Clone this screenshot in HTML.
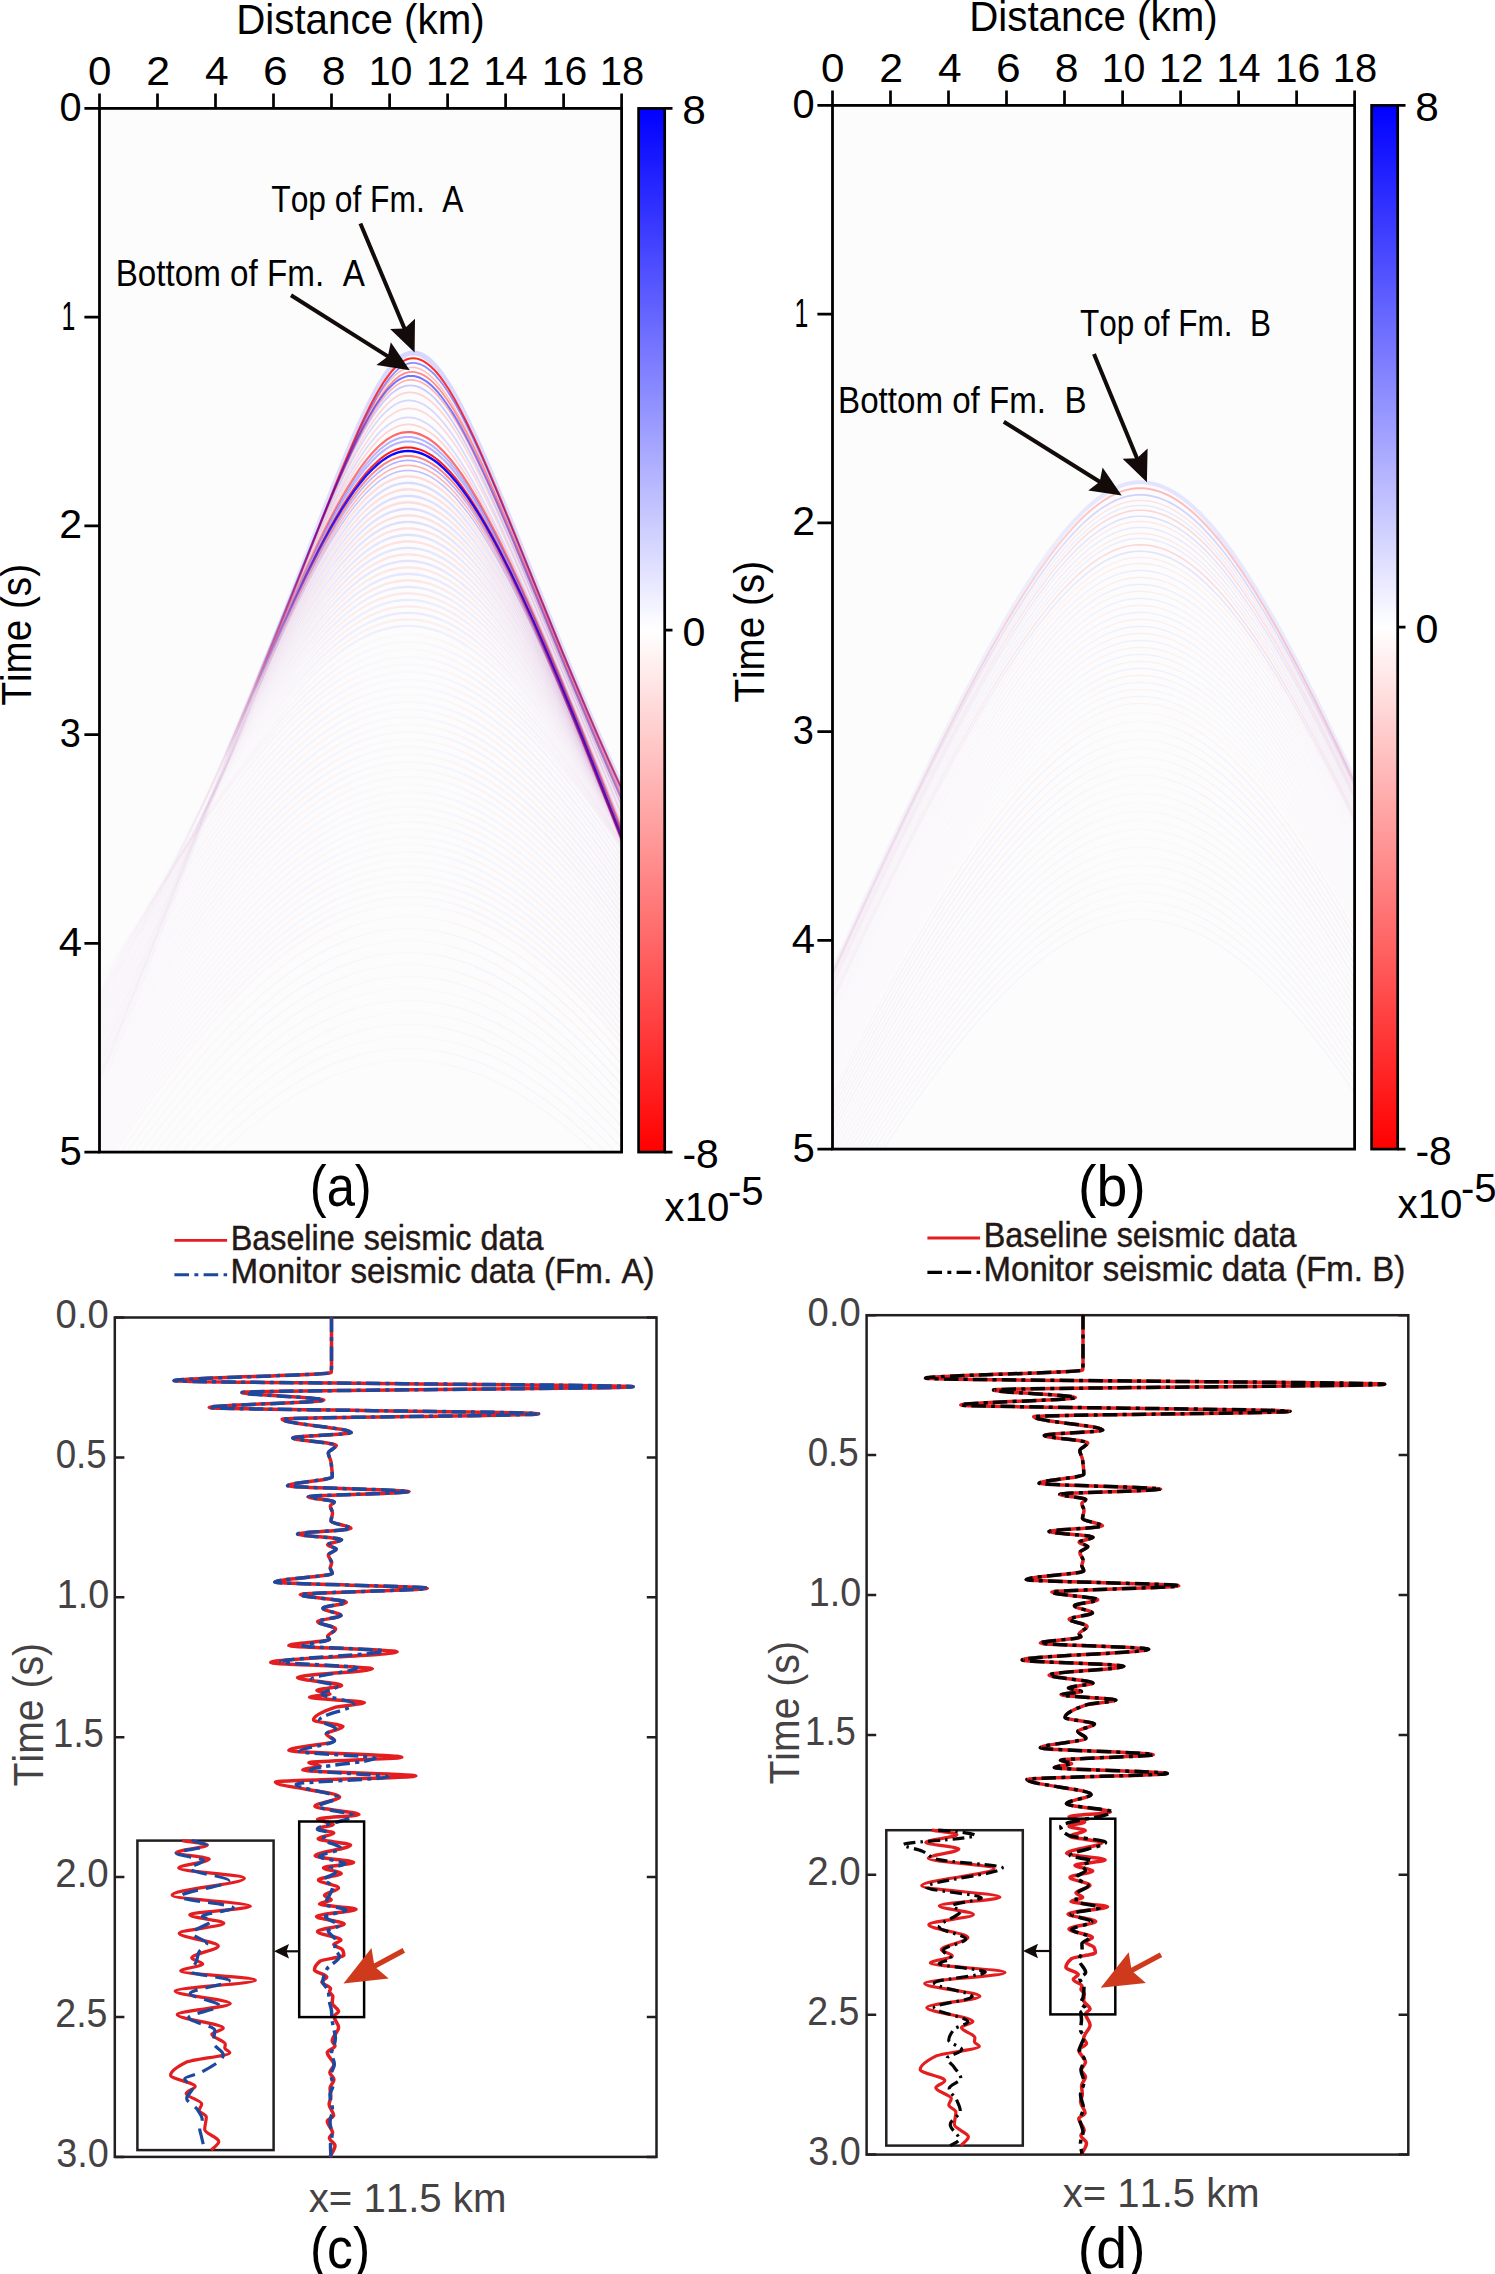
<!DOCTYPE html><html><head><meta charset="utf-8"><title>Seismic figure</title><style>html,body{margin:0;padding:0;background:#fff;}svg{display:block;font-family:"Liberation Sans",sans-serif;font-kerning:none;}text{font-family:"Liberation Sans",sans-serif;white-space:pre;}</style></head><body><svg width="1495" height="2274" viewBox="0 0 1495 2274"><defs><clipPath id="clipa"><rect x="99.5" y="108.4" width="522.1" height="1043.7"/></clipPath><linearGradient id="aLr" gradientUnits="userSpaceOnUse" x1="408.0" y1="0" x2="99.5" y2="0"><stop offset="0" stop-color="#ff0000" stop-opacity="1"/><stop offset="0.25" stop-color="#ff0000" stop-opacity="0.8"/><stop offset="0.4" stop-color="#ff0000" stop-opacity="0.35"/><stop offset="0.5" stop-color="#ff0000" stop-opacity="0.12"/><stop offset="0.6" stop-color="#ff0000" stop-opacity="0.035"/><stop offset="1" stop-color="#ff0000" stop-opacity="0.012"/></linearGradient><linearGradient id="aRr" gradientUnits="userSpaceOnUse" x1="408.0" y1="0" x2="621.6" y2="0"><stop offset="0" stop-color="#ff0000" stop-opacity="1"/><stop offset="0.5" stop-color="#ff0000" stop-opacity="0.85"/><stop offset="1" stop-color="#ff0000" stop-opacity="0.75"/></linearGradient><linearGradient id="aLfr" gradientUnits="userSpaceOnUse" x1="408.0" y1="0" x2="99.5" y2="0"><stop offset="0" stop-color="#ff0000" stop-opacity="1"/><stop offset="0.3" stop-color="#ff0000" stop-opacity="0.5"/><stop offset="0.5" stop-color="#ff0000" stop-opacity="0.15"/><stop offset="0.7" stop-color="#ff0000" stop-opacity="0.05"/><stop offset="1" stop-color="#ff0000" stop-opacity="0.03"/></linearGradient><linearGradient id="aRfr" gradientUnits="userSpaceOnUse" x1="408.0" y1="0" x2="621.6" y2="0"><stop offset="0" stop-color="#ff0000" stop-opacity="1"/><stop offset="0.3" stop-color="#ff0000" stop-opacity="0.6"/><stop offset="1" stop-color="#ff0000" stop-opacity="0.35"/></linearGradient><linearGradient id="aLgr" gradientUnits="userSpaceOnUse" x1="408.0" y1="0" x2="99.5" y2="0"><stop offset="0" stop-color="#ff0000" stop-opacity="0.3"/><stop offset="0.3" stop-color="#ff0000" stop-opacity="0.8"/><stop offset="0.6" stop-color="#ff0000" stop-opacity="0.6"/><stop offset="1" stop-color="#ff0000" stop-opacity="0.5"/></linearGradient><linearGradient id="aRgr" gradientUnits="userSpaceOnUse" x1="408.0" y1="0" x2="621.6" y2="0"><stop offset="0" stop-color="#ff0000" stop-opacity="0.3"/><stop offset="0.3" stop-color="#ff0000" stop-opacity="0.9"/><stop offset="1" stop-color="#ff0000" stop-opacity="1"/></linearGradient><linearGradient id="aLb" gradientUnits="userSpaceOnUse" x1="408.0" y1="0" x2="99.5" y2="0"><stop offset="0" stop-color="#0000ff" stop-opacity="1"/><stop offset="0.25" stop-color="#0000ff" stop-opacity="0.8"/><stop offset="0.4" stop-color="#0000ff" stop-opacity="0.35"/><stop offset="0.5" stop-color="#0000ff" stop-opacity="0.12"/><stop offset="0.6" stop-color="#0000ff" stop-opacity="0.035"/><stop offset="1" stop-color="#0000ff" stop-opacity="0.012"/></linearGradient><linearGradient id="aRb" gradientUnits="userSpaceOnUse" x1="408.0" y1="0" x2="621.6" y2="0"><stop offset="0" stop-color="#0000ff" stop-opacity="1"/><stop offset="0.5" stop-color="#0000ff" stop-opacity="0.85"/><stop offset="1" stop-color="#0000ff" stop-opacity="0.75"/></linearGradient><linearGradient id="aLfb" gradientUnits="userSpaceOnUse" x1="408.0" y1="0" x2="99.5" y2="0"><stop offset="0" stop-color="#0000ff" stop-opacity="1"/><stop offset="0.3" stop-color="#0000ff" stop-opacity="0.5"/><stop offset="0.5" stop-color="#0000ff" stop-opacity="0.15"/><stop offset="0.7" stop-color="#0000ff" stop-opacity="0.05"/><stop offset="1" stop-color="#0000ff" stop-opacity="0.03"/></linearGradient><linearGradient id="aRfb" gradientUnits="userSpaceOnUse" x1="408.0" y1="0" x2="621.6" y2="0"><stop offset="0" stop-color="#0000ff" stop-opacity="1"/><stop offset="0.3" stop-color="#0000ff" stop-opacity="0.6"/><stop offset="1" stop-color="#0000ff" stop-opacity="0.35"/></linearGradient><linearGradient id="aLgb" gradientUnits="userSpaceOnUse" x1="408.0" y1="0" x2="99.5" y2="0"><stop offset="0" stop-color="#0000ff" stop-opacity="0.3"/><stop offset="0.3" stop-color="#0000ff" stop-opacity="0.8"/><stop offset="0.6" stop-color="#0000ff" stop-opacity="0.6"/><stop offset="1" stop-color="#0000ff" stop-opacity="0.5"/></linearGradient><linearGradient id="aRgb" gradientUnits="userSpaceOnUse" x1="408.0" y1="0" x2="621.6" y2="0"><stop offset="0" stop-color="#0000ff" stop-opacity="0.3"/><stop offset="0.3" stop-color="#0000ff" stop-opacity="0.9"/><stop offset="1" stop-color="#0000ff" stop-opacity="1"/></linearGradient><linearGradient id="cba" x1="0" y1="0" x2="0" y2="1"><stop offset="0" stop-color="#0000ff"/><stop offset="0.5" stop-color="#ffffff"/><stop offset="1" stop-color="#ff0000"/></linearGradient><clipPath id="clipb"><rect x="832.5" y="105.4" width="522.1" height="1043.7"/></clipPath><linearGradient id="bLr" gradientUnits="userSpaceOnUse" x1="1140.0" y1="0" x2="832.5" y2="0"><stop offset="0" stop-color="#ff0000" stop-opacity="1"/><stop offset="0.3" stop-color="#ff0000" stop-opacity="0.6"/><stop offset="0.7" stop-color="#ff0000" stop-opacity="0.4"/><stop offset="1" stop-color="#ff0000" stop-opacity="0.3"/></linearGradient><linearGradient id="bRr" gradientUnits="userSpaceOnUse" x1="1140.0" y1="0" x2="1354.6" y2="0"><stop offset="0" stop-color="#ff0000" stop-opacity="1"/><stop offset="0.5" stop-color="#ff0000" stop-opacity="0.75"/><stop offset="1" stop-color="#ff0000" stop-opacity="0.6"/></linearGradient><linearGradient id="bLfr" gradientUnits="userSpaceOnUse" x1="1140.0" y1="0" x2="832.5" y2="0"><stop offset="0" stop-color="#ff0000" stop-opacity="1"/><stop offset="0.2" stop-color="#ff0000" stop-opacity="0.6"/><stop offset="0.5" stop-color="#ff0000" stop-opacity="0.4"/><stop offset="1" stop-color="#ff0000" stop-opacity="0.3"/></linearGradient><linearGradient id="bRfr" gradientUnits="userSpaceOnUse" x1="1140.0" y1="0" x2="1354.6" y2="0"><stop offset="0" stop-color="#ff0000" stop-opacity="1"/><stop offset="0.3" stop-color="#ff0000" stop-opacity="0.6"/><stop offset="1" stop-color="#ff0000" stop-opacity="0.35"/></linearGradient><linearGradient id="bLgr" gradientUnits="userSpaceOnUse" x1="1140.0" y1="0" x2="832.5" y2="0"><stop offset="0" stop-color="#ff0000" stop-opacity="0.3"/><stop offset="0.25" stop-color="#ff0000" stop-opacity="0.9"/><stop offset="0.6" stop-color="#ff0000" stop-opacity="1"/><stop offset="1" stop-color="#ff0000" stop-opacity="0.9"/></linearGradient><linearGradient id="bRgr" gradientUnits="userSpaceOnUse" x1="1140.0" y1="0" x2="1354.6" y2="0"><stop offset="0" stop-color="#ff0000" stop-opacity="0.3"/><stop offset="0.3" stop-color="#ff0000" stop-opacity="0.9"/><stop offset="1" stop-color="#ff0000" stop-opacity="1"/></linearGradient><linearGradient id="bLb" gradientUnits="userSpaceOnUse" x1="1140.0" y1="0" x2="832.5" y2="0"><stop offset="0" stop-color="#0000ff" stop-opacity="1"/><stop offset="0.3" stop-color="#0000ff" stop-opacity="0.6"/><stop offset="0.7" stop-color="#0000ff" stop-opacity="0.4"/><stop offset="1" stop-color="#0000ff" stop-opacity="0.3"/></linearGradient><linearGradient id="bRb" gradientUnits="userSpaceOnUse" x1="1140.0" y1="0" x2="1354.6" y2="0"><stop offset="0" stop-color="#0000ff" stop-opacity="1"/><stop offset="0.5" stop-color="#0000ff" stop-opacity="0.75"/><stop offset="1" stop-color="#0000ff" stop-opacity="0.6"/></linearGradient><linearGradient id="bLfb" gradientUnits="userSpaceOnUse" x1="1140.0" y1="0" x2="832.5" y2="0"><stop offset="0" stop-color="#0000ff" stop-opacity="1"/><stop offset="0.2" stop-color="#0000ff" stop-opacity="0.6"/><stop offset="0.5" stop-color="#0000ff" stop-opacity="0.4"/><stop offset="1" stop-color="#0000ff" stop-opacity="0.3"/></linearGradient><linearGradient id="bRfb" gradientUnits="userSpaceOnUse" x1="1140.0" y1="0" x2="1354.6" y2="0"><stop offset="0" stop-color="#0000ff" stop-opacity="1"/><stop offset="0.3" stop-color="#0000ff" stop-opacity="0.6"/><stop offset="1" stop-color="#0000ff" stop-opacity="0.35"/></linearGradient><linearGradient id="bLgb" gradientUnits="userSpaceOnUse" x1="1140.0" y1="0" x2="832.5" y2="0"><stop offset="0" stop-color="#0000ff" stop-opacity="0.3"/><stop offset="0.25" stop-color="#0000ff" stop-opacity="0.9"/><stop offset="0.6" stop-color="#0000ff" stop-opacity="1"/><stop offset="1" stop-color="#0000ff" stop-opacity="0.9"/></linearGradient><linearGradient id="bRgb" gradientUnits="userSpaceOnUse" x1="1140.0" y1="0" x2="1354.6" y2="0"><stop offset="0" stop-color="#0000ff" stop-opacity="0.3"/><stop offset="0.3" stop-color="#0000ff" stop-opacity="0.9"/><stop offset="1" stop-color="#0000ff" stop-opacity="1"/></linearGradient><linearGradient id="cbb" x1="0" y1="0" x2="0" y2="1"><stop offset="0" stop-color="#0000ff"/><stop offset="0.5" stop-color="#ffffff"/><stop offset="1" stop-color="#ff0000"/></linearGradient></defs><rect x="0" y="0" width="1495" height="2274" fill="#fff"/><rect x="99.5" y="108.4" width="522.1" height="1043.7" fill="#fcfcfd"/><g clip-path="url(#clipa)" fill="none"><path d="M413.0,352.9L410.0,353.2L407.0,354.0L404.0,355.4L401.0,357.3L398.0,359.8L395.0,362.7L392.0,366.0L389.0,369.8L386.0,374.0L383.0,378.5L377.0,388.6L371.0,399.9L365.0,412.1L359.0,425.1L353.0,438.8L347.0,453.0L341.0,467.6L335.0,482.5L329.0,497.6L323.0,512.9L311.0,543.8L299.0,574.7L287.0,605.3L275.0,635.6L263.0,665.2L251.0,694.2L239.0,722.4L227.0,749.7L215.0,776.1L203.0,801.6L183.0,842.0L163.0,879.4L143.0,914.0L123.0,945.6L103.0,974.1L83.0,999.6" stroke="url(#aLb)" stroke-opacity="0.15" stroke-width="5"/><path d="M413.0,352.9L416.0,353.2L419.0,353.9L422.0,355.1L425.0,356.9L428.0,359.0L431.0,361.6L434.0,364.6L437.0,368.0L440.0,371.8L443.0,375.9L449.0,385.1L455.0,395.5L461.0,406.7L467.0,418.8L473.0,431.6L479.0,444.9L485.0,458.6L491.0,472.7L497.0,487.1L503.0,501.7L515.0,531.3L527.0,561.3L539.0,591.2L551.0,621.0L563.0,650.4L575.0,679.4L587.0,707.9L599.0,735.8L611.0,763.0L623.0,789.5L643.0,832.0" stroke="url(#aRb)" stroke-opacity="0.15" stroke-width="5"/><path d="M413.0,358.2L410.0,358.5L407.0,359.3L404.0,360.7L401.0,362.5L398.0,364.9L395.0,367.8L392.0,371.0L389.0,374.8L386.0,378.9L383.0,383.3L377.0,393.2L371.0,404.3L365.0,416.4L359.0,429.2L353.0,442.8L347.0,456.8L341.0,471.2L335.0,486.0L329.0,501.0L323.0,516.2L311.0,546.8L299.0,577.5L287.0,607.9L275.0,638.0L263.0,667.6L251.0,696.4L239.0,724.5L227.0,751.7L215.0,778.1L203.0,803.5L183.0,843.7L163.0,881.1L143.0,915.6L123.0,947.2L103.0,975.6L83.0,1001.1" stroke="url(#aLr)" stroke-opacity="0.85" stroke-width="2.0"/><path d="M413.0,358.2L416.0,358.4L419.0,359.2L422.0,360.4L425.0,362.1L428.0,364.2L431.0,366.7L434.0,369.7L437.0,373.0L440.0,376.7L443.0,380.8L449.0,389.8L455.0,400.0L461.0,411.1L467.0,423.0L473.0,435.6L479.0,448.7L485.0,462.3L491.0,476.3L497.0,490.5L503.0,505.0L515.0,534.4L527.0,564.2L539.0,593.9L551.0,623.5L563.0,652.8L575.0,681.7L587.0,710.1L599.0,737.8L611.0,765.0L623.0,791.4L643.0,833.8" stroke="url(#aRr)" stroke-opacity="0.85" stroke-width="2.0"/><path d="M413.0,362.9L410.0,363.2L407.0,364.0L404.0,365.3L401.0,367.1L398.0,369.4L395.0,372.1L392.0,375.3L389.0,378.9L386.0,382.9L383.0,387.2L377.0,396.9L371.0,407.7L365.0,419.4L359.0,432.0L353.0,445.2L347.0,459.0L341.0,473.2L335.0,487.7L329.0,502.5L323.0,517.5L311.0,547.8L299.0,578.3L287.0,608.6L275.0,638.5L263.0,668.0L251.0,696.9L239.0,725.1L227.0,752.4L215.0,779.0L203.0,804.7L183.0,845.4L163.0,883.5L143.0,918.8L123.0,951.3L103.0,980.9L83.0,1007.6" stroke="url(#aLb)" stroke-opacity="0.45" stroke-width="1.8"/><path d="M413.0,362.9L416.0,363.1L419.0,363.9L422.0,365.0L425.0,366.6L428.0,368.7L431.0,371.2L434.0,374.0L437.0,377.3L440.0,380.9L443.0,384.8L449.0,393.6L455.0,403.5L461.0,414.4L467.0,426.0L473.0,438.4L479.0,451.3L485.0,464.7L491.0,478.4L497.0,492.5L503.0,506.8L515.0,535.9L527.0,565.4L539.0,595.0L551.0,624.6L563.0,653.8L575.0,682.7L587.0,711.2L599.0,739.1L611.0,766.4L623.0,793.0L643.0,835.9" stroke="url(#aRb)" stroke-opacity="0.45" stroke-width="1.8"/><path d="M412.0,367.4L409.0,367.7L406.0,368.4L403.0,369.7L400.0,371.5L397.0,373.7L394.0,376.3L391.0,379.4L388.0,382.9L385.0,386.7L382.0,390.9L376.0,400.3L370.0,410.8L364.0,422.3L358.0,434.6L352.0,447.6L346.0,461.1L340.0,475.1L334.0,489.4L328.0,504.0L322.0,518.8L310.0,548.8L298.0,579.0L286.0,609.1L274.0,639.0L262.0,668.4L250.0,697.3L238.0,725.6L226.0,753.1L214.0,779.9L202.0,805.8L182.0,847.1L162.0,885.9L142.0,922.0L122.0,955.5L102.0,986.2L82.0,1014.1" stroke="url(#aLr)" stroke-opacity="0.25" stroke-width="1.5"/><path d="M412.0,367.4L415.0,367.6L418.0,368.3L421.0,369.5L424.0,371.0L427.0,373.0L430.0,375.4L433.0,378.2L436.0,381.3L439.0,384.8L442.0,388.7L448.0,397.2L454.0,406.9L460.0,417.5L466.0,428.9L472.0,441.0L478.0,453.7L484.0,466.9L490.0,480.5L496.0,494.3L502.0,508.5L514.0,537.3L526.0,566.6L538.0,596.1L550.0,625.5L562.0,654.8L574.0,683.7L586.0,712.2L598.0,740.2L610.0,767.7L622.0,794.6L642.0,838.0" stroke="url(#aRr)" stroke-opacity="0.25" stroke-width="1.5"/><path d="M412.0,371.9L409.0,372.2L406.0,372.9L403.0,374.1L400.0,375.8L397.0,378.0L394.0,380.5L391.0,383.5L388.0,386.9L385.0,390.6L382.0,394.7L376.0,403.8L370.0,414.1L364.0,425.3L358.0,437.3L352.0,450.0L346.0,463.3L340.0,477.0L334.0,491.1L328.0,505.5L322.0,520.1L310.0,549.8L298.0,579.8L286.0,609.7L274.0,639.5L262.0,668.9L250.0,697.8L238.0,726.1L226.0,753.8L214.0,780.8L202.0,807.0L182.0,848.8L162.0,888.2L142.0,925.2L122.0,959.6L102.0,991.4L82.0,1020.5" stroke="url(#aLr)" stroke-opacity="0.45" stroke-width="1.8"/><path d="M412.0,371.9L415.0,372.1L418.0,372.8L421.0,373.9L424.0,375.4L427.0,377.3L430.0,379.7L433.0,382.4L436.0,385.4L439.0,388.8L442.0,392.5L448.0,400.9L454.0,410.3L460.0,420.7L466.0,431.9L472.0,443.8L478.0,456.2L484.0,469.2L490.0,482.6L496.0,496.3L502.0,510.2L514.0,538.8L526.0,567.9L538.0,597.2L550.0,626.5L562.0,655.7L574.0,684.7L586.0,713.3L598.0,741.4L610.0,769.1L622.0,796.2L642.0,840.1" stroke="url(#aRr)" stroke-opacity="0.45" stroke-width="1.8"/><path d="M411.0,375.9L408.0,376.1L405.0,376.9L402.0,378.1L399.0,379.7L396.0,381.8L393.0,384.3L390.0,387.2L387.0,390.4L384.0,394.1L381.0,398.1L375.0,407.0L369.0,417.0L363.0,428.0L357.0,439.7L351.0,452.2L345.0,465.3L339.0,478.8L333.0,492.7L327.0,506.9L321.0,521.4L309.0,550.8L297.0,580.5L285.0,610.3L273.0,640.0L261.0,669.3L249.0,698.3L237.0,726.7L225.0,754.5L213.0,781.6L201.0,808.0L181.0,850.3L161.0,890.4L141.0,928.1L121.0,963.3L101.0,996.1L81.0,1026.3" stroke="url(#aLb)" stroke-opacity="0.55" stroke-width="2.0"/><path d="M411.0,375.9L414.0,376.1L417.0,376.8L420.0,377.8L423.0,379.3L426.0,381.2L429.0,383.4L432.0,386.1L435.0,389.0L438.0,392.4L441.0,396.0L447.0,404.2L453.0,413.4L459.0,423.5L465.0,434.5L471.0,446.2L477.0,458.5L483.0,471.3L489.0,484.4L495.0,498.0L501.0,511.8L513.0,540.1L525.0,569.0L537.0,598.2L549.0,627.4L561.0,656.6L573.0,685.6L585.0,714.2L597.0,742.5L609.0,770.3L621.0,797.7L641.0,842.0" stroke="url(#aRb)" stroke-opacity="0.55" stroke-width="2.0"/><path d="M411.0,379.9L408.0,380.1L405.0,380.8L402.0,382.0L399.0,383.6L396.0,385.6L393.0,388.0L390.0,390.8L387.0,394.0L384.0,397.6L381.0,401.4L375.0,410.1L369.0,419.9L363.0,430.7L357.0,442.2L351.0,454.5L345.0,467.3L339.0,480.6L333.0,494.3L327.0,508.4L321.0,522.6L309.0,551.8L297.0,581.3L285.0,610.9L273.0,640.5L261.0,669.8L249.0,698.8L237.0,727.2L225.0,755.1L213.0,782.4L201.0,809.1L181.0,851.8L161.0,892.5L141.0,930.9L121.0,967.0L101.0,1000.8L81.0,1032.1" stroke="url(#aLr)" stroke-opacity="0.30" stroke-width="1.6"/><path d="M411.0,379.9L414.0,380.1L417.0,380.7L420.0,381.8L423.0,383.2L426.0,385.0L429.0,387.2L432.0,389.8L435.0,392.7L438.0,395.9L441.0,399.5L447.0,407.4L453.0,416.5L459.0,426.4L465.0,437.2L471.0,448.7L477.0,460.8L483.0,473.4L489.0,486.4L495.0,499.8L501.0,513.5L513.0,541.5L525.0,570.2L537.0,599.2L549.0,628.4L561.0,657.5L573.0,686.5L585.0,715.2L597.0,743.6L609.0,771.6L621.0,799.1L641.0,843.9" stroke="url(#aRr)" stroke-opacity="0.30" stroke-width="1.6"/><path d="M410.0,385.4L407.0,385.6L404.0,386.3L401.0,387.4L398.0,388.9L395.0,390.9L392.0,393.2L389.0,395.9L386.0,399.0L383.0,402.4L380.0,406.1L374.0,414.5L368.0,424.0L362.0,434.4L356.0,445.7L350.0,457.6L344.0,470.1L338.0,483.2L332.0,496.6L326.0,510.4L320.0,524.5L308.0,553.2L296.0,582.4L284.0,611.8L272.0,641.3L260.0,670.5L248.0,699.5L236.0,728.0L224.0,756.1L212.0,783.6L200.0,810.6L180.0,854.0L160.0,895.4L140.0,934.9L120.0,972.1L100.0,1007.2L80.0,1040.0" stroke="url(#aLb)" stroke-opacity="0.20" stroke-width="1.8"/><path d="M410.0,385.4L413.0,385.6L416.0,386.2L419.0,387.2L422.0,388.6L425.0,390.3L428.0,392.5L431.0,394.9L434.0,397.7L437.0,400.8L440.0,404.3L446.0,412.0L452.0,420.8L458.0,430.4L464.0,440.9L470.0,452.1L476.0,464.0L482.0,476.3L488.0,489.1L494.0,502.3L500.0,515.8L512.0,543.5L524.0,571.9L536.0,600.7L548.0,629.8L560.0,658.9L572.0,687.9L584.0,716.7L596.0,745.2L608.0,773.4L620.0,801.2L640.0,846.5" stroke="url(#aRb)" stroke-opacity="0.20" stroke-width="1.8"/><path d="M410.0,392.4L407.0,392.6L404.0,393.2L401.0,394.3L398.0,395.7L395.0,397.6L392.0,399.8L389.0,402.4L386.0,405.3L383.0,408.6L380.0,412.1L374.0,420.2L368.0,429.2L362.0,439.3L356.0,450.1L350.0,461.7L344.0,473.9L338.0,486.5L332.0,499.6L326.0,513.1L320.0,526.9L308.0,555.1L296.0,584.0L284.0,613.1L272.0,642.3L260.0,671.5L248.0,700.5L236.0,729.2L224.0,757.4L212.0,785.2L200.0,812.5L180.0,856.8L160.0,899.3L140.0,939.9L120.0,978.7L100.0,1015.4L80.0,1050.2" stroke="url(#aLr)" stroke-opacity="0.16" stroke-width="1.8"/><path d="M410.0,392.4L413.0,392.6L416.0,393.2L419.0,394.1L422.0,395.4L425.0,397.1L428.0,399.1L431.0,401.5L434.0,404.2L437.0,407.1L440.0,410.4L446.0,417.8L452.0,426.3L458.0,435.6L464.0,445.8L470.0,456.6L476.0,468.1L482.0,480.2L488.0,492.7L494.0,505.6L500.0,518.8L512.0,546.1L524.0,574.1L536.0,602.7L548.0,631.6L560.0,660.6L572.0,689.6L584.0,718.6L596.0,747.3L608.0,775.7L620.0,803.9L640.0,849.9" stroke="url(#aRr)" stroke-opacity="0.16" stroke-width="1.8"/><path d="M409.0,400.4L406.0,400.6L403.0,401.2L400.0,402.2L397.0,403.5L394.0,405.3L391.0,407.4L388.0,409.8L385.0,412.6L382.0,415.7L379.0,419.0L373.0,426.7L367.0,435.3L361.0,444.9L355.0,455.4L349.0,466.5L343.0,478.2L337.0,490.5L331.0,503.3L325.0,516.4L319.0,529.8L307.0,557.5L295.0,585.9L283.0,614.7L271.0,643.7L259.0,672.8L247.0,701.8L235.0,730.5L223.0,759.0L211.0,787.1L199.0,814.9L179.0,860.0L159.0,903.7L139.0,945.8L119.0,986.2L99.0,1024.9L79.0,1061.8" stroke="url(#aLb)" stroke-opacity="0.15" stroke-width="1.8"/><path d="M409.0,400.4L412.0,400.6L415.0,401.1L418.0,402.0L421.0,403.3L424.0,404.8L427.0,406.8L430.0,409.0L433.0,411.5L436.0,414.4L439.0,417.5L445.0,424.6L451.0,432.6L457.0,441.6L463.0,451.4L469.0,461.9L475.0,473.0L481.0,484.7L487.0,496.9L493.0,509.5L499.0,522.4L511.0,549.2L523.0,576.8L535.0,605.1L547.0,633.8L559.0,662.8L571.0,691.8L583.0,720.8L595.0,749.7L607.0,778.5L619.0,807.0L639.0,853.9" stroke="url(#aRb)" stroke-opacity="0.15" stroke-width="1.8"/><path d="M409.0,408.4L406.0,408.6L403.0,409.1L400.0,410.1L397.0,411.4L394.0,413.0L391.0,415.0L388.0,417.3L385.0,419.9L382.0,422.8L379.0,426.0L373.0,433.3L367.0,441.5L361.0,450.7L355.0,460.7L349.0,471.4L343.0,482.8L337.0,494.7L331.0,507.0L325.0,519.8L319.0,532.9L307.0,560.0L295.0,587.9L283.0,616.4L271.0,645.2L259.0,674.2L247.0,703.1L235.0,732.0L223.0,760.7L211.0,789.1L199.0,817.3L179.0,863.3L159.0,908.1L139.0,951.6L119.0,993.7L99.0,1034.3L79.0,1073.4" stroke="url(#aLr)" stroke-opacity="0.14" stroke-width="1.8"/><path d="M409.0,408.4L412.0,408.6L415.0,409.1L418.0,409.9L421.0,411.1L424.0,412.6L427.0,414.4L430.0,416.5L433.0,419.0L436.0,421.7L439.0,424.6L445.0,431.4L451.0,439.1L457.0,447.7L463.0,457.1L469.0,467.3L475.0,478.0L481.0,489.4L487.0,501.2L493.0,513.5L499.0,526.1L511.0,552.4L523.0,579.7L535.0,607.7L547.0,636.2L559.0,665.0L571.0,694.0L583.0,723.1L595.0,752.3L607.0,781.3L619.0,810.2L639.0,857.9" stroke="url(#aRr)" stroke-opacity="0.14" stroke-width="1.8"/><path d="M408.0,417.4L405.0,417.6L402.0,418.1L399.0,419.0L396.0,420.2L393.0,421.7L390.0,423.5L387.0,425.7L384.0,428.2L381.0,430.9L378.0,433.9L372.0,440.8L366.0,448.6L360.0,457.4L354.0,466.9L348.0,477.1L342.0,488.0L336.0,499.5L330.0,511.4L324.0,523.8L318.0,536.6L306.0,563.0L294.0,590.4L282.0,618.5L270.0,647.1L258.0,675.9L246.0,704.8L234.0,733.8L222.0,762.7L210.0,791.5L198.0,820.1L178.0,867.1L158.0,913.2L138.0,958.3L118.0,1002.3L98.0,1045.0L78.0,1086.5" stroke="url(#aLb)" stroke-opacity="0.14" stroke-width="1.8"/><path d="M408.0,417.4L411.0,417.6L414.0,418.0L417.0,418.8L420.0,419.9L423.0,421.4L426.0,423.1L429.0,425.1L432.0,427.3L435.0,429.9L438.0,432.7L444.0,439.1L450.0,446.5L456.0,454.7L462.0,463.7L468.0,473.4L474.0,483.8L480.0,494.8L486.0,506.2L492.0,518.2L498.0,530.5L510.0,556.2L522.0,583.0L534.0,610.7L546.0,638.9L558.0,667.7L570.0,696.7L582.0,725.9L594.0,755.2L606.0,784.6L618.0,813.9L638.0,862.5" stroke="url(#aRb)" stroke-opacity="0.14" stroke-width="1.8"/><path d="M408.0,424.4L405.0,424.6L402.0,425.1L399.0,425.9L396.0,427.0L393.0,428.5L390.0,430.2L387.0,432.3L384.0,434.6L381.0,437.2L378.0,440.1L372.0,446.7L366.0,454.2L360.0,462.6L354.0,471.8L348.0,481.7L342.0,492.3L336.0,503.4L330.0,515.0L324.0,527.1L318.0,539.6L306.0,565.5L294.0,592.5L282.0,620.3L270.0,648.6L258.0,677.3L246.0,706.3L234.0,735.3L222.0,764.4L210.0,793.4L198.0,822.3L178.0,870.1L158.0,917.2L138.0,963.6L118.0,1009.0L98.0,1053.4L78.0,1096.7" stroke="url(#aLr)" stroke-opacity="0.16" stroke-width="1.8"/><path d="M408.0,424.4L411.0,424.6L414.0,425.0L417.0,425.8L420.0,426.8L423.0,428.2L426.0,429.8L429.0,431.7L432.0,433.9L435.0,436.3L438.0,439.0L444.0,445.2L450.0,452.3L456.0,460.2L462.0,468.9L468.0,478.3L474.0,488.4L480.0,499.1L486.0,510.3L492.0,521.9L498.0,534.0L510.0,559.3L522.0,585.7L534.0,613.1L546.0,641.2L558.0,669.8L570.0,698.8L582.0,728.1L594.0,757.6L606.0,787.2L618.0,816.8L638.0,866.1" stroke="url(#aRr)" stroke-opacity="0.16" stroke-width="1.8"/><path d="M408.0,432.1L405.0,432.3L402.0,432.7L399.0,433.5L396.0,434.6L393.0,435.9L390.0,437.6L387.0,439.5L384.0,441.8L381.0,444.3L378.0,447.0L372.0,453.2L366.0,460.4L360.0,468.4L354.0,477.3L348.0,486.8L342.0,497.0L336.0,507.8L330.0,519.1L324.0,530.8L318.0,543.0L306.0,568.4L294.0,594.9L282.0,622.4L270.0,650.5L258.0,679.0L246.0,707.9L234.0,737.1L222.0,766.3L210.0,795.6L198.0,824.9L178.0,873.5L158.0,921.7L138.0,969.3L118.0,1016.3L98.0,1062.5L78.0,1107.9" stroke="url(#aLr)" stroke-opacity="0.60" stroke-width="2.2"/><path d="M408.0,432.1L411.0,432.2L414.0,432.7L417.0,433.4L420.0,434.4L423.0,435.7L426.0,437.2L429.0,439.0L432.0,441.1L435.0,443.4L438.0,446.0L444.0,451.9L450.0,458.7L456.0,466.3L462.0,474.7L468.0,483.8L474.0,493.6L480.0,503.9L486.0,514.8L492.0,526.2L498.0,538.0L510.0,562.8L522.0,588.9L534.0,615.9L546.0,643.8L558.0,672.3L570.0,701.3L582.0,730.7L594.0,760.3L606.0,790.1L618.0,820.1L638.0,870.2" stroke="url(#aRr)" stroke-opacity="0.60" stroke-width="2.2"/><path d="M408.0,436.9L405.0,437.1L402.0,437.5L399.0,438.2L396.0,439.3L393.0,440.6L390.0,442.2L387.0,444.1L384.0,446.2L381.0,448.6L378.0,451.3L372.0,457.4L366.0,464.3L360.0,472.1L354.0,480.7L348.0,490.1L342.0,500.0L336.0,510.6L330.0,521.6L324.0,533.2L318.0,545.2L306.0,570.3L294.0,596.5L282.0,623.7L270.0,651.7L258.0,680.2L246.0,709.0L234.0,738.2L222.0,767.6L210.0,797.0L198.0,826.5L178.0,875.6L158.0,924.5L138.0,973.0L118.0,1020.9L98.0,1068.3L78.0,1115.0" stroke="url(#aLb)" stroke-opacity="0.30" stroke-width="2"/><path d="M408.0,436.9L411.0,437.0L414.0,437.5L417.0,438.2L420.0,439.1L423.0,440.4L426.0,441.9L429.0,443.6L432.0,445.6L435.0,447.9L438.0,450.4L444.0,456.1L450.0,462.7L456.0,470.1L462.0,478.3L468.0,487.3L474.0,496.8L480.0,507.0L486.0,517.7L492.0,528.9L498.0,540.6L510.0,565.0L522.0,590.9L534.0,617.7L546.0,645.5L558.0,673.9L570.0,702.9L582.0,732.3L594.0,762.0L606.0,792.0L618.0,822.2L638.0,872.7" stroke="url(#aRb)" stroke-opacity="0.30" stroke-width="2"/><path d="M408.0,441.4L405.0,441.5L402.0,442.0L399.0,442.7L396.0,443.7L393.0,445.0L390.0,446.5L387.0,448.3L384.0,450.4L381.0,452.8L378.0,455.3L372.0,461.2L366.0,468.0L360.0,475.6L354.0,484.0L348.0,493.1L342.0,502.9L336.0,513.2L330.0,524.1L324.0,535.5L318.0,547.3L306.0,572.0L294.0,598.1L282.0,625.1L270.0,652.8L258.0,681.2L246.0,710.1L234.0,739.3L222.0,768.8L210.0,798.4L198.0,828.1L178.0,877.7L158.0,927.2L138.0,976.4L118.0,1025.3L98.0,1073.7L78.0,1121.5" stroke="url(#aLb)" stroke-opacity="0.30" stroke-width="2"/><path d="M408.0,441.4L411.0,441.5L414.0,441.9L417.0,442.6L420.0,443.5L423.0,444.7L426.0,446.2L429.0,447.9L432.0,449.9L435.0,452.1L438.0,454.5L444.0,460.1L450.0,466.5L456.0,473.8L462.0,481.8L468.0,490.5L474.0,499.9L480.0,509.9L486.0,520.4L492.0,531.5L498.0,543.0L510.0,567.2L522.0,592.8L534.0,619.5L546.0,647.1L558.0,675.5L570.0,704.4L582.0,733.9L594.0,763.7L606.0,793.8L618.0,824.2L638.0,875.2" stroke="url(#aRb)" stroke-opacity="0.30" stroke-width="2"/><path d="M408.0,447.5L405.0,447.6L402.0,448.1L399.0,448.7L396.0,449.7L393.0,450.9L390.0,452.4L387.0,454.1L384.0,456.1L381.0,458.4L378.0,460.9L372.0,466.5L366.0,473.0L360.0,480.4L354.0,488.5L348.0,497.4L342.0,506.8L336.0,516.9L330.0,527.5L324.0,538.7L318.0,550.2L306.0,574.5L294.0,600.2L282.0,626.9L270.0,654.5L258.0,682.8L246.0,711.6L234.0,740.9L222.0,770.4L210.0,800.2L198.0,830.2L178.0,880.4L158.0,930.8L138.0,981.1L118.0,1031.2L98.0,1081.0L78.0,1130.5" stroke="url(#aLr)" stroke-opacity="0.90" stroke-width="2.0"/><path d="M408.0,447.5L411.0,447.6L414.0,448.0L417.0,448.7L420.0,449.6L423.0,450.7L426.0,452.1L429.0,453.8L432.0,455.6L435.0,457.8L438.0,460.1L444.0,465.5L450.0,471.7L456.0,478.7L462.0,486.5L468.0,495.0L474.0,504.2L480.0,513.9L486.0,524.2L492.0,535.0L498.0,546.3L510.0,570.2L522.0,595.4L534.0,621.9L546.0,649.3L558.0,677.6L570.0,706.5L582.0,736.0L594.0,766.0L606.0,796.3L618.0,826.9L638.0,878.5" stroke="url(#aRr)" stroke-opacity="0.90" stroke-width="2.0"/><path d="M408.0,451.0L405.0,451.1L402.0,451.5L399.0,452.2L396.0,453.1L393.0,454.3L390.0,455.8L387.0,457.5L384.0,459.4L381.0,461.6L378.0,464.0L372.0,469.6L366.0,475.9L360.0,483.2L354.0,491.1L348.0,499.8L342.0,509.1L336.0,519.1L330.0,529.5L324.0,540.5L318.0,551.9L306.0,576.0L294.0,601.5L282.0,628.0L270.0,655.5L258.0,683.7L246.0,712.5L234.0,741.8L222.0,771.4L210.0,801.3L198.0,831.5L178.0,882.1L158.0,932.9L138.0,983.7L118.0,1034.6L98.0,1085.2L78.0,1135.6" stroke="url(#aLb)" stroke-opacity="1.00" stroke-width="2.4"/><path d="M408.0,451.0L411.0,451.1L414.0,451.5L417.0,452.1L420.0,453.0L423.0,454.1L426.0,455.5L429.0,457.1L432.0,458.9L435.0,461.0L438.0,463.3L444.0,468.6L450.0,474.7L456.0,481.6L462.0,489.2L468.0,497.6L474.0,506.6L480.0,516.2L486.0,526.4L492.0,537.1L498.0,548.3L510.0,571.9L522.0,597.0L534.0,623.3L546.0,650.7L558.0,678.9L570.0,707.8L582.0,737.3L594.0,767.3L606.0,797.7L618.0,828.5L638.0,880.4" stroke="url(#aRb)" stroke-opacity="1.00" stroke-width="2.4"/><path d="M408.0,456.0L405.0,456.1L402.0,456.5L399.0,457.2L396.0,458.1L393.0,459.2L390.0,460.7L387.0,462.3L384.0,464.2L381.0,466.4L378.0,468.7L372.0,474.1L366.0,480.4L360.0,487.5L354.0,495.4L348.0,503.9L342.0,513.2L336.0,523.0L330.0,533.4L324.0,544.3L318.0,555.7L306.0,579.7L294.0,605.2L282.0,631.8L270.0,659.5L258.0,688.0L246.0,717.1L234.0,746.8L222.0,776.9L210.0,807.4L198.0,838.2L178.0,890.0L158.0,942.2L138.0,994.7L118.0,1047.3L98.0,1100.0L78.0,1152.5" stroke="url(#aLr)" stroke-opacity="0.50" stroke-width="2.0"/><path d="M408.0,456.0L411.0,456.1L414.0,456.5L417.0,457.1L420.0,458.0L423.0,459.1L426.0,460.4L429.0,462.0L432.0,463.8L435.0,465.8L438.0,468.0L444.0,473.2L450.0,479.2L456.0,485.9L462.0,493.5L468.0,501.7L474.0,510.5L480.0,520.0L486.0,530.1L492.0,540.6L498.0,551.7L510.0,575.1L522.0,600.0L534.0,626.2L546.0,653.5L558.0,681.6L570.0,710.6L582.0,740.1L594.0,770.3L606.0,800.8L618.0,831.8L638.0,884.1" stroke="url(#aRr)" stroke-opacity="0.50" stroke-width="2.0"/><path d="M408.0,460.4L405.0,460.5L402.0,460.9L399.0,461.5L396.0,462.4L393.0,463.6L390.0,464.9L387.0,466.6L384.0,468.4L381.0,470.5L378.0,472.8L372.0,478.1L366.0,484.3L360.0,491.2L354.0,498.9L348.0,507.3L342.0,516.4L336.0,526.0L330.0,536.2L324.0,546.9L318.0,558.1L306.0,581.8L294.0,606.8L282.0,633.1L270.0,660.4L258.0,688.5L246.0,717.3L234.0,746.6L222.0,776.4L210.0,806.6L198.0,837.0L178.0,888.3L158.0,940.1L138.0,992.1L118.0,1044.2L98.0,1096.4L78.0,1148.6" stroke="url(#aLb)" stroke-opacity="0.30" stroke-width="1.6"/><path d="M408.0,460.4L411.0,460.5L414.0,460.9L417.0,461.5L420.0,462.3L423.0,463.4L426.0,464.7L429.0,466.2L432.0,468.0L435.0,470.0L438.0,472.2L444.0,477.2L450.0,483.1L456.0,489.7L462.0,497.1L468.0,505.1L474.0,513.9L480.0,523.2L486.0,533.0L492.0,543.4L498.0,554.3L510.0,577.4L522.0,601.9L534.0,627.8L546.0,654.7L558.0,682.5L570.0,711.1L582.0,740.3L594.0,770.1L606.0,800.4L618.0,831.1L638.0,882.9" stroke="url(#aRb)" stroke-opacity="0.30" stroke-width="1.6"/><path d="M408.0,465.4L405.0,465.5L402.0,465.9L399.0,466.5L396.0,467.4L393.0,468.5L390.0,469.8L387.0,471.4L384.0,473.2L381.0,475.3L378.0,477.5L372.0,482.7L366.0,488.7L360.0,495.5L354.0,503.0L348.0,511.2L342.0,520.0L336.0,529.5L330.0,539.5L324.0,550.0L318.0,560.9L306.0,584.1L294.0,608.8L282.0,634.6L270.0,661.5L258.0,689.2L246.0,717.6L234.0,746.5L222.0,775.9L210.0,805.7L198.0,835.8L178.0,886.5L158.0,937.7L138.0,989.1L118.0,1040.8L98.0,1092.4L78.0,1144.1" stroke="url(#aLr)" stroke-opacity="0.30" stroke-width="1.6"/><path d="M408.0,465.4L411.0,465.5L414.0,465.9L417.0,466.5L420.0,467.3L423.0,468.3L426.0,469.6L429.0,471.1L432.0,472.8L435.0,474.7L438.0,476.9L444.0,481.8L450.0,487.5L456.0,494.0L462.0,501.2L468.0,509.1L474.0,517.6L480.0,526.8L486.0,536.4L492.0,546.6L498.0,557.3L510.0,580.0L522.0,604.1L534.0,629.5L546.0,656.1L558.0,683.5L570.0,711.7L582.0,740.6L594.0,770.1L606.0,800.0L618.0,830.3L638.0,881.6" stroke="url(#aRr)" stroke-opacity="0.30" stroke-width="1.6"/><path d="M408.0,470.4L405.0,470.5L402.0,470.9L399.0,471.5L396.0,472.3L393.0,473.4L390.0,474.7L387.0,476.2L384.0,478.0L381.0,480.0L378.0,482.2L372.0,487.2L366.0,493.1L360.0,499.7L354.0,507.0L348.0,515.1L342.0,523.7L336.0,533.0L330.0,542.7L324.0,553.0L318.0,563.8L306.0,586.6L294.0,610.8L282.0,636.2L270.0,662.6L258.0,689.9L246.0,717.9L234.0,746.4L222.0,775.5L210.0,804.9L198.0,834.6L178.0,884.7L158.0,935.3L138.0,986.3L118.0,1037.3L98.0,1088.5L78.0,1139.6" stroke="url(#aLb)" stroke-opacity="0.25" stroke-width="1.5"/><path d="M408.0,470.4L411.0,470.5L414.0,470.9L417.0,471.4L420.0,472.2L423.0,473.2L426.0,474.5L429.0,475.9L432.0,477.6L435.0,479.5L438.0,481.6L444.0,486.4L450.0,492.0L456.0,498.3L462.0,505.4L468.0,513.1L474.0,521.4L480.0,530.4L486.0,539.9L492.0,549.9L498.0,560.4L510.0,582.6L522.0,606.3L534.0,631.4L546.0,657.5L558.0,684.6L570.0,712.4L582.0,741.0L594.0,770.1L606.0,799.6L618.0,829.6L638.0,880.4" stroke="url(#aRb)" stroke-opacity="0.25" stroke-width="1.5"/><path d="M408.0,476.4L405.0,476.5L402.0,476.9L399.0,477.5L396.0,478.3L393.0,479.3L390.0,480.6L387.0,482.1L384.0,483.8L381.0,485.7L378.0,487.8L372.0,492.7L366.0,498.4L360.0,504.8L354.0,512.0L348.0,519.8L342.0,528.2L336.0,537.2L330.0,546.7L324.0,556.8L318.0,567.3L306.0,589.5L294.0,613.2L282.0,638.2L270.0,664.1L258.0,690.9L246.0,718.4L234.0,746.5L222.0,775.0L210.0,804.0L198.0,833.3L178.0,882.7L158.0,932.6L138.0,982.9L118.0,1033.3L98.0,1083.8L78.0,1134.3" stroke="url(#aLfr)" stroke-opacity="0.14" stroke-width="2.4"/><path d="M408.0,476.4L411.0,476.5L414.0,476.8L417.0,477.4L420.0,478.2L423.0,479.2L426.0,480.4L429.0,481.8L432.0,483.4L435.0,485.2L438.0,487.3L444.0,491.9L450.0,497.4L456.0,503.5L462.0,510.4L468.0,517.9L474.0,526.1L480.0,534.8L486.0,544.0L492.0,553.8L498.0,564.1L510.0,585.8L522.0,609.1L534.0,633.7L546.0,659.3L558.0,685.9L570.0,713.4L582.0,741.4L594.0,770.1L606.0,799.3L618.0,828.9L638.0,879.0" stroke="url(#aRfr)" stroke-opacity="0.14" stroke-width="2.4"/><path d="M408.0,482.9L405.0,483.0L402.0,483.4L399.0,483.9L396.0,484.7L393.0,485.7L390.0,486.9L387.0,488.4L384.0,490.0L381.0,491.9L378.0,494.0L372.0,498.7L366.0,504.2L360.0,510.4L354.0,517.3L348.0,524.9L342.0,533.1L336.0,541.8L330.0,551.1L324.0,560.9L318.0,571.1L306.0,592.8L294.0,616.0L282.0,640.4L270.0,665.8L258.0,692.0L246.0,719.0L234.0,746.6L222.0,774.6L210.0,803.1L198.0,831.9L178.0,880.6L158.0,929.7L138.0,979.3L118.0,1029.0L98.0,1078.9L78.0,1128.7" stroke="url(#aLfb)" stroke-opacity="0.14" stroke-width="2.4"/><path d="M408.0,482.9L411.0,483.0L414.0,483.3L417.0,483.9L420.0,484.6L423.0,485.6L426.0,486.7L429.0,488.1L432.0,489.7L435.0,491.5L438.0,493.4L444.0,498.0L450.0,503.2L456.0,509.2L462.0,515.9L468.0,523.2L474.0,531.1L480.0,539.6L486.0,548.6L492.0,558.1L498.0,568.1L510.0,589.4L522.0,612.2L534.0,636.2L546.0,661.4L558.0,687.5L570.0,714.4L582.0,742.0L594.0,770.3L606.0,799.0L618.0,828.1L638.0,877.5" stroke="url(#aRfb)" stroke-opacity="0.14" stroke-width="2.4"/><path d="M408.0,489.4L405.0,489.5L402.0,489.8L399.0,490.4L396.0,491.1L393.0,492.1L390.0,493.3L387.0,494.7L384.0,496.3L381.0,498.1L378.0,500.1L372.0,504.7L366.0,510.0L360.0,516.0L354.0,522.7L348.0,530.1L342.0,538.0L336.0,546.5L330.0,555.6L324.0,565.1L318.0,575.1L306.0,596.2L294.0,618.8L282.0,642.7L270.0,667.5L258.0,693.2L246.0,719.7L234.0,746.8L222.0,774.3L210.0,802.3L198.0,830.7L178.0,878.5L158.0,927.0L138.0,975.8L118.0,1024.8L98.0,1074.0L78.0,1123.1" stroke="url(#aLfr)" stroke-opacity="0.13" stroke-width="2.4"/><path d="M408.0,489.4L411.0,489.5L414.0,489.8L417.0,490.3L420.0,491.1L423.0,492.0L426.0,493.1L429.0,494.4L432.0,496.0L435.0,497.7L438.0,499.6L444.0,504.0L450.0,509.1L456.0,514.9L462.0,521.4L468.0,528.5L474.0,536.2L480.0,544.4L486.0,553.2L492.0,562.5L498.0,572.3L510.0,593.0L522.0,615.3L534.0,638.9L546.0,663.5L558.0,689.1L570.0,715.6L582.0,742.7L594.0,770.5L606.0,798.8L618.0,827.5L638.0,876.1" stroke="url(#aRfr)" stroke-opacity="0.13" stroke-width="2.4"/><path d="M408.0,495.9L405.0,496.0L402.0,496.3L399.0,496.8L396.0,497.6L393.0,498.5L390.0,499.7L387.0,501.0L384.0,502.6L381.0,504.3L378.0,506.2L372.0,510.7L366.0,515.8L360.0,521.7L354.0,528.2L348.0,535.3L342.0,543.0L336.0,551.3L330.0,560.1L324.0,569.3L318.0,579.0L306.0,599.7L294.0,621.8L282.0,645.0L270.0,669.4L258.0,694.6L246.0,720.5L234.0,747.1L222.0,774.1L210.0,801.6L198.0,829.5L178.0,876.6L158.0,924.3L138.0,972.4L118.0,1020.7L98.0,1069.2L78.0,1117.7" stroke="url(#aLfb)" stroke-opacity="0.13" stroke-width="2.4"/><path d="M408.0,495.9L411.0,496.0L414.0,496.3L417.0,496.8L420.0,497.5L423.0,498.4L426.0,499.5L429.0,500.8L432.0,502.3L435.0,503.9L438.0,505.8L444.0,510.0L450.0,515.0L456.0,520.6L462.0,526.9L468.0,533.8L474.0,541.3L480.0,549.4L486.0,557.9L492.0,567.0L498.0,576.5L510.0,596.7L522.0,618.5L534.0,641.6L546.0,665.7L558.0,690.9L570.0,716.8L582.0,743.5L594.0,770.8L606.0,798.6L618.0,826.9L638.0,874.9" stroke="url(#aRfb)" stroke-opacity="0.13" stroke-width="2.4"/><path d="M408.0,502.4L405.0,502.5L402.0,502.8L399.0,503.3L396.0,504.0L393.0,504.9L390.0,506.0L387.0,507.4L384.0,508.8L381.0,510.5L378.0,512.4L372.0,516.7L366.0,521.7L360.0,527.4L354.0,533.7L348.0,540.6L342.0,548.1L336.0,556.1L330.0,564.6L324.0,573.7L318.0,583.1L306.0,603.2L294.0,624.8L282.0,647.5L270.0,671.3L258.0,696.0L246.0,721.4L234.0,747.4L222.0,774.0L210.0,801.1L198.0,828.5L178.0,874.8L158.0,921.7L138.0,969.1L118.0,1016.7L98.0,1064.5L78.0,1112.3" stroke="url(#aLfr)" stroke-opacity="0.13" stroke-width="2.4"/><path d="M408.0,502.4L411.0,502.5L414.0,502.8L417.0,503.3L420.0,504.0L423.0,504.8L426.0,505.9L429.0,507.1L432.0,508.6L435.0,510.2L438.0,512.0L444.0,516.1L450.0,520.9L456.0,526.4L462.0,532.5L468.0,539.2L474.0,546.5L480.0,554.3L486.0,562.6L492.0,571.5L498.0,580.7L510.0,600.5L522.0,621.8L534.0,644.4L546.0,668.0L558.0,692.7L570.0,718.2L582.0,744.4L594.0,771.2L606.0,798.6L618.0,826.4L638.0,873.7" stroke="url(#aRfr)" stroke-opacity="0.13" stroke-width="2.4"/><path d="M408.0,508.9L405.0,509.0L402.0,509.3L399.0,509.8L396.0,510.5L393.0,511.4L390.0,512.4L387.0,513.7L384.0,515.1L381.0,516.8L378.0,518.6L372.0,522.7L366.0,527.6L360.0,533.1L354.0,539.2L348.0,545.9L342.0,553.2L336.0,561.0L330.0,569.3L324.0,578.0L318.0,587.2L306.0,606.8L294.0,627.8L282.0,650.1L270.0,673.3L258.0,697.5L246.0,722.4L234.0,747.9L222.0,774.0L210.0,800.6L198.0,827.5L178.0,873.0L158.0,919.2L138.0,965.8L118.0,1012.8L98.0,1059.8L78.0,1107.0" stroke="url(#aLfb)" stroke-opacity="0.12" stroke-width="2.4"/><path d="M408.0,508.9L411.0,509.0L414.0,509.3L417.0,509.7L420.0,510.4L423.0,511.2L426.0,512.3L429.0,513.5L432.0,514.9L435.0,516.4L438.0,518.2L444.0,522.2L450.0,526.8L456.0,532.2L462.0,538.1L468.0,544.6L474.0,551.7L480.0,559.3L486.0,567.4L492.0,576.0L498.0,585.1L510.0,604.4L522.0,625.2L534.0,647.2L546.0,670.4L558.0,694.6L570.0,719.6L582.0,745.4L594.0,771.7L606.0,798.7L618.0,826.1L638.0,872.6" stroke="url(#aRfb)" stroke-opacity="0.12" stroke-width="2.4"/><path d="M408.0,515.4L405.0,515.5L402.0,515.8L399.0,516.3L396.0,516.9L393.0,517.8L390.0,518.8L387.0,520.0L384.0,521.4L381.0,523.0L378.0,524.8L372.0,528.8L366.0,533.5L360.0,538.8L354.0,544.7L348.0,551.2L342.0,558.3L336.0,565.9L330.0,573.9L324.0,582.5L318.0,591.4L306.0,610.5L294.0,631.0L282.0,652.7L270.0,675.5L258.0,699.1L246.0,723.5L234.0,748.5L222.0,774.1L210.0,800.2L198.0,826.6L178.0,871.4L158.0,916.8L138.0,962.7L118.0,1008.9L98.0,1055.3L78.0,1101.8" stroke="url(#aLfr)" stroke-opacity="0.12" stroke-width="2.4"/><path d="M408.0,515.4L411.0,515.5L414.0,515.8L417.0,516.2L420.0,516.9L423.0,517.7L426.0,518.7L429.0,519.8L432.0,521.2L435.0,522.7L438.0,524.4L444.0,528.3L450.0,532.8L456.0,538.0L462.0,543.7L468.0,550.0L474.0,556.9L480.0,564.3L486.0,572.2L492.0,580.6L498.0,589.4L510.0,608.3L522.0,628.6L534.0,650.2L546.0,672.9L558.0,696.6L570.0,721.1L582.0,746.4L594.0,772.3L606.0,798.8L618.0,825.8L638.0,871.6" stroke="url(#aRfr)" stroke-opacity="0.12" stroke-width="2.4"/><path d="M408.0,521.9L405.0,522.0L402.0,522.3L399.0,522.7L396.0,523.4L393.0,524.2L390.0,525.2L387.0,526.4L384.0,527.7L381.0,529.3L378.0,531.0L372.0,534.8L366.0,539.4L360.0,544.5L354.0,550.3L348.0,556.6L342.0,563.5L336.0,570.8L330.0,578.7L324.0,586.9L318.0,595.7L306.0,614.3L294.0,634.2L282.0,655.4L270.0,677.7L258.0,700.8L246.0,724.7L234.0,749.2L222.0,774.3L210.0,799.9L198.0,825.9L178.0,869.9L158.0,914.5L138.0,959.7L118.0,1005.2L98.0,1050.9L78.0,1096.7" stroke="url(#aLfb)" stroke-opacity="0.12" stroke-width="2.4"/><path d="M408.0,521.9L411.0,522.0L414.0,522.3L417.0,522.7L420.0,523.3L423.0,524.1L426.0,525.1L429.0,526.2L432.0,527.5L435.0,529.0L438.0,530.6L444.0,534.4L450.0,538.8L456.0,543.8L462.0,549.4L468.0,555.5L474.0,562.2L480.0,569.4L486.0,577.1L492.0,585.3L498.0,593.9L510.0,612.3L522.0,632.1L534.0,653.2L546.0,675.5L558.0,698.7L570.0,722.7L582.0,747.6L594.0,773.0L606.0,799.0L618.0,825.6L638.0,870.7" stroke="url(#aRfb)" stroke-opacity="0.12" stroke-width="2.4"/><path d="M408.0,528.4L405.0,528.5L402.0,528.8L399.0,529.2L396.0,529.8L393.0,530.6L390.0,531.6L387.0,532.7L384.0,534.0L381.0,535.5L378.0,537.2L372.0,540.9L366.0,545.3L360.0,550.3L354.0,555.9L348.0,562.0L342.0,568.7L336.0,575.8L330.0,583.4L324.0,591.5L318.0,600.0L306.0,618.1L294.0,637.6L282.0,658.2L270.0,680.0L258.0,702.6L246.0,726.0L234.0,750.0L222.0,774.6L210.0,799.7L198.0,825.2L178.0,868.4L158.0,912.3L138.0,956.8L118.0,1001.5L98.0,1046.5L78.0,1091.6" stroke="url(#aLfr)" stroke-opacity="0.11" stroke-width="2.4"/><path d="M408.0,528.4L411.0,528.5L414.0,528.7L417.0,529.2L420.0,529.8L423.0,530.5L426.0,531.5L429.0,532.6L432.0,533.8L435.0,535.3L438.0,536.8L444.0,540.5L450.0,544.8L456.0,549.6L462.0,555.0L468.0,561.0L474.0,567.5L480.0,574.6L486.0,582.0L492.0,590.0L498.0,598.4L510.0,616.3L522.0,635.7L534.0,656.3L546.0,678.1L558.0,700.8L570.0,724.4L582.0,748.8L594.0,773.8L606.0,799.4L618.0,825.5L638.0,869.9" stroke="url(#aRfr)" stroke-opacity="0.11" stroke-width="2.4"/><path d="M408.0,534.9L405.0,535.0L402.0,535.2L399.0,535.7L396.0,536.3L393.0,537.0L390.0,538.0L387.0,539.1L384.0,540.4L381.0,541.8L378.0,543.4L372.0,547.0L366.0,551.3L360.0,556.1L354.0,561.5L348.0,567.5L342.0,573.9L336.0,580.9L330.0,588.3L324.0,596.1L318.0,604.3L306.0,622.0L294.0,641.0L282.0,661.1L270.0,682.4L258.0,704.5L246.0,727.3L234.0,750.9L222.0,775.0L210.0,799.6L198.0,824.6L178.0,867.1L158.0,910.2L138.0,953.9L118.0,998.0L98.0,1042.3L78.0,1086.7" stroke="url(#aLfb)" stroke-opacity="0.11" stroke-width="2.4"/><path d="M408.0,534.9L411.0,535.0L414.0,535.2L417.0,535.6L420.0,536.2L423.0,537.0L426.0,537.9L429.0,538.9L432.0,540.2L435.0,541.5L438.0,543.1L444.0,546.6L450.0,550.8L456.0,555.5L462.0,560.8L468.0,566.6L474.0,572.9L480.0,579.7L486.0,587.0L492.0,594.7L498.0,602.9L510.0,620.4L522.0,639.3L534.0,659.5L546.0,680.8L558.0,703.1L570.0,726.2L582.0,750.1L594.0,774.7L606.0,799.8L618.0,825.4L638.0,869.1" stroke="url(#aRfb)" stroke-opacity="0.11" stroke-width="2.4"/><path d="M408.0,541.4L405.0,541.5L402.0,541.7L399.0,542.2L396.0,542.7L393.0,543.5L390.0,544.4L387.0,545.5L384.0,546.7L381.0,548.1L378.0,549.6L372.0,553.1L366.0,557.2L360.0,561.9L354.0,567.2L348.0,572.9L342.0,579.2L336.0,585.9L330.0,593.1L324.0,600.7L318.0,608.8L306.0,625.9L294.0,644.4L282.0,664.1L270.0,684.8L258.0,706.4L246.0,728.8L234.0,751.9L222.0,775.5L210.0,799.6L198.0,824.2L178.0,865.8L158.0,908.2L138.0,951.2L118.0,994.5L98.0,1038.1L78.0,1081.9" stroke="url(#aLfr)" stroke-opacity="0.11" stroke-width="2.4"/><path d="M408.0,541.4L411.0,541.5L414.0,541.7L417.0,542.1L420.0,542.7L423.0,543.4L426.0,544.3L429.0,545.3L432.0,546.5L435.0,547.8L438.0,549.3L444.0,552.8L450.0,556.8L456.0,561.4L462.0,566.5L468.0,572.1L474.0,578.3L480.0,584.9L486.0,592.0L492.0,599.6L498.0,607.5L510.0,624.6L522.0,643.0L534.0,662.8L546.0,683.6L558.0,705.4L570.0,728.1L582.0,751.5L594.0,775.6L606.0,800.3L618.0,825.5L638.0,868.5" stroke="url(#aRfr)" stroke-opacity="0.11" stroke-width="2.4"/><path d="M408.0,547.9L405.0,548.0L402.0,548.2L399.0,548.6L396.0,549.2L393.0,549.9L390.0,550.8L387.0,551.8L384.0,553.0L381.0,554.3L378.0,555.8L372.0,559.3L366.0,563.2L360.0,567.8L354.0,572.9L348.0,578.4L342.0,584.5L336.0,591.1L330.0,598.0L324.0,605.4L318.0,613.2L306.0,629.9L294.0,648.0L282.0,667.2L270.0,687.4L258.0,708.5L246.0,730.4L234.0,752.9L222.0,776.1L210.0,799.7L198.0,823.8L178.0,864.7L158.0,906.3L138.0,948.6L118.0,991.2L98.0,1034.1L78.0,1077.1" stroke="url(#aLfb)" stroke-opacity="0.10" stroke-width="2.4"/><path d="M408.0,547.9L411.0,548.0L414.0,548.2L417.0,548.6L420.0,549.1L423.0,549.8L426.0,550.7L429.0,551.7L432.0,552.8L435.0,554.1L438.0,555.6L444.0,558.9L450.0,562.8L456.0,567.3L462.0,572.2L468.0,577.7L474.0,583.7L480.0,590.2L486.0,597.1L492.0,604.4L498.0,612.1L510.0,628.8L522.0,646.8L534.0,666.1L546.0,686.5L558.0,707.8L570.0,730.0L582.0,753.0L594.0,776.7L606.0,800.9L618.0,825.7L638.0,867.9" stroke="url(#aRfb)" stroke-opacity="0.10" stroke-width="2.4"/><path d="M408.0,554.4L405.0,554.5L402.0,554.7L399.0,555.1L396.0,555.6L393.0,556.3L390.0,557.2L387.0,558.2L384.0,559.3L381.0,560.6L378.0,562.1L372.0,565.4L366.0,569.2L360.0,573.6L354.0,578.6L348.0,584.0L342.0,589.9L336.0,596.2L330.0,603.0L324.0,610.2L318.0,617.8L306.0,634.0L294.0,651.6L282.0,670.3L270.0,690.0L258.0,710.6L246.0,732.0L234.0,754.1L222.0,776.8L210.0,799.9L198.0,823.5L178.0,863.7L158.0,904.6L138.0,946.0L118.0,987.9L98.0,1030.1L78.0,1072.5" stroke="url(#aLfr)" stroke-opacity="0.10" stroke-width="2.4"/><path d="M408.0,554.4L411.0,554.5L414.0,554.7L417.0,555.1L420.0,555.6L423.0,556.3L426.0,557.1L429.0,558.1L432.0,559.2L435.0,560.5L438.0,561.9L444.0,565.1L450.0,568.9L456.0,573.2L462.0,578.0L468.0,583.4L474.0,589.2L480.0,595.4L486.0,602.2L492.0,609.3L498.0,616.8L510.0,633.1L522.0,650.6L534.0,669.5L546.0,689.4L558.0,710.3L570.0,732.1L582.0,754.6L594.0,777.8L606.0,801.6L618.0,825.9L638.0,867.5" stroke="url(#aRfr)" stroke-opacity="0.10" stroke-width="2.4"/><path d="M408.0,560.9L405.0,561.0L402.0,561.2L399.0,561.6L396.0,562.1L393.0,562.8L390.0,563.6L387.0,564.6L384.0,565.7L381.0,566.9L378.0,568.3L372.0,571.5L366.0,575.3L360.0,579.5L354.0,584.3L348.0,589.6L342.0,595.3L336.0,601.4L330.0,608.0L324.0,615.0L318.0,622.4L306.0,638.2L294.0,655.3L282.0,673.5L270.0,692.7L258.0,712.9L246.0,733.8L234.0,755.4L222.0,777.6L210.0,800.2L198.0,823.4L178.0,862.7L158.0,902.9L138.0,943.6L118.0,984.8L98.0,1026.3L78.0,1067.9" stroke="url(#aLfb)" stroke-opacity="0.10" stroke-width="2.4"/><path d="M408.0,560.9L411.0,561.0L414.0,561.2L417.0,561.6L420.0,562.1L423.0,562.7L426.0,563.5L429.0,564.5L432.0,565.5L435.0,566.8L438.0,568.1L444.0,571.3L450.0,574.9L456.0,579.1L462.0,583.8L468.0,589.0L474.0,594.7L480.0,600.8L486.0,607.3L492.0,614.2L498.0,621.6L510.0,637.4L522.0,654.5L534.0,672.9L546.0,692.4L558.0,712.9L570.0,734.2L582.0,756.3L594.0,779.0L606.0,802.4L618.0,826.3L638.0,867.1" stroke="url(#aRfb)" stroke-opacity="0.10" stroke-width="2.4"/><path d="M408.0,567.4L405.0,567.5L402.0,567.7L399.0,568.1L396.0,568.6L393.0,569.2L390.0,570.0L387.0,570.9L384.0,572.0L381.0,573.2L378.0,574.6L372.0,577.7L366.0,581.3L360.0,585.4L354.0,590.1L348.0,595.1L342.0,600.7L336.0,606.7L330.0,613.1L324.0,619.8L318.0,627.0L306.0,642.4L294.0,659.0L282.0,676.8L270.0,695.5L258.0,715.2L246.0,735.6L234.0,756.7L222.0,778.4L210.0,800.7L198.0,823.3L178.0,861.9L158.0,901.3L138.0,941.3L118.0,981.7L98.0,1022.5L78.0,1063.5" stroke="url(#aLfr)" stroke-opacity="0.09" stroke-width="2.4"/><path d="M408.0,567.4L411.0,567.5L414.0,567.7L417.0,568.0L420.0,568.5L423.0,569.2L426.0,569.9L429.0,570.9L432.0,571.9L435.0,573.1L438.0,574.4L444.0,577.5L450.0,581.0L456.0,585.1L462.0,589.6L468.0,594.7L474.0,600.2L480.0,606.1L486.0,612.5L492.0,619.2L498.0,626.4L510.0,641.8L522.0,658.5L534.0,676.5L546.0,695.5L558.0,715.5L570.0,736.4L582.0,758.0L594.0,780.3L606.0,803.2L618.0,826.7L638.0,866.8" stroke="url(#aRfr)" stroke-opacity="0.09" stroke-width="2.4"/><path d="M408.0,573.9L405.0,574.0L402.0,574.2L399.0,574.5L396.0,575.0L393.0,575.7L390.0,576.4L387.0,577.3L384.0,578.4L381.0,579.5L378.0,580.9L372.0,583.9L366.0,587.4L360.0,591.4L354.0,595.8L348.0,600.8L342.0,606.1L336.0,611.9L330.0,618.1L324.0,624.7L318.0,631.7L306.0,646.6L294.0,662.8L282.0,680.1L270.0,698.4L258.0,717.6L246.0,737.6L234.0,758.2L222.0,779.4L210.0,801.2L198.0,823.3L178.0,861.2L158.0,899.8L138.0,939.0L118.0,978.8L98.0,1018.8L78.0,1059.1" stroke="url(#aLfb)" stroke-opacity="0.09" stroke-width="2.4"/><path d="M408.0,573.9L411.0,574.0L414.0,574.2L417.0,574.5L420.0,575.0L423.0,575.6L426.0,576.4L429.0,577.3L432.0,578.3L435.0,579.4L438.0,580.7L444.0,583.7L450.0,587.1L456.0,591.1L462.0,595.5L468.0,600.4L474.0,605.7L480.0,611.5L486.0,617.7L492.0,624.2L498.0,631.2L510.0,646.2L522.0,662.5L534.0,680.1L546.0,698.7L558.0,718.2L570.0,738.6L582.0,759.8L594.0,781.7L606.0,804.2L618.0,827.2L638.0,866.6" stroke="url(#aRfb)" stroke-opacity="0.09" stroke-width="2.4"/><path d="M408.0,580.4L405.0,580.5L402.0,580.7L399.0,581.0L396.0,581.5L393.0,582.1L390.0,582.8L387.0,583.7L384.0,584.7L381.0,585.9L378.0,587.1L372.0,590.0L366.0,593.4L360.0,597.3L354.0,601.6L348.0,606.4L342.0,611.6L336.0,617.3L330.0,623.3L324.0,629.7L318.0,636.4L306.0,650.9L294.0,666.7L282.0,683.6L270.0,701.4L258.0,720.1L246.0,739.6L234.0,759.7L222.0,780.5L210.0,801.8L198.0,823.5L178.0,860.5L158.0,898.4L138.0,936.9L118.0,975.9L98.0,1015.3L78.0,1054.9" stroke="url(#aLfr)" stroke-opacity="0.09" stroke-width="2.4"/><path d="M408.0,580.4L411.0,580.5L414.0,580.7L417.0,581.0L420.0,581.5L423.0,582.1L426.0,582.8L429.0,583.7L432.0,584.6L435.0,585.8L438.0,587.0L444.0,589.9L450.0,593.2L456.0,597.0L462.0,601.3L468.0,606.1L474.0,611.3L480.0,616.9L486.0,622.9L492.0,629.3L498.0,636.1L510.0,650.7L522.0,666.6L534.0,683.7L546.0,701.9L558.0,721.0L570.0,741.0L582.0,761.8L594.0,783.2L606.0,805.2L618.0,827.8L638.0,866.5" stroke="url(#aRfr)" stroke-opacity="0.09" stroke-width="2.4"/><path d="M408.0,586.9L405.0,587.0L402.0,587.2L399.0,587.5L396.0,588.0L393.0,588.5L390.0,589.3L387.0,590.1L384.0,591.1L381.0,592.2L378.0,593.4L372.0,596.2L366.0,599.5L360.0,603.3L354.0,607.5L348.0,612.1L342.0,617.2L336.0,622.6L330.0,628.4L324.0,634.7L318.0,641.2L306.0,655.3L294.0,670.6L282.0,687.1L270.0,704.4L258.0,722.7L246.0,741.7L234.0,761.4L222.0,781.7L210.0,802.5L198.0,823.7L178.0,860.0L158.0,897.1L138.0,934.9L118.0,973.2L98.0,1011.8L78.0,1050.7" stroke="url(#aLfb)" stroke-opacity="0.08" stroke-width="2.4"/><path d="M408.0,586.9L411.0,587.0L414.0,587.2L417.0,587.5L420.0,587.9L423.0,588.5L426.0,589.2L429.0,590.1L432.0,591.0L435.0,592.1L438.0,593.3L444.0,596.1L450.0,599.3L456.0,603.0L462.0,607.2L468.0,611.8L474.0,616.9L480.0,622.3L486.0,628.2L492.0,634.4L498.0,641.0L510.0,655.2L522.0,670.8L534.0,687.4L546.0,705.2L558.0,723.9L570.0,743.4L582.0,763.8L594.0,784.8L606.0,806.4L618.0,828.5L638.0,866.5" stroke="url(#aRfb)" stroke-opacity="0.08" stroke-width="2.4"/><path d="M408.0,593.4L405.0,593.5L402.0,593.7L399.0,594.0L396.0,594.4L393.0,595.0L390.0,595.7L387.0,596.5L384.0,597.5L381.0,598.5L378.0,599.7L372.0,602.4L366.0,605.6L360.0,609.2L354.0,613.3L348.0,617.8L342.0,622.7L336.0,628.0L330.0,633.6L324.0,639.7L318.0,646.0L306.0,659.7L294.0,674.6L282.0,690.6L270.0,707.6L258.0,725.3L246.0,743.9L234.0,763.1L222.0,782.9L210.0,803.3L198.0,824.1L178.0,859.6L158.0,896.0L138.0,933.0L118.0,970.6L98.0,1008.5L78.0,1046.7" stroke="url(#aLfr)" stroke-opacity="0.08" stroke-width="2.4"/><path d="M408.0,593.4L411.0,593.5L414.0,593.7L417.0,594.0L420.0,594.4L423.0,595.0L426.0,595.6L429.0,596.5L432.0,597.4L435.0,598.4L438.0,599.6L444.0,602.3L450.0,605.5L456.0,609.1L462.0,613.1L468.0,617.6L474.0,622.5L480.0,627.8L486.0,633.5L492.0,639.5L498.0,646.0L510.0,659.8L522.0,675.0L534.0,691.2L546.0,708.6L558.0,726.8L570.0,745.9L582.0,765.8L594.0,786.4L606.0,807.6L618.0,829.3L638.0,866.6" stroke="url(#aRfr)" stroke-opacity="0.08" stroke-width="2.4"/><path d="M408.0,599.9L405.0,600.0L402.0,600.1L399.0,600.5L396.0,600.9L393.0,601.4L390.0,602.1L387.0,602.9L384.0,603.8L381.0,604.8L378.0,606.0L372.0,608.6L366.0,611.7L360.0,615.2L354.0,619.2L348.0,623.5L342.0,628.3L336.0,633.4L330.0,638.9L324.0,644.7L318.0,650.9L306.0,664.2L294.0,678.7L282.0,694.3L270.0,710.7L258.0,728.1L246.0,746.2L234.0,764.9L222.0,784.3L210.0,804.2L198.0,824.5L178.0,859.3L158.0,894.9L138.0,931.2L118.0,968.0L98.0,1005.3L78.0,1042.8" stroke="url(#aLfb)" stroke-opacity="0.07" stroke-width="2.4"/><path d="M408.0,599.9L411.0,600.0L414.0,600.1L417.0,600.4L420.0,600.9L423.0,601.4L426.0,602.1L429.0,602.9L432.0,603.8L435.0,604.8L438.0,605.9L444.0,608.5L450.0,611.6L456.0,615.1L462.0,619.0L468.0,623.4L474.0,628.1L480.0,633.3L486.0,638.8L492.0,644.7L498.0,651.0L510.0,664.5L522.0,679.2L534.0,695.1L546.0,712.0L558.0,729.8L570.0,748.5L582.0,768.0L594.0,788.1L606.0,808.9L618.0,830.2L638.0,866.8" stroke="url(#aRfb)" stroke-opacity="0.07" stroke-width="2.4"/><path d="M408.0,606.4L405.0,606.5L402.0,606.6L399.0,606.9L396.0,607.4L393.0,607.9L390.0,608.5L387.0,609.3L384.0,610.2L381.0,611.2L378.0,612.3L372.0,614.8L366.0,617.8L360.0,621.2L354.0,625.1L348.0,629.3L342.0,633.9L336.0,638.8L330.0,644.2L324.0,649.8L318.0,655.8L306.0,668.8L294.0,682.8L282.0,698.0L270.0,714.0L258.0,730.9L246.0,748.5L234.0,766.8L222.0,785.7L210.0,805.2L198.0,825.0L178.0,859.0L158.0,893.9L138.0,929.5L118.0,965.6L98.0,1002.1L78.0,1038.9" stroke="url(#aLfr)" stroke-opacity="0.07" stroke-width="2.4"/><path d="M408.0,606.4L411.0,606.5L414.0,606.6L417.0,606.9L420.0,607.3L423.0,607.9L426.0,608.5L429.0,609.3L432.0,610.1L435.0,611.1L438.0,612.2L444.0,614.8L450.0,617.7L456.0,621.1L462.0,625.0L468.0,629.2L474.0,633.8L480.0,638.8L486.0,644.2L492.0,649.9L498.0,656.0L510.0,669.1L522.0,683.5L534.0,699.0L546.0,715.5L558.0,732.9L570.0,751.2L582.0,770.2L594.0,790.0L606.0,810.3L618.0,831.2L638.0,867.1" stroke="url(#aRfr)" stroke-opacity="0.07" stroke-width="2.4"/><path d="M408.0,612.9L405.0,613.0L402.0,613.1L399.0,613.4L396.0,613.8L393.0,614.3L390.0,615.0L387.0,615.7L384.0,616.6L381.0,617.5L378.0,618.6L372.0,621.1L366.0,624.0L360.0,627.3L354.0,631.0L348.0,635.0L342.0,639.5L336.0,644.3L330.0,649.5L324.0,655.0L318.0,660.8L306.0,673.4L294.0,687.0L282.0,701.7L270.0,717.3L258.0,733.8L246.0,751.0L234.0,768.8L222.0,787.3L210.0,806.3L198.0,825.7L178.0,858.9L158.0,893.1L138.0,927.9L118.0,963.3L98.0,999.1L78.0,1035.2" stroke="url(#aLfb)" stroke-opacity="0.07" stroke-width="2.4"/><path d="M408.0,612.9L411.0,613.0L414.0,613.1L417.0,613.4L420.0,613.8L423.0,614.3L426.0,615.0L429.0,615.7L432.0,616.5L435.0,617.5L438.0,618.6L444.0,621.0L450.0,623.9L456.0,627.2L462.0,630.9L468.0,635.0L474.0,639.5L480.0,644.4L486.0,649.6L492.0,655.2L498.0,661.1L510.0,673.9L522.0,687.9L534.0,703.0L546.0,719.1L558.0,736.1L570.0,753.9L582.0,772.6L594.0,791.9L606.0,811.8L618.0,832.2L638.0,867.4" stroke="url(#aRfb)" stroke-opacity="0.07" stroke-width="2.4"/><path d="M408.0,619.4L405.0,619.5L402.0,619.6L399.0,619.9L396.0,620.3L393.0,620.8L390.0,621.4L387.0,622.1L384.0,622.9L381.0,623.9L378.0,624.9L372.0,627.3L366.0,630.1L360.0,633.3L354.0,636.9L348.0,640.8L342.0,645.1L336.0,649.8L330.0,654.8L324.0,660.2L318.0,665.8L306.0,678.0L294.0,691.3L282.0,705.6L270.0,720.8L258.0,736.8L246.0,753.5L234.0,770.9L222.0,788.9L210.0,807.4L198.0,826.4L178.0,858.9L158.0,892.3L138.0,926.5L118.0,961.1L98.0,996.2L78.0,1031.6" stroke="url(#aLfr)" stroke-opacity="0.06" stroke-width="2.4"/><path d="M408.0,619.4L411.0,619.5L414.0,619.6L417.0,619.9L420.0,620.3L423.0,620.8L426.0,621.4L429.0,622.1L432.0,622.9L435.0,623.9L438.0,624.9L444.0,627.3L450.0,630.1L456.0,633.3L462.0,636.9L468.0,640.9L474.0,645.2L480.0,649.9L486.0,655.0L492.0,660.4L498.0,666.2L510.0,678.6L522.0,692.3L534.0,707.0L546.0,722.7L558.0,739.3L570.0,756.8L582.0,775.0L594.0,793.8L606.0,813.3L618.0,833.4L638.0,867.9" stroke="url(#aRfr)" stroke-opacity="0.06" stroke-width="2.4"/><path d="M408.0,625.9L405.0,626.0L402.0,626.1L399.0,626.4L396.0,626.8L393.0,627.2L390.0,627.8L387.0,628.5L384.0,629.3L381.0,630.2L378.0,631.2L372.0,633.5L366.0,636.3L360.0,639.3L354.0,642.8L348.0,646.6L342.0,650.8L336.0,655.3L330.0,660.2L324.0,665.4L318.0,670.8L306.0,682.7L294.0,695.6L282.0,709.5L270.0,724.2L258.0,739.8L246.0,756.1L234.0,773.1L222.0,790.7L210.0,808.7L198.0,827.3L178.0,859.0L158.0,891.7L138.0,925.1L118.0,959.0L98.0,993.4L78.0,1028.1" stroke="url(#aLfb)" stroke-opacity="0.06" stroke-width="2.4"/><path d="M408.0,625.9L411.0,626.0L414.0,626.1L417.0,626.4L420.0,626.8L423.0,627.2L426.0,627.8L429.0,628.5L432.0,629.3L435.0,630.2L438.0,631.2L444.0,633.5L450.0,636.3L456.0,639.4L462.0,642.9L468.0,646.7L474.0,651.0L480.0,655.6L486.0,660.5L492.0,665.8L498.0,671.4L510.0,683.5L522.0,696.7L534.0,711.1L546.0,726.4L558.0,742.6L570.0,759.7L582.0,777.4L594.0,795.9L606.0,815.0L618.0,834.6L638.0,868.4" stroke="url(#aRfb)" stroke-opacity="0.06" stroke-width="2.4"/><path d="M408.0,634.4L405.0,634.5L402.0,634.6L399.0,634.9L396.0,635.2L393.0,635.7L390.0,636.3L387.0,636.9L384.0,637.7L381.0,638.5L378.0,639.5L372.0,641.7L366.0,644.3L360.0,647.3L354.0,650.6L348.0,654.3L342.0,658.3L336.0,662.6L330.0,667.3L324.0,672.2L318.0,677.5L306.0,688.9L294.0,701.3L282.0,714.7L270.0,728.9L258.0,743.9L246.0,759.7L234.0,776.1L222.0,793.1L210.0,810.6L198.0,828.5L178.0,859.3L158.0,891.0L138.0,923.5L118.0,957.8L98.0,994.4L78.0,1031.8" stroke="url(#aLgr)" stroke-opacity="0.04" stroke-width="2.2"/><path d="M408.0,634.4L411.0,634.5L414.0,634.6L417.0,634.9L420.0,635.2L423.0,635.7L426.0,636.3L429.0,636.9L432.0,637.7L435.0,638.5L438.0,639.5L444.0,641.7L450.0,644.3L456.0,647.3L462.0,650.7L468.0,654.4L474.0,658.5L480.0,662.9L486.0,667.7L492.0,672.7L498.0,678.1L510.0,689.8L522.0,702.6L534.0,716.5L546.0,731.3L558.0,747.0L570.0,763.5L582.0,780.8L594.0,798.7L606.0,817.3L618.0,836.4L638.0,869.3" stroke="url(#aRgr)" stroke-opacity="0.04" stroke-width="2.2"/><path d="M408.0,641.9L405.0,642.0L402.0,642.1L399.0,642.3L396.0,642.7L393.0,643.1L390.0,643.7L387.0,644.3L384.0,645.1L381.0,645.9L378.0,646.8L372.0,648.9L366.0,651.4L360.0,654.3L354.0,657.5L348.0,661.0L342.0,664.9L336.0,669.1L330.0,673.6L324.0,678.4L318.0,683.4L306.0,694.4L294.0,706.4L282.0,719.3L270.0,733.1L258.0,747.7L246.0,762.9L234.0,778.8L222.0,795.3L210.0,812.3L198.0,829.8L178.0,859.7L158.0,892.8L138.0,927.1L118.0,962.5L98.0,998.9L78.0,1036.1" stroke="url(#aLgb)" stroke-opacity="0.04" stroke-width="2.2"/><path d="M408.0,641.9L411.0,641.9L414.0,642.1L417.0,642.3L420.0,642.7L423.0,643.1L426.0,643.7L429.0,644.3L432.0,645.1L435.0,645.9L438.0,646.8L444.0,649.0L450.0,651.5L456.0,654.4L462.0,657.6L468.0,661.2L474.0,665.2L480.0,669.4L486.0,674.0L492.0,679.0L498.0,684.2L510.0,695.5L522.0,707.9L534.0,721.4L546.0,735.8L558.0,751.0L570.0,767.1L582.0,783.9L594.0,801.3L606.0,819.4L618.0,838.0L638.0,870.2" stroke="url(#aRgb)" stroke-opacity="0.04" stroke-width="2.2"/><path d="M408.0,649.4L405.0,649.4L402.0,649.6L399.0,649.8L396.0,650.2L393.0,650.6L390.0,651.1L387.0,651.7L384.0,652.4L381.0,653.2L378.0,654.1L372.0,656.2L366.0,658.6L360.0,661.3L354.0,664.4L348.0,667.8L342.0,671.5L336.0,675.6L330.0,679.9L324.0,684.5L318.0,689.4L306.0,700.0L294.0,711.6L282.0,724.1L270.0,737.4L258.0,751.5L246.0,766.3L234.0,781.7L222.0,798.1L210.0,815.6L198.0,833.6L178.0,865.1L158.0,897.9L138.0,932.0L118.0,967.2L98.0,1003.4L78.0,1040.5" stroke="url(#aLgr)" stroke-opacity="0.04" stroke-width="2.2"/><path d="M408.0,649.4L411.0,649.4L414.0,649.6L417.0,649.8L420.0,650.2L423.0,650.6L426.0,651.1L429.0,651.7L432.0,652.5L435.0,653.3L438.0,654.2L444.0,656.2L450.0,658.7L456.0,661.5L462.0,664.6L468.0,668.1L474.0,671.9L480.0,676.0L486.0,680.5L492.0,685.2L498.0,690.3L510.0,701.2L522.0,713.3L534.0,726.3L546.0,740.3L558.0,755.1L570.0,770.7L582.0,787.0L594.0,804.1L606.0,821.7L618.0,839.8L638.0,871.2" stroke="url(#aRgr)" stroke-opacity="0.04" stroke-width="2.2"/><path d="M408.0,656.9L405.0,656.9L402.0,657.1L399.0,657.3L396.0,657.6L393.0,658.0L390.0,658.6L387.0,659.1L384.0,659.8L381.0,660.6L378.0,661.5L372.0,663.4L366.0,665.7L360.0,668.4L354.0,671.3L348.0,674.6L342.0,678.2L336.0,682.1L330.0,686.3L324.0,690.7L318.0,695.4L306.0,705.6L294.0,716.8L282.0,728.9L270.0,742.1L258.0,756.4L246.0,771.5L234.0,787.4L222.0,804.0L210.0,821.3L198.0,839.2L178.0,870.4L158.0,903.1L138.0,936.9L118.0,972.0L98.0,1008.0L78.0,1044.8" stroke="url(#aLgb)" stroke-opacity="0.04" stroke-width="2.2"/><path d="M408.0,656.9L411.0,656.9L414.0,657.1L417.0,657.3L420.0,657.6L423.0,658.1L426.0,658.6L429.0,659.2L432.0,659.9L435.0,660.6L438.0,661.5L444.0,663.5L450.0,665.8L456.0,668.5L462.0,671.6L468.0,674.9L474.0,678.6L480.0,682.6L486.0,686.9L492.0,691.5L498.0,696.4L510.0,707.0L522.0,718.7L534.0,731.3L546.0,744.9L558.0,759.3L570.0,774.4L582.0,790.3L594.0,806.9L606.0,824.0L618.0,841.7L638.0,872.3" stroke="url(#aRgb)" stroke-opacity="0.04" stroke-width="2.2"/><path d="M408.0,664.4L405.0,664.4L402.0,664.6L399.0,664.8L396.0,665.1L393.0,665.5L390.0,666.0L387.0,666.6L384.0,667.2L381.0,668.0L378.0,668.8L372.0,670.7L366.0,672.9L360.0,675.4L354.0,678.3L348.0,681.4L342.0,684.9L336.0,688.6L330.0,692.7L324.0,697.0L318.0,701.7L306.0,711.9L294.0,723.1L282.0,735.4L270.0,748.6L258.0,762.7L246.0,777.7L234.0,793.5L222.0,809.9L210.0,827.1L198.0,844.9L178.0,875.8L158.0,908.3L138.0,941.9L118.0,976.7L98.0,1012.6L78.0,1049.3" stroke="url(#aLgr)" stroke-opacity="0.04" stroke-width="2.2"/><path d="M408.0,664.4L411.0,664.4L414.0,664.6L417.0,664.8L420.0,665.1L423.0,665.5L426.0,666.0L429.0,666.6L432.0,667.2L435.0,668.0L438.0,668.8L444.0,670.8L450.0,673.0L456.0,675.6L462.0,678.6L468.0,681.8L474.0,685.4L480.0,689.2L486.0,693.4L492.0,697.8L498.0,702.6L510.0,712.8L522.0,724.1L534.0,736.4L546.0,749.5L558.0,763.5L570.0,778.2L582.0,793.7L594.0,809.9L606.0,827.1L618.0,844.9L638.0,875.8" stroke="url(#aRgr)" stroke-opacity="0.04" stroke-width="2.2"/><path d="M408.0,671.9L405.0,671.9L402.0,672.1L399.0,672.3L396.0,672.6L393.0,673.0L390.0,673.4L387.0,674.0L384.0,674.6L381.0,675.3L378.0,676.1L372.0,678.0L366.0,680.1L360.0,682.6L354.0,685.4L348.0,688.6L342.0,692.0L336.0,695.7L330.0,699.8L324.0,704.1L318.0,708.7L306.0,718.8L294.0,729.9L282.0,742.1L270.0,755.1L258.0,769.1L246.0,783.9L234.0,799.6L222.0,815.9L210.0,832.9L198.0,850.6L178.0,881.3L158.0,913.5L138.0,947.0L118.0,981.6L98.0,1017.2L78.0,1053.7" stroke="url(#aLgb)" stroke-opacity="0.04" stroke-width="2.2"/><path d="M408.0,671.9L411.0,671.9L414.0,672.1L417.0,672.3L420.0,672.6L423.0,673.0L426.0,673.4L429.0,674.0L432.0,674.6L435.0,675.4L438.0,676.2L444.0,678.0L450.0,680.2L456.0,682.7L462.0,685.6L468.0,688.7L474.0,692.1L480.0,695.9L486.0,699.9L492.0,704.2L498.0,708.8L510.0,718.8L522.0,729.9L534.0,742.1L546.0,755.1L558.0,769.1L570.0,783.9L582.0,799.6L594.0,815.9L606.0,832.9L618.0,850.6L638.0,881.3" stroke="url(#aRgb)" stroke-opacity="0.04" stroke-width="2.2"/><path d="M408.0,679.4L405.0,679.4L402.0,679.6L399.0,679.8L396.0,680.1L393.0,680.4L390.0,680.9L387.0,681.4L384.0,682.1L381.0,682.8L378.0,683.6L372.0,685.4L366.0,687.5L360.0,690.0L354.0,692.8L348.0,695.8L342.0,699.2L336.0,702.9L330.0,706.9L324.0,711.2L318.0,715.8L306.0,725.7L294.0,736.7L282.0,748.7L270.0,761.7L258.0,775.5L246.0,790.2L234.0,805.7L222.0,821.9L210.0,838.8L198.0,856.3L178.0,886.8L158.0,918.7L138.0,952.0L118.0,986.4L98.0,1021.9L78.0,1058.2" stroke="url(#aLgr)" stroke-opacity="0.04" stroke-width="2.2"/><path d="M408.0,679.4L411.0,679.4L414.0,679.6L417.0,679.8L420.0,680.1L423.0,680.4L426.0,680.9L429.0,681.4L432.0,682.1L435.0,682.8L438.0,683.6L444.0,685.4L450.0,687.5L456.0,690.0L462.0,692.8L468.0,695.8L474.0,699.2L480.0,702.9L486.0,706.9L492.0,711.2L498.0,715.8L510.0,725.7L522.0,736.7L534.0,748.7L546.0,761.7L558.0,775.5L570.0,790.2L582.0,805.7L594.0,821.9L606.0,838.8L618.0,856.3L638.0,886.8" stroke="url(#aRgr)" stroke-opacity="0.04" stroke-width="2.2"/><path d="M408.0,686.9L405.0,686.9L402.0,687.1L399.0,687.3L396.0,687.6L393.0,687.9L390.0,688.4L387.0,688.9L384.0,689.5L381.0,690.2L378.0,691.0L372.0,692.8L366.0,694.9L360.0,697.3L354.0,700.1L348.0,703.1L342.0,706.5L336.0,710.1L330.0,714.1L324.0,718.3L318.0,722.8L306.0,732.7L294.0,743.5L282.0,755.4L270.0,768.3L258.0,782.0L246.0,796.5L234.0,811.8L222.0,827.9L210.0,844.6L198.0,862.0L178.0,892.3L158.0,924.1L138.0,957.1L118.0,991.3L98.0,1026.6L78.0,1062.7" stroke="url(#aLgb)" stroke-opacity="0.04" stroke-width="2.2"/><path d="M408.0,686.9L411.0,686.9L414.0,687.1L417.0,687.3L420.0,687.6L423.0,687.9L426.0,688.4L429.0,688.9L432.0,689.5L435.0,690.2L438.0,691.0L444.0,692.8L450.0,694.9L456.0,697.3L462.0,700.1L468.0,703.1L474.0,706.5L480.0,710.1L486.0,714.1L492.0,718.3L498.0,722.8L510.0,732.7L522.0,743.5L534.0,755.4L546.0,768.3L558.0,782.0L570.0,796.5L582.0,811.8L594.0,827.9L606.0,844.6L618.0,862.0L638.0,892.3" stroke="url(#aRgb)" stroke-opacity="0.04" stroke-width="2.2"/><path d="M408.0,694.4L405.0,694.4L402.0,694.6L399.0,694.8L396.0,695.0L393.0,695.4L390.0,695.9L387.0,696.4L384.0,697.0L381.0,697.7L378.0,698.4L372.0,700.2L366.0,702.3L360.0,704.7L354.0,707.4L348.0,710.4L342.0,713.7L336.0,717.3L330.0,721.2L324.0,725.4L318.0,729.9L306.0,739.6L294.0,750.4L282.0,762.1L270.0,774.8L258.0,788.4L246.0,802.8L234.0,818.0L222.0,833.9L210.0,850.5L198.0,867.8L178.0,897.9L158.0,929.4L138.0,962.2L118.0,996.3L98.0,1031.3L78.0,1067.3" stroke="url(#aLgr)" stroke-opacity="0.04" stroke-width="2.2"/><path d="M408.0,694.4L411.0,694.4L414.0,694.6L417.0,694.8L420.0,695.0L423.0,695.4L426.0,695.9L429.0,696.4L432.0,697.0L435.0,697.7L438.0,698.4L444.0,700.2L450.0,702.3L456.0,704.7L462.0,707.4L468.0,710.4L474.0,713.7L480.0,717.3L486.0,721.2L492.0,725.4L498.0,729.9L510.0,739.6L522.0,750.4L534.0,762.1L546.0,774.8L558.0,788.4L570.0,802.8L582.0,818.0L594.0,833.9L606.0,850.5L618.0,867.8L638.0,897.9" stroke="url(#aRgr)" stroke-opacity="0.04" stroke-width="2.2"/><path d="M408.0,701.9L405.0,701.9L402.0,702.1L399.0,702.3L396.0,702.5L393.0,702.9L390.0,703.3L387.0,703.9L384.0,704.5L381.0,705.1L378.0,705.9L372.0,707.6L366.0,709.7L360.0,712.1L354.0,714.8L348.0,717.7L342.0,721.0L336.0,724.6L330.0,728.4L324.0,732.6L318.0,737.0L306.0,746.6L294.0,757.2L282.0,768.9L270.0,781.4L258.0,794.9L246.0,809.2L234.0,824.2L222.0,840.0L210.0,856.5L198.0,873.6L178.0,903.4L158.0,934.8L138.0,967.4L118.0,1001.2L98.0,1036.1L78.0,1071.9" stroke="url(#aLgb)" stroke-opacity="0.04" stroke-width="2.2"/><path d="M408.0,701.9L411.0,701.9L414.0,702.1L417.0,702.3L420.0,702.5L423.0,702.9L426.0,703.3L429.0,703.9L432.0,704.5L435.0,705.1L438.0,705.9L444.0,707.6L450.0,709.7L456.0,712.1L462.0,714.8L468.0,717.7L474.0,721.0L480.0,724.6L486.0,728.4L492.0,732.6L498.0,737.0L510.0,746.6L522.0,757.2L534.0,768.9L546.0,781.4L558.0,794.9L570.0,809.2L582.0,824.2L594.0,840.0L606.0,856.5L618.0,873.6L638.0,903.4" stroke="url(#aRgb)" stroke-opacity="0.04" stroke-width="2.2"/><path d="M408.0,709.4L405.0,709.4L402.0,709.6L399.0,709.8L396.0,710.0L393.0,710.4L390.0,710.8L387.0,711.3L384.0,711.9L381.0,712.6L378.0,713.3L372.0,715.1L366.0,717.1L360.0,719.5L354.0,722.1L348.0,725.0L342.0,728.3L336.0,731.8L330.0,735.6L324.0,739.7L318.0,744.0L306.0,753.6L294.0,764.1L282.0,775.6L270.0,788.1L258.0,801.4L246.0,815.5L234.0,830.5L222.0,846.1L210.0,862.4L198.0,879.4L178.0,909.1L158.0,940.2L138.0,972.6L118.0,1006.2L98.0,1040.9L78.0,1076.5" stroke="url(#aLgr)" stroke-opacity="0.04" stroke-width="2.2"/><path d="M408.0,709.4L411.0,709.4L414.0,709.6L417.0,709.8L420.0,710.0L423.0,710.4L426.0,710.8L429.0,711.3L432.0,711.9L435.0,712.6L438.0,713.3L444.0,715.1L450.0,717.1L456.0,719.5L462.0,722.1L468.0,725.0L474.0,728.3L480.0,731.8L486.0,735.6L492.0,739.7L498.0,744.0L510.0,753.6L522.0,764.1L534.0,775.6L546.0,788.1L558.0,801.4L570.0,815.5L582.0,830.5L594.0,846.1L606.0,862.4L618.0,879.4L638.0,909.1" stroke="url(#aRgr)" stroke-opacity="0.04" stroke-width="2.2"/><path d="M408.0,716.9L405.0,716.9L402.0,717.1L399.0,717.3L396.0,717.5L393.0,717.9L390.0,718.3L387.0,718.8L384.0,719.4L381.0,720.1L378.0,720.8L372.0,722.5L366.0,724.5L360.0,726.8L354.0,729.4L348.0,732.4L342.0,735.5L336.0,739.0L330.0,742.8L324.0,746.8L318.0,751.1L306.0,760.6L294.0,771.0L282.0,782.4L270.0,794.7L258.0,807.9L246.0,821.9L234.0,836.7L222.0,852.2L210.0,868.4L198.0,885.3L178.0,914.7L158.0,945.6L138.0,977.8L118.0,1011.3L98.0,1045.8L78.0,1081.2" stroke="url(#aLgb)" stroke-opacity="0.04" stroke-width="2.2"/><path d="M408.0,716.9L411.0,716.9L414.0,717.1L417.0,717.3L420.0,717.5L423.0,717.9L426.0,718.3L429.0,718.8L432.0,719.4L435.0,720.1L438.0,720.8L444.0,722.5L450.0,724.5L456.0,726.8L462.0,729.4L468.0,732.4L474.0,735.5L480.0,739.0L486.0,742.8L492.0,746.8L498.0,751.1L510.0,760.6L522.0,771.0L534.0,782.4L546.0,794.7L558.0,807.9L570.0,821.9L582.0,836.7L594.0,852.2L606.0,868.4L618.0,885.3L638.0,914.7" stroke="url(#aRgb)" stroke-opacity="0.04" stroke-width="2.2"/><path d="M408.0,724.4L405.0,724.4L402.0,724.6L399.0,724.7L396.0,725.0L393.0,725.4L390.0,725.8L387.0,726.3L384.0,726.9L381.0,727.5L378.0,728.3L372.0,729.9L366.0,731.9L360.0,734.2L354.0,736.8L348.0,739.7L342.0,742.8L336.0,746.3L330.0,750.0L324.0,754.0L318.0,758.2L306.0,767.6L294.0,777.9L282.0,789.2L270.0,801.4L258.0,814.4L246.0,828.3L234.0,843.0L222.0,858.4L210.0,874.5L198.0,891.2L178.0,920.4L158.0,951.1L138.0,983.1L118.0,1016.3L98.0,1050.6L78.0,1085.9" stroke="url(#aLgr)" stroke-opacity="0.04" stroke-width="2.2"/><path d="M408.0,724.4L411.0,724.4L414.0,724.6L417.0,724.7L420.0,725.0L423.0,725.4L426.0,725.8L429.0,726.3L432.0,726.9L435.0,727.5L438.0,728.3L444.0,729.9L450.0,731.9L456.0,734.2L462.0,736.8L468.0,739.7L474.0,742.8L480.0,746.3L486.0,750.0L492.0,754.0L498.0,758.2L510.0,767.6L522.0,777.9L534.0,789.2L546.0,801.4L558.0,814.4L570.0,828.3L582.0,843.0L594.0,858.4L606.0,874.5L618.0,891.2L638.0,920.4" stroke="url(#aRgr)" stroke-opacity="0.04" stroke-width="2.2"/><path d="M408.0,731.9L405.0,731.9L402.0,732.1L399.0,732.2L396.0,732.5L393.0,732.9L390.0,733.3L387.0,733.8L384.0,734.3L381.0,735.0L378.0,735.7L372.0,737.4L366.0,739.3L360.0,741.6L354.0,744.1L348.0,747.0L342.0,750.1L336.0,753.5L330.0,757.2L324.0,761.1L318.0,765.4L306.0,774.6L294.0,784.8L282.0,796.0L270.0,808.0L258.0,821.0L246.0,834.7L234.0,849.3L222.0,864.6L210.0,880.5L198.0,897.1L178.0,926.1L158.0,956.6L138.0,988.4L118.0,1021.4L98.0,1055.6L78.0,1090.7" stroke="url(#aLgb)" stroke-opacity="0.04" stroke-width="2.2"/><path d="M408.0,731.9L411.0,731.9L414.0,732.1L417.0,732.2L420.0,732.5L423.0,732.9L426.0,733.3L429.0,733.8L432.0,734.3L435.0,735.0L438.0,735.7L444.0,737.4L450.0,739.3L456.0,741.6L462.0,744.1L468.0,747.0L474.0,750.1L480.0,753.5L486.0,757.2L492.0,761.1L498.0,765.4L510.0,774.6L522.0,784.8L534.0,796.0L546.0,808.0L558.0,821.0L570.0,834.7L582.0,849.3L594.0,864.6L606.0,880.5L618.0,897.1L638.0,926.1" stroke="url(#aRgb)" stroke-opacity="0.04" stroke-width="2.2"/><path d="M408.0,739.4L405.0,739.4L402.0,739.6L399.0,739.7L396.0,740.0L393.0,740.3L390.0,740.8L387.0,741.2L384.0,741.8L381.0,742.4L378.0,743.2L372.0,744.8L366.0,746.8L360.0,749.0L354.0,751.5L348.0,754.3L342.0,757.4L336.0,760.8L330.0,764.4L324.0,768.3L318.0,772.5L306.0,781.6L294.0,791.7L282.0,802.8L270.0,814.7L258.0,827.6L246.0,841.2L234.0,855.6L222.0,870.7L210.0,886.6L198.0,903.0L178.0,931.8L158.0,962.1L138.0,993.7L118.0,1026.6L98.0,1060.5L78.0,1095.4" stroke="url(#aLgr)" stroke-opacity="0.04" stroke-width="2.2"/><path d="M408.0,739.4L411.0,739.4L414.0,739.6L417.0,739.7L420.0,740.0L423.0,740.3L426.0,740.8L429.0,741.2L432.0,741.8L435.0,742.4L438.0,743.2L444.0,744.8L450.0,746.8L456.0,749.0L462.0,751.5L468.0,754.3L474.0,757.4L480.0,760.8L486.0,764.4L492.0,768.3L498.0,772.5L510.0,781.6L522.0,791.7L534.0,802.8L546.0,814.7L558.0,827.6L570.0,841.2L582.0,855.6L594.0,870.7L606.0,886.6L618.0,903.0L638.0,931.8" stroke="url(#aRgr)" stroke-opacity="0.04" stroke-width="2.2"/><path d="M408.0,746.9L405.0,746.9L402.0,747.0L399.0,747.2L396.0,747.5L393.0,747.8L390.0,748.2L387.0,748.7L384.0,749.3L381.0,749.9L378.0,750.6L372.0,752.2L366.0,754.2L360.0,756.4L354.0,758.9L348.0,761.6L342.0,764.7L336.0,768.0L330.0,771.6L324.0,775.5L318.0,779.6L306.0,788.6L294.0,798.6L282.0,809.6L270.0,821.4L258.0,834.1L246.0,847.7L234.0,862.0L222.0,877.0L210.0,892.7L198.0,909.0L178.0,937.6L158.0,967.6L138.0,999.1L118.0,1031.7L98.0,1065.5L78.0,1100.2" stroke="url(#aLgb)" stroke-opacity="0.04" stroke-width="2.2"/><path d="M408.0,746.9L411.0,746.9L414.0,747.0L417.0,747.2L420.0,747.5L423.0,747.8L426.0,748.2L429.0,748.7L432.0,749.3L435.0,749.9L438.0,750.6L444.0,752.2L450.0,754.2L456.0,756.4L462.0,758.9L468.0,761.6L474.0,764.7L480.0,768.0L486.0,771.6L492.0,775.5L498.0,779.6L510.0,788.6L522.0,798.6L534.0,809.6L546.0,821.4L558.0,834.1L570.0,847.7L582.0,862.0L594.0,877.0L606.0,892.7L618.0,909.0L638.0,937.6" stroke="url(#aRgb)" stroke-opacity="0.04" stroke-width="2.2"/><path d="M408.0,754.4L405.0,754.4L402.0,754.5L399.0,754.7L396.0,755.0L393.0,755.3L390.0,755.7L387.0,756.2L384.0,756.8L381.0,757.4L378.0,758.1L372.0,759.7L366.0,761.6L360.0,763.8L354.0,766.2L348.0,769.0L342.0,772.0L336.0,775.3L330.0,778.8L324.0,782.7L318.0,786.8L306.0,795.7L294.0,805.6L282.0,816.4L270.0,828.2L258.0,840.8L246.0,854.2L234.0,868.3L222.0,883.2L210.0,898.8L198.0,915.0L178.0,943.4L158.0,973.2L138.0,1004.5L118.0,1036.9L98.0,1070.5L78.0,1105.1" stroke="url(#aLgr)" stroke-opacity="0.04" stroke-width="2.2"/><path d="M408.0,754.4L411.0,754.4L414.0,754.5L417.0,754.7L420.0,755.0L423.0,755.3L426.0,755.7L429.0,756.2L432.0,756.8L435.0,757.4L438.0,758.1L444.0,759.7L450.0,761.6L456.0,763.8L462.0,766.2L468.0,769.0L474.0,772.0L480.0,775.3L486.0,778.8L492.0,782.7L498.0,786.8L510.0,795.7L522.0,805.6L534.0,816.4L546.0,828.2L558.0,840.8L570.0,854.2L582.0,868.3L594.0,883.2L606.0,898.8L618.0,915.0L638.0,943.4" stroke="url(#aRgr)" stroke-opacity="0.04" stroke-width="2.2"/><path d="M408.0,761.9L405.0,761.9L402.0,762.0L399.0,762.2L396.0,762.5L393.0,762.8L390.0,763.2L387.0,763.7L384.0,764.2L381.0,764.8L378.0,765.5L372.0,767.1L366.0,769.0L360.0,771.2L354.0,773.6L348.0,776.3L342.0,779.3L336.0,782.6L330.0,786.1L324.0,789.9L318.0,793.9L306.0,802.7L294.0,812.5L282.0,823.3L270.0,834.9L258.0,847.4L246.0,860.7L234.0,874.7L222.0,889.5L210.0,904.9L198.0,921.0L178.0,949.2L158.0,978.9L138.0,1009.9L118.0,1042.2L98.0,1075.6L78.0,1110.0" stroke="url(#aLgb)" stroke-opacity="0.04" stroke-width="2.2"/><path d="M408.0,761.9L411.0,761.9L414.0,762.0L417.0,762.2L420.0,762.5L423.0,762.8L426.0,763.2L429.0,763.7L432.0,764.2L435.0,764.8L438.0,765.5L444.0,767.1L450.0,769.0L456.0,771.2L462.0,773.6L468.0,776.3L474.0,779.3L480.0,782.6L486.0,786.1L492.0,789.9L498.0,793.9L510.0,802.7L522.0,812.5L534.0,823.3L546.0,834.9L558.0,847.4L570.0,860.7L582.0,874.7L594.0,889.5L606.0,904.9L618.0,921.0L638.0,949.2" stroke="url(#aRgb)" stroke-opacity="0.04" stroke-width="2.2"/><path d="M408.0,769.4L405.0,769.4L402.0,769.5L399.0,769.7L396.0,770.0L393.0,770.3L390.0,770.7L387.0,771.2L384.0,771.7L381.0,772.3L378.0,773.0L372.0,774.6L366.0,776.4L360.0,778.6L354.0,781.0L348.0,783.7L342.0,786.6L336.0,789.8L330.0,793.3L324.0,797.1L318.0,801.1L306.0,809.8L294.0,819.5L282.0,830.1L270.0,841.7L258.0,854.0L246.0,867.2L234.0,881.1L222.0,895.8L210.0,911.1L198.0,927.1L178.0,955.0L158.0,984.5L138.0,1015.4L118.0,1047.4L98.0,1080.7L78.0,1114.9" stroke="url(#aLgr)" stroke-opacity="0.04" stroke-width="2.2"/><path d="M408.0,769.4L411.0,769.4L414.0,769.5L417.0,769.7L420.0,770.0L423.0,770.3L426.0,770.7L429.0,771.2L432.0,771.7L435.0,772.3L438.0,773.0L444.0,774.6L450.0,776.4L456.0,778.6L462.0,781.0L468.0,783.7L474.0,786.6L480.0,789.8L486.0,793.3L492.0,797.1L498.0,801.1L510.0,809.8L522.0,819.5L534.0,830.1L546.0,841.7L558.0,854.0L570.0,867.2L582.0,881.1L594.0,895.8L606.0,911.1L618.0,927.1L638.0,955.0" stroke="url(#aRgr)" stroke-opacity="0.04" stroke-width="2.2"/><path d="M408.0,776.9L405.0,776.9L402.0,777.0L399.0,777.2L396.0,777.5L393.0,777.8L390.0,778.2L387.0,778.6L384.0,779.2L381.0,779.8L378.0,780.5L372.0,782.0L366.0,783.8L360.0,786.0L354.0,788.3L348.0,791.0L342.0,793.9L336.0,797.1L330.0,800.6L324.0,804.3L318.0,808.2L306.0,816.9L294.0,826.5L282.0,837.0L270.0,848.4L258.0,860.7L246.0,873.7L234.0,887.5L222.0,902.1L210.0,917.3L198.0,933.1L178.0,960.9L158.0,990.2L138.0,1020.8L118.0,1052.7L98.0,1085.8L78.0,1119.8" stroke="url(#aLgb)" stroke-opacity="0.03" stroke-width="2.2"/><path d="M408.0,776.9L411.0,776.9L414.0,777.0L417.0,777.2L420.0,777.5L423.0,777.8L426.0,778.2L429.0,778.6L432.0,779.2L435.0,779.8L438.0,780.5L444.0,782.0L450.0,783.8L456.0,786.0L462.0,788.3L468.0,791.0L474.0,793.9L480.0,797.1L486.0,800.6L492.0,804.3L498.0,808.2L510.0,816.9L522.0,826.5L534.0,837.0L546.0,848.4L558.0,860.7L570.0,873.7L582.0,887.5L594.0,902.1L606.0,917.3L618.0,933.1L638.0,960.9" stroke="url(#aRgb)" stroke-opacity="0.03" stroke-width="2.2"/><path d="M408.0,784.4L405.0,784.4L402.0,784.5L399.0,784.7L396.0,785.0L393.0,785.3L390.0,785.7L387.0,786.1L384.0,786.6L381.0,787.2L378.0,787.9L372.0,789.5L366.0,791.3L360.0,793.4L354.0,795.7L348.0,798.3L342.0,801.2L336.0,804.4L330.0,807.8L324.0,811.5L318.0,815.4L306.0,824.0L294.0,833.5L282.0,843.9L270.0,855.2L258.0,867.3L246.0,880.3L234.0,894.0L222.0,908.4L210.0,923.5L198.0,939.2L178.0,966.8L158.0,995.9L138.0,1026.3L118.0,1058.1L98.0,1090.9L78.0,1124.8" stroke="url(#aLgr)" stroke-opacity="0.03" stroke-width="2.2"/><path d="M408.0,784.4L411.0,784.4L414.0,784.5L417.0,784.7L420.0,785.0L423.0,785.3L426.0,785.7L429.0,786.1L432.0,786.6L435.0,787.2L438.0,787.9L444.0,789.5L450.0,791.3L456.0,793.4L462.0,795.7L468.0,798.3L474.0,801.2L480.0,804.4L486.0,807.8L492.0,811.5L498.0,815.4L510.0,824.0L522.0,833.5L534.0,843.9L546.0,855.2L558.0,867.3L570.0,880.3L582.0,894.0L594.0,908.4L606.0,923.5L618.0,939.2L638.0,966.8" stroke="url(#aRgr)" stroke-opacity="0.03" stroke-width="2.2"/><path d="M408.0,791.9L405.0,791.9L402.0,792.0L399.0,792.2L396.0,792.5L393.0,792.8L390.0,793.2L387.0,793.6L384.0,794.1L381.0,794.7L378.0,795.4L372.0,796.9L366.0,798.7L360.0,800.8L354.0,803.1L348.0,805.7L342.0,808.6L336.0,811.7L330.0,815.1L324.0,818.7L318.0,822.6L306.0,831.0L294.0,840.5L282.0,850.8L270.0,862.0L258.0,874.0L246.0,886.9L234.0,900.4L222.0,914.7L210.0,929.7L198.0,945.3L178.0,972.7L158.0,1001.6L138.0,1031.9L118.0,1063.4L98.0,1096.1L78.0,1129.8" stroke="url(#aLgb)" stroke-opacity="0.03" stroke-width="2.2"/><path d="M408.0,791.9L411.0,791.9L414.0,792.0L417.0,792.2L420.0,792.5L423.0,792.8L426.0,793.2L429.0,793.6L432.0,794.1L435.0,794.7L438.0,795.4L444.0,796.9L450.0,798.7L456.0,800.8L462.0,803.1L468.0,805.7L474.0,808.6L480.0,811.7L486.0,815.1L492.0,818.7L498.0,822.6L510.0,831.0L522.0,840.5L534.0,850.8L546.0,862.0L558.0,874.0L570.0,886.9L582.0,900.4L594.0,914.7L606.0,929.7L618.0,945.3L638.0,972.7" stroke="url(#aRgb)" stroke-opacity="0.03" stroke-width="2.2"/><path d="M408.0,799.4L405.0,799.4L402.0,799.5L399.0,799.7L396.0,800.0L393.0,800.3L390.0,800.6L387.0,801.1L384.0,801.6L381.0,802.2L378.0,802.8L372.0,804.3L366.0,806.1L360.0,808.2L354.0,810.5L348.0,813.0L342.0,815.9L336.0,819.0L330.0,822.3L324.0,825.9L318.0,829.7L306.0,838.1L294.0,847.5L282.0,857.7L270.0,868.8L258.0,880.7L246.0,893.5L234.0,906.9L222.0,921.1L210.0,936.0L198.0,951.5L178.0,978.6L158.0,1007.3L138.0,1037.4L118.0,1068.8L98.0,1101.3L78.0,1134.8" stroke="url(#aLgr)" stroke-opacity="0.03" stroke-width="2.2"/><path d="M408.0,799.4L411.0,799.4L414.0,799.5L417.0,799.7L420.0,800.0L423.0,800.3L426.0,800.6L429.0,801.1L432.0,801.6L435.0,802.2L438.0,802.8L444.0,804.3L450.0,806.1L456.0,808.2L462.0,810.5L468.0,813.0L474.0,815.9L480.0,819.0L486.0,822.3L492.0,825.9L498.0,829.7L510.0,838.1L522.0,847.5L534.0,857.7L546.0,868.8L558.0,880.7L570.0,893.5L582.0,906.9L594.0,921.1L606.0,936.0L618.0,951.5L638.0,978.6" stroke="url(#aRgr)" stroke-opacity="0.03" stroke-width="2.2"/><path d="M408.0,806.9L405.0,806.9L402.0,807.0L399.0,807.2L396.0,807.4L393.0,807.8L390.0,808.1L387.0,808.6L384.0,809.1L381.0,809.7L378.0,810.3L372.0,811.8L366.0,813.5L360.0,815.6L354.0,817.9L348.0,820.4L342.0,823.2L336.0,826.3L330.0,829.6L324.0,833.1L318.0,836.9L306.0,845.2L294.0,854.5L282.0,864.6L270.0,875.6L258.0,887.5L246.0,900.1L234.0,913.4L222.0,927.5L210.0,942.2L198.0,957.6L178.0,984.6L158.0,1013.1L138.0,1043.0L118.0,1074.2L98.0,1106.5L78.0,1139.9" stroke="url(#aLgb)" stroke-opacity="0.03" stroke-width="2.2"/><path d="M408.0,806.9L411.0,806.9L414.0,807.0L417.0,807.2L420.0,807.4L423.0,807.8L426.0,808.1L429.0,808.6L432.0,809.1L435.0,809.7L438.0,810.3L444.0,811.8L450.0,813.5L456.0,815.6L462.0,817.9L468.0,820.4L474.0,823.2L480.0,826.3L486.0,829.6L492.0,833.1L498.0,836.9L510.0,845.2L522.0,854.5L534.0,864.6L546.0,875.6L558.0,887.5L570.0,900.1L582.0,913.4L594.0,927.5L606.0,942.2L618.0,957.6L638.0,984.6" stroke="url(#aRgb)" stroke-opacity="0.03" stroke-width="2.2"/><path d="M408.0,814.4L405.0,814.4L402.0,814.5L399.0,814.7L396.0,814.9L393.0,815.2L390.0,815.6L387.0,816.1L384.0,816.6L381.0,817.1L378.0,817.8L372.0,819.2L366.0,821.0L360.0,823.0L354.0,825.2L348.0,827.8L342.0,830.5L336.0,833.6L330.0,836.8L324.0,840.4L318.0,844.1L306.0,852.4L294.0,861.5L282.0,871.6L270.0,882.5L258.0,894.2L246.0,906.7L234.0,919.9L222.0,933.9L210.0,948.5L198.0,963.8L178.0,990.6L158.0,1018.9L138.0,1048.7L118.0,1079.6L98.0,1111.8L78.0,1145.0" stroke="url(#aLgr)" stroke-opacity="0.03" stroke-width="2.2"/><path d="M408.0,814.4L411.0,814.4L414.0,814.5L417.0,814.7L420.0,814.9L423.0,815.2L426.0,815.6L429.0,816.1L432.0,816.6L435.0,817.1L438.0,817.8L444.0,819.2L450.0,821.0L456.0,823.0L462.0,825.2L468.0,827.8L474.0,830.5L480.0,833.6L486.0,836.8L492.0,840.4L498.0,844.1L510.0,852.4L522.0,861.5L534.0,871.6L546.0,882.5L558.0,894.2L570.0,906.7L582.0,919.9L594.0,933.9L606.0,948.5L618.0,963.8L638.0,990.6" stroke="url(#aRgr)" stroke-opacity="0.03" stroke-width="2.2"/><path d="M408.0,821.9L405.0,821.9L402.0,822.0L399.0,822.2L396.0,822.4L393.0,822.7L390.0,823.1L387.0,823.5L384.0,824.0L381.0,824.6L378.0,825.2L372.0,826.7L366.0,828.4L360.0,830.4L354.0,832.6L348.0,835.1L342.0,837.9L336.0,840.9L330.0,844.1L324.0,847.6L318.0,851.3L306.0,859.5L294.0,868.6L282.0,878.5L270.0,889.3L258.0,900.9L246.0,913.3L234.0,926.5L222.0,940.3L210.0,954.8L198.0,970.0L178.0,996.6L158.0,1024.8L138.0,1054.3L118.0,1085.1L98.0,1117.1L78.0,1150.1" stroke="url(#aLgb)" stroke-opacity="0.03" stroke-width="2.2"/><path d="M408.0,821.9L411.0,821.9L414.0,822.0L417.0,822.2L420.0,822.4L423.0,822.7L426.0,823.1L429.0,823.5L432.0,824.0L435.0,824.6L438.0,825.2L444.0,826.7L450.0,828.4L456.0,830.4L462.0,832.6L468.0,835.1L474.0,837.9L480.0,840.9L486.0,844.1L492.0,847.6L498.0,851.3L510.0,859.5L522.0,868.6L534.0,878.5L546.0,889.3L558.0,900.9L570.0,913.3L582.0,926.5L594.0,940.3L606.0,954.8L618.0,970.0L638.0,996.6" stroke="url(#aRgb)" stroke-opacity="0.03" stroke-width="2.2"/><path d="M408.0,829.4L405.0,829.4L402.0,829.5L399.0,829.7L396.0,829.9L393.0,830.2L390.0,830.6L387.0,831.0L384.0,831.5L381.0,832.1L378.0,832.7L372.0,834.1L366.0,835.8L360.0,837.8L354.0,840.0L348.0,842.5L342.0,845.2L336.0,848.2L330.0,851.4L324.0,854.8L318.0,858.5L306.0,866.6L294.0,875.6L282.0,885.5L270.0,896.2L258.0,907.7L246.0,920.0L234.0,933.0L222.0,946.8L210.0,961.2L198.0,976.2L178.0,1002.6L158.0,1030.6L138.0,1060.0L118.0,1090.6L98.0,1122.4L78.0,1155.3" stroke="url(#aLgr)" stroke-opacity="0.03" stroke-width="2.2"/><path d="M408.0,829.4L411.0,829.4L414.0,829.5L417.0,829.7L420.0,829.9L423.0,830.2L426.0,830.6L429.0,831.0L432.0,831.5L435.0,832.1L438.0,832.7L444.0,834.1L450.0,835.8L456.0,837.8L462.0,840.0L468.0,842.5L474.0,845.2L480.0,848.2L486.0,851.4L492.0,854.8L498.0,858.5L510.0,866.6L522.0,875.6L534.0,885.5L546.0,896.2L558.0,907.7L570.0,920.0L582.0,933.0L594.0,946.8L606.0,961.2L618.0,976.2L638.0,1002.6" stroke="url(#aRgr)" stroke-opacity="0.03" stroke-width="2.2"/><path d="M408.0,836.9L405.0,836.9L402.0,837.0L399.0,837.2L396.0,837.4L393.0,837.7L390.0,838.1L387.0,838.5L384.0,839.0L381.0,839.5L378.0,840.2L372.0,841.6L366.0,843.3L360.0,845.2L354.0,847.4L348.0,849.9L342.0,852.5L336.0,855.5L330.0,858.7L324.0,862.1L318.0,865.7L306.0,873.7L294.0,882.6L282.0,892.4L270.0,903.0L258.0,914.5L246.0,926.7L234.0,939.6L222.0,953.2L210.0,967.5L198.0,982.5L178.0,1008.7L158.0,1036.5L138.0,1065.7L118.0,1096.1L98.0,1127.8L78.0,1160.4" stroke="url(#aLgb)" stroke-opacity="0.03" stroke-width="2.2"/><path d="M408.0,836.9L411.0,836.9L414.0,837.0L417.0,837.2L420.0,837.4L423.0,837.7L426.0,838.1L429.0,838.5L432.0,839.0L435.0,839.5L438.0,840.2L444.0,841.6L450.0,843.3L456.0,845.2L462.0,847.4L468.0,849.9L474.0,852.5L480.0,855.5L486.0,858.7L492.0,862.1L498.0,865.7L510.0,873.7L522.0,882.6L534.0,892.4L546.0,903.0L558.0,914.5L570.0,926.7L582.0,939.6L594.0,953.2L606.0,967.5L618.0,982.5L638.0,1008.7" stroke="url(#aRgb)" stroke-opacity="0.03" stroke-width="2.2"/><path d="M408.0,844.4L405.0,844.4L402.0,844.5L399.0,844.7L396.0,844.9L393.0,845.2L390.0,845.6L387.0,846.0L384.0,846.5L381.0,847.0L378.0,847.6L372.0,849.0L366.0,850.7L360.0,852.6L354.0,854.8L348.0,857.2L342.0,859.9L336.0,862.8L330.0,865.9L324.0,869.3L318.0,873.0L306.0,880.9L294.0,889.7L282.0,899.4L270.0,909.9L258.0,921.2L246.0,933.3L234.0,946.2L222.0,959.7L210.0,973.9L198.0,988.7L178.0,1014.8L158.0,1042.4L138.0,1071.4L118.0,1101.7L98.0,1133.1L78.0,1165.6" stroke="url(#aLgr)" stroke-opacity="0.03" stroke-width="2.2"/><path d="M408.0,844.4L411.0,844.4L414.0,844.5L417.0,844.7L420.0,844.9L423.0,845.2L426.0,845.6L429.0,846.0L432.0,846.5L435.0,847.0L438.0,847.6L444.0,849.0L450.0,850.7L456.0,852.6L462.0,854.8L468.0,857.2L474.0,859.9L480.0,862.8L486.0,865.9L492.0,869.3L498.0,873.0L510.0,880.9L522.0,889.7L534.0,899.4L546.0,909.9L558.0,921.2L570.0,933.3L582.0,946.2L594.0,959.7L606.0,973.9L618.0,988.7L638.0,1014.8" stroke="url(#aRgr)" stroke-opacity="0.03" stroke-width="2.2"/><path d="M408.0,851.9L405.0,851.9L402.0,852.0L399.0,852.2L396.0,852.4L393.0,852.7L390.0,853.1L387.0,853.5L384.0,853.9L381.0,854.5L378.0,855.1L372.0,856.5L366.0,858.1L360.0,860.1L354.0,862.2L348.0,864.6L342.0,867.2L336.0,870.1L330.0,873.2L324.0,876.6L318.0,880.2L306.0,888.0L294.0,896.8L282.0,906.4L270.0,916.8L258.0,928.0L246.0,940.0L234.0,952.8L222.0,966.2L210.0,980.3L198.0,995.0L178.0,1020.9L158.0,1048.3L138.0,1077.1L118.0,1107.2L98.0,1138.5L78.0,1170.9" stroke="url(#aLgb)" stroke-opacity="0.03" stroke-width="2.2"/><path d="M408.0,851.9L411.0,851.9L414.0,852.0L417.0,852.2L420.0,852.4L423.0,852.7L426.0,853.1L429.0,853.5L432.0,853.9L435.0,854.5L438.0,855.1L444.0,856.5L450.0,858.1L456.0,860.1L462.0,862.2L468.0,864.6L474.0,867.2L480.0,870.1L486.0,873.2L492.0,876.6L498.0,880.2L510.0,888.0L522.0,896.8L534.0,906.4L546.0,916.8L558.0,928.0L570.0,940.0L582.0,952.8L594.0,966.2L606.0,980.3L618.0,995.0L638.0,1020.9" stroke="url(#aRgb)" stroke-opacity="0.03" stroke-width="2.2"/><path d="M408.0,859.4L405.0,859.4L402.0,859.5L399.0,859.7L396.0,859.9L393.0,860.2L390.0,860.5L387.0,861.0L384.0,861.4L381.0,862.0L378.0,862.6L372.0,864.0L366.0,865.6L360.0,867.5L354.0,869.6L348.0,872.0L342.0,874.6L336.0,877.4L330.0,880.5L324.0,883.9L318.0,887.4L306.0,895.2L294.0,903.9L282.0,913.4L270.0,923.7L258.0,934.9L246.0,946.8L234.0,959.4L222.0,972.7L210.0,986.7L198.0,1001.3L178.0,1027.0L158.0,1054.2L138.0,1082.9L118.0,1112.8L98.0,1144.0L78.0,1176.1" stroke="url(#aLgr)" stroke-opacity="0.03" stroke-width="2.2"/><path d="M408.0,859.4L411.0,859.4L414.0,859.5L417.0,859.7L420.0,859.9L423.0,860.2L426.0,860.5L429.0,861.0L432.0,861.4L435.0,862.0L438.0,862.6L444.0,864.0L450.0,865.6L456.0,867.5L462.0,869.6L468.0,872.0L474.0,874.6L480.0,877.4L486.0,880.5L492.0,883.9L498.0,887.4L510.0,895.2L522.0,903.9L534.0,913.4L546.0,923.7L558.0,934.9L570.0,946.8L582.0,959.4L594.0,972.7L606.0,986.7L618.0,1001.3L638.0,1027.0" stroke="url(#aRgr)" stroke-opacity="0.03" stroke-width="2.2"/><path d="M408.0,866.9L405.0,866.9L402.0,867.0L399.0,867.2L396.0,867.4L393.0,867.7L390.0,868.0L387.0,868.4L384.0,868.9L381.0,869.4L378.0,870.0L372.0,871.4L366.0,873.0L360.0,874.9L354.0,877.0L348.0,879.4L342.0,881.9L336.0,884.8L330.0,887.8L324.0,891.1L318.0,894.6L306.0,902.4L294.0,910.9L282.0,920.4L270.0,930.6L258.0,941.7L246.0,953.5L234.0,966.0L222.0,979.2L210.0,993.1L198.0,1007.6L178.0,1033.2L158.0,1060.2L138.0,1088.7L118.0,1118.5L98.0,1149.4L78.0,1181.4" stroke="url(#aLgb)" stroke-opacity="0.03" stroke-width="2.2"/><path d="M408.0,866.9L411.0,866.9L414.0,867.0L417.0,867.2L420.0,867.4L423.0,867.7L426.0,868.0L429.0,868.4L432.0,868.9L435.0,869.4L438.0,870.0L444.0,871.4L450.0,873.0L456.0,874.9L462.0,877.0L468.0,879.4L474.0,881.9L480.0,884.8L486.0,887.8L492.0,891.1L498.0,894.6L510.0,902.4L522.0,910.9L534.0,920.4L546.0,930.6L558.0,941.7L570.0,953.5L582.0,966.0L594.0,979.2L606.0,993.1L618.0,1007.6L638.0,1033.2" stroke="url(#aRgb)" stroke-opacity="0.03" stroke-width="2.2"/><path d="M408.0,874.4L405.0,874.4L402.0,874.5L399.0,874.7L396.0,874.9L393.0,875.2L390.0,875.5L387.0,875.9L384.0,876.4L381.0,876.9L378.0,877.5L372.0,878.9L366.0,880.5L360.0,882.3L354.0,884.4L348.0,886.7L342.0,889.3L336.0,892.1L330.0,895.1L324.0,898.4L318.0,901.9L306.0,909.5L294.0,918.0L282.0,927.4L270.0,937.6L258.0,948.5L246.0,960.2L234.0,972.6L222.0,985.8L210.0,999.5L198.0,1014.0L178.0,1039.3L158.0,1066.2L138.0,1094.5L118.0,1124.1L98.0,1154.9L78.0,1186.7" stroke="url(#aLgr)" stroke-opacity="0.03" stroke-width="2.2"/><path d="M408.0,874.4L411.0,874.4L414.0,874.5L417.0,874.7L420.0,874.9L423.0,875.2L426.0,875.5L429.0,875.9L432.0,876.4L435.0,876.9L438.0,877.5L444.0,878.9L450.0,880.5L456.0,882.3L462.0,884.4L468.0,886.7L474.0,889.3L480.0,892.1L486.0,895.1L492.0,898.4L498.0,901.9L510.0,909.5L522.0,918.0L534.0,927.4L546.0,937.6L558.0,948.5L570.0,960.2L582.0,972.6L594.0,985.8L606.0,999.5L618.0,1014.0L638.0,1039.3" stroke="url(#aRgr)" stroke-opacity="0.03" stroke-width="2.2"/><path d="M408.0,881.9L405.0,881.9L402.0,882.0L399.0,882.2L396.0,882.4L393.0,882.7L390.0,883.0L387.0,883.4L384.0,883.9L381.0,884.4L378.0,885.0L372.0,886.3L366.0,887.9L360.0,889.7L354.0,891.8L348.0,894.1L342.0,896.7L336.0,899.4L330.0,902.4L324.0,905.7L318.0,909.1L306.0,916.7L294.0,925.1L282.0,934.4L270.0,944.5L258.0,955.4L246.0,967.0L234.0,979.3L222.0,992.3L210.0,1006.0L198.0,1020.3L178.0,1045.5L158.0,1072.2L138.0,1100.3L118.0,1129.8L98.0,1160.4" stroke="url(#aLgb)" stroke-opacity="0.03" stroke-width="2.2"/><path d="M408.0,881.9L411.0,881.9L414.0,882.0L417.0,882.2L420.0,882.4L423.0,882.7L426.0,883.0L429.0,883.4L432.0,883.9L435.0,884.4L438.0,885.0L444.0,886.3L450.0,887.9L456.0,889.7L462.0,891.8L468.0,894.1L474.0,896.7L480.0,899.4L486.0,902.4L492.0,905.7L498.0,909.1L510.0,916.7L522.0,925.1L534.0,934.4L546.0,944.5L558.0,955.4L570.0,967.0L582.0,979.3L594.0,992.3L606.0,1006.0L618.0,1020.3L638.0,1045.5" stroke="url(#aRgb)" stroke-opacity="0.03" stroke-width="2.2"/><path d="M408.0,889.4L405.0,889.4L402.0,889.5L399.0,889.7L396.0,889.9L393.0,890.2L390.0,890.5L387.0,890.9L384.0,891.3L381.0,891.9L378.0,892.4L372.0,893.8L366.0,895.4L360.0,897.2L354.0,899.2L348.0,901.5L342.0,904.0L336.0,906.8L330.0,909.7L324.0,912.9L318.0,916.4L306.0,923.9L294.0,932.2L282.0,941.4L270.0,951.4L258.0,962.2L246.0,973.7L234.0,986.0L222.0,998.9L210.0,1012.5L198.0,1026.7L178.0,1051.7L158.0,1078.2L138.0,1106.2L118.0,1135.5L98.0,1165.9" stroke="url(#aLgr)" stroke-opacity="0.03" stroke-width="2.2"/><path d="M408.0,889.4L411.0,889.4L414.0,889.5L417.0,889.7L420.0,889.9L423.0,890.2L426.0,890.5L429.0,890.9L432.0,891.3L435.0,891.9L438.0,892.4L444.0,893.8L450.0,895.4L456.0,897.2L462.0,899.2L468.0,901.5L474.0,904.0L480.0,906.8L486.0,909.7L492.0,912.9L498.0,916.4L510.0,923.9L522.0,932.2L534.0,941.4L546.0,951.4L558.0,962.2L570.0,973.7L582.0,986.0L594.0,998.9L606.0,1012.5L618.0,1026.7L638.0,1051.7" stroke="url(#aRgr)" stroke-opacity="0.03" stroke-width="2.2"/><path d="M408.0,896.9L405.0,896.9L402.0,897.0L399.0,897.2L396.0,897.4L393.0,897.7L390.0,898.0L387.0,898.4L384.0,898.8L381.0,899.3L378.0,899.9L372.0,901.2L366.0,902.8L360.0,904.6L354.0,906.6L348.0,908.9L342.0,911.4L336.0,914.1L330.0,917.1L324.0,920.2L318.0,923.6L306.0,931.1L294.0,939.4L282.0,948.5L270.0,958.4L258.0,969.1L246.0,980.5L234.0,992.6L222.0,1005.5L210.0,1019.0L198.0,1033.1L178.0,1057.9L158.0,1084.3L138.0,1112.1L118.0,1141.2L98.0,1171.5" stroke="url(#aLgb)" stroke-opacity="0.03" stroke-width="2.2"/><path d="M408.0,896.9L411.0,896.9L414.0,897.0L417.0,897.2L420.0,897.4L423.0,897.7L426.0,898.0L429.0,898.4L432.0,898.8L435.0,899.3L438.0,899.9L444.0,901.2L450.0,902.8L456.0,904.6L462.0,906.6L468.0,908.9L474.0,911.4L480.0,914.1L486.0,917.1L492.0,920.2L498.0,923.6L510.0,931.1L522.0,939.4L534.0,948.5L546.0,958.4L558.0,969.1L570.0,980.5L582.0,992.6L594.0,1005.5L606.0,1019.0L618.0,1033.1L638.0,1057.9" stroke="url(#aRgb)" stroke-opacity="0.03" stroke-width="2.2"/><path d="M408.0,904.4L405.0,904.4L402.0,904.5L399.0,904.7L396.0,904.9L393.0,905.1L390.0,905.5L387.0,905.9L384.0,906.3L381.0,906.8L378.0,907.4L372.0,908.7L366.0,910.2L360.0,912.0L354.0,914.0L348.0,916.3L342.0,918.7L336.0,921.4L330.0,924.4L324.0,927.5L318.0,930.9L306.0,938.3L294.0,946.5L282.0,955.5L270.0,965.3L258.0,975.9L246.0,987.3L234.0,999.3L222.0,1012.1L210.0,1025.5L198.0,1039.5L178.0,1064.1L158.0,1090.4L138.0,1118.0L118.0,1146.9L98.0,1177.0" stroke="url(#aLgr)" stroke-opacity="0.03" stroke-width="2.2"/><path d="M408.0,904.4L411.0,904.4L414.0,904.5L417.0,904.7L420.0,904.9L423.0,905.1L426.0,905.5L429.0,905.9L432.0,906.3L435.0,906.8L438.0,907.4L444.0,908.7L450.0,910.2L456.0,912.0L462.0,914.0L468.0,916.3L474.0,918.7L480.0,921.4L486.0,924.4L492.0,927.5L498.0,930.9L510.0,938.3L522.0,946.5L534.0,955.5L546.0,965.3L558.0,975.9L570.0,987.3L582.0,999.3L594.0,1012.1L606.0,1025.5L618.0,1039.5L638.0,1064.1" stroke="url(#aRgr)" stroke-opacity="0.03" stroke-width="2.2"/><path d="M408.0,916.4L405.0,916.4L402.0,916.5L399.0,916.7L396.0,916.9L393.0,917.1L390.0,917.5L387.0,917.8L384.0,918.3L381.0,918.8L378.0,919.3L372.0,920.6L366.0,922.2L360.0,923.9L354.0,925.9L348.0,928.1L342.0,930.5L336.0,933.2L330.0,936.1L324.0,939.2L318.0,942.5L306.0,949.8L294.0,957.9L282.0,966.8L270.0,976.5L258.0,987.0L246.0,998.2L234.0,1010.1L222.0,1022.7L210.0,1035.9L198.0,1049.8L178.0,1074.2L158.0,1100.1L138.0,1127.5L118.0,1156.1L98.0,1186.0" stroke="url(#aLgr)" stroke-opacity="0.04" stroke-width="1.4"/><path d="M408.0,916.4L411.0,916.4L414.0,916.5L417.0,916.7L420.0,916.9L423.0,917.1L426.0,917.5L429.0,917.8L432.0,918.3L435.0,918.8L438.0,919.3L444.0,920.6L450.0,922.2L456.0,923.9L462.0,925.9L468.0,928.1L474.0,930.5L480.0,933.2L486.0,936.1L492.0,939.2L498.0,942.5L510.0,949.8L522.0,957.9L534.0,966.8L546.0,976.5L558.0,987.0L570.0,998.2L582.0,1010.1L594.0,1022.7L606.0,1035.9L618.0,1049.8L638.0,1074.2" stroke="url(#aRgr)" stroke-opacity="0.04" stroke-width="1.4"/><path d="M408.0,928.4L405.0,928.4L402.0,928.5L399.0,928.7L396.0,928.9L393.0,929.1L390.0,929.4L387.0,929.8L384.0,930.3L381.0,930.7L378.0,931.3L372.0,932.6L366.0,934.1L360.0,935.8L354.0,937.8L348.0,939.9L342.0,942.3L336.0,945.0L330.0,947.8L324.0,950.9L318.0,954.1L306.0,961.3L294.0,969.3L282.0,978.1L270.0,987.7L258.0,998.0L246.0,1009.1L234.0,1020.8L222.0,1033.3L210.0,1046.4L198.0,1060.1L178.0,1084.2L158.0,1109.9L138.0,1137.0L118.0,1165.4" stroke="url(#aLgb)" stroke-opacity="0.04" stroke-width="1.4"/><path d="M408.0,928.4L411.0,928.4L414.0,928.5L417.0,928.7L420.0,928.9L423.0,929.1L426.0,929.4L429.0,929.8L432.0,930.3L435.0,930.7L438.0,931.3L444.0,932.6L450.0,934.1L456.0,935.8L462.0,937.8L468.0,939.9L474.0,942.3L480.0,945.0L486.0,947.8L492.0,950.9L498.0,954.1L510.0,961.3L522.0,969.3L534.0,978.1L546.0,987.7L558.0,998.0L570.0,1009.1L582.0,1020.8L594.0,1033.3L606.0,1046.4L618.0,1060.1L638.0,1084.2" stroke="url(#aRgb)" stroke-opacity="0.04" stroke-width="1.4"/><path d="M408.0,940.4L405.0,940.4L402.0,940.5L399.0,940.7L396.0,940.9L393.0,941.1L390.0,941.4L387.0,941.8L384.0,942.2L381.0,942.7L378.0,943.3L372.0,944.5L366.0,946.0L360.0,947.7L354.0,949.6L348.0,951.8L342.0,954.1L336.0,956.7L330.0,959.5L324.0,962.5L318.0,965.8L306.0,972.8L294.0,980.7L282.0,989.4L270.0,998.9L258.0,1009.1L246.0,1020.0L234.0,1031.6L222.0,1043.9L210.0,1056.9L198.0,1070.4L178.0,1094.3L158.0,1119.8L138.0,1146.6L118.0,1174.8" stroke="url(#aLgr)" stroke-opacity="0.04" stroke-width="1.4"/><path d="M408.0,940.4L411.0,940.4L414.0,940.5L417.0,940.7L420.0,940.9L423.0,941.1L426.0,941.4L429.0,941.8L432.0,942.2L435.0,942.7L438.0,943.3L444.0,944.5L450.0,946.0L456.0,947.7L462.0,949.6L468.0,951.8L474.0,954.1L480.0,956.7L486.0,959.5L492.0,962.5L498.0,965.8L510.0,972.8L522.0,980.7L534.0,989.4L546.0,998.9L558.0,1009.1L570.0,1020.0L582.0,1031.6L594.0,1043.9L606.0,1056.9L618.0,1070.4L638.0,1094.3" stroke="url(#aRgr)" stroke-opacity="0.04" stroke-width="1.4"/><path d="M408.0,952.4L405.0,952.4L402.0,952.5L399.0,952.7L396.0,952.9L393.0,953.1L390.0,953.4L387.0,953.8L384.0,954.2L381.0,954.7L378.0,955.2L372.0,956.5L366.0,957.9L360.0,959.6L354.0,961.5L348.0,963.6L342.0,965.9L336.0,968.5L330.0,971.3L324.0,974.2L318.0,977.4L306.0,984.4L294.0,992.2L282.0,1000.8L270.0,1010.1L258.0,1020.2L246.0,1031.0L234.0,1042.5L222.0,1054.6L210.0,1067.4L198.0,1080.8L178.0,1104.5L158.0,1129.7L138.0,1156.2L118.0,1184.1" stroke="url(#aLgb)" stroke-opacity="0.04" stroke-width="1.4"/><path d="M408.0,952.4L411.0,952.4L414.0,952.5L417.0,952.7L420.0,952.9L423.0,953.1L426.0,953.4L429.0,953.8L432.0,954.2L435.0,954.7L438.0,955.2L444.0,956.5L450.0,957.9L456.0,959.6L462.0,961.5L468.0,963.6L474.0,965.9L480.0,968.5L486.0,971.3L492.0,974.2L498.0,977.4L510.0,984.4L522.0,992.2L534.0,1000.8L546.0,1010.1L558.0,1020.2L570.0,1031.0L582.0,1042.5L594.0,1054.6L606.0,1067.4L618.0,1080.8L638.0,1104.5" stroke="url(#aRgb)" stroke-opacity="0.04" stroke-width="1.4"/><path d="M408.0,964.4L405.0,964.4L402.0,964.5L399.0,964.7L396.0,964.8L393.0,965.1L390.0,965.4L387.0,965.8L384.0,966.2L381.0,966.6L378.0,967.2L372.0,968.4L366.0,969.8L360.0,971.5L354.0,973.4L348.0,975.5L342.0,977.8L336.0,980.3L330.0,983.0L324.0,985.9L318.0,989.1L306.0,996.0L294.0,1003.7L282.0,1012.1L270.0,1021.4L258.0,1031.3L246.0,1042.0L234.0,1053.3L222.0,1065.3L210.0,1078.0L198.0,1091.3L178.0,1114.7L158.0,1139.6L138.0,1165.9" stroke="url(#aLgr)" stroke-opacity="0.04" stroke-width="1.4"/><path d="M408.0,964.4L411.0,964.4L414.0,964.5L417.0,964.7L420.0,964.8L423.0,965.1L426.0,965.4L429.0,965.8L432.0,966.2L435.0,966.6L438.0,967.2L444.0,968.4L450.0,969.8L456.0,971.5L462.0,973.4L468.0,975.5L474.0,977.8L480.0,980.3L486.0,983.0L492.0,985.9L498.0,989.1L510.0,996.0L522.0,1003.7L534.0,1012.1L546.0,1021.4L558.0,1031.3L570.0,1042.0L582.0,1053.3L594.0,1065.3L606.0,1078.0L618.0,1091.3L638.0,1114.7" stroke="url(#aRgr)" stroke-opacity="0.04" stroke-width="1.4"/><path d="M408.0,976.4L405.0,976.4L402.0,976.5L399.0,976.6L396.0,976.8L393.0,977.1L390.0,977.4L387.0,977.7L384.0,978.2L381.0,978.6L378.0,979.1L372.0,980.3L366.0,981.8L360.0,983.4L354.0,985.2L348.0,987.3L342.0,989.6L336.0,992.1L330.0,994.7L324.0,997.6L318.0,1000.7L306.0,1007.5L294.0,1015.1L282.0,1023.5L270.0,1032.6L258.0,1042.4L246.0,1053.0L234.0,1064.2L222.0,1076.1L210.0,1088.6L198.0,1101.7L178.0,1124.9L158.0,1149.6L138.0,1175.7" stroke="url(#aLgb)" stroke-opacity="0.03" stroke-width="1.4"/><path d="M408.0,976.4L411.0,976.4L414.0,976.5L417.0,976.6L420.0,976.8L423.0,977.1L426.0,977.4L429.0,977.7L432.0,978.2L435.0,978.6L438.0,979.1L444.0,980.3L450.0,981.8L456.0,983.4L462.0,985.2L468.0,987.3L474.0,989.6L480.0,992.1L486.0,994.7L492.0,997.6L498.0,1000.7L510.0,1007.5L522.0,1015.1L534.0,1023.5L546.0,1032.6L558.0,1042.4L570.0,1053.0L582.0,1064.2L594.0,1076.1L606.0,1088.6L618.0,1101.7L638.0,1124.9" stroke="url(#aRgb)" stroke-opacity="0.03" stroke-width="1.4"/><path d="M408.0,988.4L405.0,988.4L402.0,988.5L399.0,988.6L396.0,988.8L393.0,989.1L390.0,989.4L387.0,989.7L384.0,990.1L381.0,990.6L378.0,991.1L372.0,992.3L366.0,993.7L360.0,995.3L354.0,997.1L348.0,999.2L342.0,1001.4L336.0,1003.8L330.0,1006.5L324.0,1009.4L318.0,1012.4L306.0,1019.1L294.0,1026.6L282.0,1034.9L270.0,1043.9L258.0,1053.6L246.0,1064.0L234.0,1075.1L222.0,1086.9L210.0,1099.3L198.0,1112.2L178.0,1135.2L158.0,1159.6" stroke="url(#aLgr)" stroke-opacity="0.03" stroke-width="1.4"/><path d="M408.0,988.4L411.0,988.4L414.0,988.5L417.0,988.6L420.0,988.8L423.0,989.1L426.0,989.4L429.0,989.7L432.0,990.1L435.0,990.6L438.0,991.1L444.0,992.3L450.0,993.7L456.0,995.3L462.0,997.1L468.0,999.2L474.0,1001.4L480.0,1003.8L486.0,1006.5L492.0,1009.4L498.0,1012.4L510.0,1019.1L522.0,1026.6L534.0,1034.9L546.0,1043.9L558.0,1053.6L570.0,1064.0L582.0,1075.1L594.0,1086.9L606.0,1099.3L618.0,1112.2L638.0,1135.2" stroke="url(#aRgr)" stroke-opacity="0.03" stroke-width="1.4"/><path d="M408.0,1000.4L405.0,1000.4L402.0,1000.5L399.0,1000.6L396.0,1000.8L393.0,1001.1L390.0,1001.4L387.0,1001.7L384.0,1002.1L381.0,1002.6L378.0,1003.1L372.0,1004.2L366.0,1005.6L360.0,1007.2L354.0,1009.0L348.0,1011.0L342.0,1013.2L336.0,1015.6L330.0,1018.3L324.0,1021.1L318.0,1024.1L306.0,1030.7L294.0,1038.1L282.0,1046.3L270.0,1055.2L258.0,1064.8L246.0,1075.1L234.0,1086.1L222.0,1097.7L210.0,1109.9L198.0,1122.8L178.0,1145.5L158.0,1169.7" stroke="url(#aLgb)" stroke-opacity="0.03" stroke-width="1.4"/><path d="M408.0,1000.4L411.0,1000.4L414.0,1000.5L417.0,1000.6L420.0,1000.8L423.0,1001.1L426.0,1001.4L429.0,1001.7L432.0,1002.1L435.0,1002.6L438.0,1003.1L444.0,1004.2L450.0,1005.6L456.0,1007.2L462.0,1009.0L468.0,1011.0L474.0,1013.2L480.0,1015.6L486.0,1018.3L492.0,1021.1L498.0,1024.1L510.0,1030.7L522.0,1038.1L534.0,1046.3L546.0,1055.2L558.0,1064.8L570.0,1075.1L582.0,1086.1L594.0,1097.7L606.0,1109.9L618.0,1122.8L638.0,1145.5" stroke="url(#aRgb)" stroke-opacity="0.03" stroke-width="1.4"/><path d="M408.0,1012.4L405.0,1012.4L402.0,1012.5L399.0,1012.6L396.0,1012.8L393.0,1013.1L390.0,1013.3L387.0,1013.7L384.0,1014.1L381.0,1014.5L378.0,1015.0L372.0,1016.2L366.0,1017.5L360.0,1019.1L354.0,1020.9L348.0,1022.9L342.0,1025.1L336.0,1027.4L330.0,1030.0L324.0,1032.8L318.0,1035.8L306.0,1042.3L294.0,1049.7L282.0,1057.7L270.0,1066.5L258.0,1076.0L246.0,1086.2L234.0,1097.0L222.0,1108.5L210.0,1120.6L198.0,1133.3L178.0,1155.8L158.0,1179.8" stroke="url(#aLgr)" stroke-opacity="0.03" stroke-width="1.4"/><path d="M408.0,1012.4L411.0,1012.4L414.0,1012.5L417.0,1012.6L420.0,1012.8L423.0,1013.1L426.0,1013.3L429.0,1013.7L432.0,1014.1L435.0,1014.5L438.0,1015.0L444.0,1016.2L450.0,1017.5L456.0,1019.1L462.0,1020.9L468.0,1022.9L474.0,1025.1L480.0,1027.4L486.0,1030.0L492.0,1032.8L498.0,1035.8L510.0,1042.3L522.0,1049.7L534.0,1057.7L546.0,1066.5L558.0,1076.0L570.0,1086.2L582.0,1097.0L594.0,1108.5L606.0,1120.6L618.0,1133.3L638.0,1155.8" stroke="url(#aRgr)" stroke-opacity="0.03" stroke-width="1.4"/><path d="M408.0,1024.4L405.0,1024.4L402.0,1024.5L399.0,1024.6L396.0,1024.8L393.0,1025.0L390.0,1025.3L387.0,1025.7L384.0,1026.1L381.0,1026.5L378.0,1027.0L372.0,1028.1L366.0,1029.5L360.0,1031.0L354.0,1032.8L348.0,1034.7L342.0,1036.9L336.0,1039.2L330.0,1041.8L324.0,1044.6L318.0,1047.5L306.0,1054.0L294.0,1061.2L282.0,1069.1L270.0,1077.8L258.0,1087.2L246.0,1097.3L234.0,1108.0L222.0,1119.4L210.0,1131.4L198.0,1143.9L178.0,1166.2" stroke="url(#aLgb)" stroke-opacity="0.03" stroke-width="1.4"/><path d="M408.0,1024.4L411.0,1024.4L414.0,1024.5L417.0,1024.6L420.0,1024.8L423.0,1025.0L426.0,1025.3L429.0,1025.7L432.0,1026.1L435.0,1026.5L438.0,1027.0L444.0,1028.1L450.0,1029.5L456.0,1031.0L462.0,1032.8L468.0,1034.7L474.0,1036.9L480.0,1039.2L486.0,1041.8L492.0,1044.6L498.0,1047.5L510.0,1054.0L522.0,1061.2L534.0,1069.1L546.0,1077.8L558.0,1087.2L570.0,1097.3L582.0,1108.0L594.0,1119.4L606.0,1131.4L618.0,1143.9L638.0,1166.2" stroke="url(#aRgb)" stroke-opacity="0.03" stroke-width="1.4"/><path d="M408.0,1036.4L405.0,1036.4L402.0,1036.5L399.0,1036.6L396.0,1036.8L393.0,1037.0L390.0,1037.3L387.0,1037.7L384.0,1038.0L381.0,1038.5L378.0,1039.0L372.0,1040.1L366.0,1041.4L360.0,1042.9L354.0,1044.7L348.0,1046.6L342.0,1048.7L336.0,1051.1L330.0,1053.6L324.0,1056.3L318.0,1059.2L306.0,1065.6L294.0,1072.7L282.0,1080.6L270.0,1089.2L258.0,1098.5L246.0,1108.4L234.0,1119.0L222.0,1130.3L210.0,1142.1L198.0,1154.6L178.0,1176.6" stroke="url(#aLgr)" stroke-opacity="0.03" stroke-width="1.4"/><path d="M408.0,1036.4L411.0,1036.4L414.0,1036.5L417.0,1036.6L420.0,1036.8L423.0,1037.0L426.0,1037.3L429.0,1037.7L432.0,1038.0L435.0,1038.5L438.0,1039.0L444.0,1040.1L450.0,1041.4L456.0,1042.9L462.0,1044.7L468.0,1046.6L474.0,1048.7L480.0,1051.1L486.0,1053.6L492.0,1056.3L498.0,1059.2L510.0,1065.6L522.0,1072.7L534.0,1080.6L546.0,1089.2L558.0,1098.5L570.0,1108.4L582.0,1119.0L594.0,1130.3L606.0,1142.1L618.0,1154.6L638.0,1176.6" stroke="url(#aRgr)" stroke-opacity="0.03" stroke-width="1.4"/><path d="M408.0,1048.4L405.0,1048.4L402.0,1048.5L399.0,1048.6L396.0,1048.8L393.0,1049.0L390.0,1049.3L387.0,1049.6L384.0,1050.0L381.0,1050.4L378.0,1050.9L372.0,1052.0L366.0,1053.4L360.0,1054.9L354.0,1056.6L348.0,1058.5L342.0,1060.6L336.0,1062.9L330.0,1065.4L324.0,1068.0L318.0,1070.9L306.0,1077.2L294.0,1084.3L282.0,1092.1L270.0,1100.5L258.0,1109.7L246.0,1119.6L234.0,1130.0L222.0,1141.2L210.0,1152.9L198.0,1165.2" stroke="url(#aLgb)" stroke-opacity="0.03" stroke-width="1.4"/><path d="M408.0,1048.4L411.0,1048.4L414.0,1048.5L417.0,1048.6L420.0,1048.8L423.0,1049.0L426.0,1049.3L429.0,1049.6L432.0,1050.0L435.0,1050.4L438.0,1050.9L444.0,1052.0L450.0,1053.4L456.0,1054.9L462.0,1056.6L468.0,1058.5L474.0,1060.6L480.0,1062.9L486.0,1065.4L492.0,1068.0L498.0,1070.9L510.0,1077.2L522.0,1084.3L534.0,1092.1L546.0,1100.5L558.0,1109.7L570.0,1119.6L582.0,1130.0L594.0,1141.2L606.0,1152.9L618.0,1165.2" stroke="url(#aRgb)" stroke-opacity="0.03" stroke-width="1.4"/><path d="M408.0,1060.4L405.0,1060.4L402.0,1060.5L399.0,1060.6L396.0,1060.8L393.0,1061.0L390.0,1061.3L387.0,1061.6L384.0,1062.0L381.0,1062.4L378.0,1062.9L372.0,1064.0L366.0,1065.3L360.0,1066.8L354.0,1068.5L348.0,1070.4L342.0,1072.4L336.0,1074.7L330.0,1077.2L324.0,1079.8L318.0,1082.6L306.0,1088.9L294.0,1095.8L282.0,1103.5L270.0,1111.9L258.0,1121.0L246.0,1130.7L234.0,1141.1L222.0,1152.1L210.0,1163.7" stroke="url(#aLgr)" stroke-opacity="0.03" stroke-width="1.4"/><path d="M408.0,1060.4L411.0,1060.4L414.0,1060.5L417.0,1060.6L420.0,1060.8L423.0,1061.0L426.0,1061.3L429.0,1061.6L432.0,1062.0L435.0,1062.4L438.0,1062.9L444.0,1064.0L450.0,1065.3L456.0,1066.8L462.0,1068.5L468.0,1070.4L474.0,1072.4L480.0,1074.7L486.0,1077.2L492.0,1079.8L498.0,1082.6L510.0,1088.9L522.0,1095.8L534.0,1103.5L546.0,1111.9L558.0,1121.0L570.0,1130.7L582.0,1141.1L594.0,1152.1L606.0,1163.7" stroke="url(#aRgr)" stroke-opacity="0.03" stroke-width="1.4"/></g><rect x="99.5" y="108.4" width="522.1" height="1043.7" fill="none" stroke="#000" stroke-width="2.8"/><path d="M99.5,108.4V93.4M157.5,108.4V93.4M215.5,108.4V93.4M273.5,108.4V93.4M331.5,108.4V93.4M389.6,108.4V93.4M447.6,108.4V93.4M505.6,108.4V93.4M563.6,108.4V93.4M621.6,108.4V93.4M99.5,108.4H84.4M99.5,317.1H84.4M99.5,525.9H84.4M99.5,734.6H84.4M99.5,943.4H84.4M99.5,1152.1H84.4" stroke="#000" stroke-width="2.7" fill="none"/><text transform="translate(87.96,84.80) scale(1.0132,1)" font-size="41.50" fill="#000">0</text><text transform="translate(146.35,84.80) scale(1.0314,1)" font-size="41.50" fill="#000">2</text><text transform="translate(205.03,84.80) scale(1.0233,1)" font-size="41.50" fill="#000">4</text><text transform="translate(263.04,84.80) scale(1.0705,1)" font-size="41.50" fill="#000">6</text><text transform="translate(321.84,84.80) scale(1.0322,1)" font-size="41.50" fill="#000">8</text><text transform="translate(368.71,84.80) scale(0.9474,1)" font-size="41.50" fill="#000">10</text><text transform="translate(426.07,84.80) scale(0.9581,1)" font-size="41.50" fill="#000">12</text><text transform="translate(483.47,84.80) scale(0.9597,1)" font-size="41.50" fill="#000">14</text><text transform="translate(541.68,84.80) scale(0.9884,1)" font-size="41.50" fill="#000">16</text><text transform="translate(599.76,84.80) scale(0.9613,1)" font-size="41.50" fill="#000">18</text><text transform="translate(59.45,120.80) scale(0.9694,1)" font-size="41.00" fill="#000">0</text><text transform="translate(61.61,329.54) scale(0.6053,1)" font-size="41.00" fill="#000">1</text><text transform="translate(59.14,538.28) scale(1.0012,1)" font-size="41.00" fill="#000">2</text><text transform="translate(59.75,747.02) scale(0.9260,1)" font-size="41.00" fill="#000">3</text><text transform="translate(58.84,955.76) scale(1.0213,1)" font-size="41.00" fill="#000">4</text><text transform="translate(59.40,1164.50) scale(0.9774,1)" font-size="41.00" fill="#000">5</text><text transform="translate(236.19,34.20) scale(0.9327,1)" font-size="43.20" fill="#000">Distance (km)</text><text transform="translate(31.10,705.57) rotate(-90) scale(0.8939,1)" font-size="43.20" fill="#000">Time (s)</text><rect x="638.6" y="108.4" width="26.1" height="1043.7" fill="url(#cba)" stroke="#000" stroke-width="2.7"/><path d="M664.7,108.4H672.5M664.7,630.2H672.5M664.7,1152.1H672.5" stroke="#000" stroke-width="2.7"/><text transform="translate(682.36,124.20) scale(1.0219,1)" font-size="41.50" fill="#000">8</text><text transform="translate(682.59,646.40) scale(0.9930,1)" font-size="41.50" fill="#000">0</text><text transform="translate(682.48,1167.80) scale(0.9864,1)" font-size="41.50" fill="#000">-8</text><text transform="translate(664.55,1221.00) scale(0.9688,1)" font-size="41.50" fill="#000">x10</text><text transform="translate(728.02,1205.30) scale(0.9666,1)" font-size="41.50" fill="#000">-5</text><text transform="translate(309.75,1205.50) scale(0.8899,1)" font-size="57.00" fill="#000">(a)</text><text transform="translate(271.29,212.10) scale(0.8769,1)" font-size="36.20" fill="#000">Top of Fm.  A</text><text transform="translate(115.68,285.60) scale(0.9176,1)" font-size="36.20" fill="#000">Bottom of Fm.  A</text><path d="M360.4,223.5L404.9,329.5" stroke="#120b0a" stroke-width="4.0" fill="none"/><polygon points="414.6,352.5 390.1,329.1 404.5,328.5 415.0,318.7" fill="#120b0a"/><path d="M291.0,295.2L388.7,356.9" stroke="#120b0a" stroke-width="4.0" fill="none"/><polygon points="409.8,370.3 376.4,365.1 387.8,356.4 390.8,342.3" fill="#120b0a"/><rect x="832.5" y="105.4" width="522.1" height="1043.7" fill="#fcfcfd"/><g clip-path="url(#clipb)" fill="none"><path d="M1140.0,482.2L1137.0,482.3L1134.0,482.6L1131.0,483.0L1128.0,483.6L1125.0,484.4L1122.0,485.4L1119.0,486.5L1116.0,487.8L1113.0,489.2L1110.0,490.8L1104.0,494.5L1098.0,498.8L1092.0,503.6L1086.0,508.9L1080.0,514.8L1074.0,521.1L1068.0,527.9L1062.0,535.1L1056.0,542.7L1050.0,550.7L1038.0,567.7L1026.0,586.0L1014.0,605.4L1002.0,625.7L990.0,646.8L978.0,668.7L966.0,691.3L954.0,714.4L942.0,738.1L930.0,762.2L910.0,803.3L890.0,845.3L870.0,888.2L850.0,931.8L830.0,976.0L810.0,1020.7" stroke="url(#bLb)" stroke-opacity="0.10" stroke-width="4"/><path d="M1140.0,482.2L1143.0,482.3L1146.0,482.5L1149.0,482.9L1152.0,483.5L1155.0,484.2L1158.0,485.1L1161.0,486.2L1164.0,487.4L1167.0,488.8L1170.0,490.3L1176.0,493.8L1182.0,497.9L1188.0,502.5L1194.0,507.8L1200.0,513.5L1206.0,519.8L1212.0,526.5L1218.0,533.7L1224.0,541.4L1230.0,549.5L1242.0,566.8L1254.0,585.5L1266.0,605.4L1278.0,626.5L1290.0,648.5L1302.0,671.4L1314.0,695.0L1326.0,719.3L1338.0,744.2L1350.0,769.6L1370.0,813.1" stroke="url(#bRb)" stroke-opacity="0.10" stroke-width="4"/><path d="M1140.0,488.2L1137.0,488.3L1134.0,488.6L1131.0,489.0L1128.0,489.6L1125.0,490.4L1122.0,491.3L1119.0,492.4L1116.0,493.7L1113.0,495.1L1110.0,496.7L1104.0,500.3L1098.0,504.5L1092.0,509.3L1086.0,514.5L1080.0,520.3L1074.0,526.6L1068.0,533.3L1062.0,540.4L1056.0,547.9L1050.0,555.8L1038.0,572.6L1026.0,590.7L1014.0,609.9L1002.0,630.0L990.0,651.0L978.0,672.8L966.0,695.2L954.0,718.1L942.0,741.7L930.0,765.6L910.0,806.5L890.0,848.4L870.0,891.1L850.0,934.5L830.0,978.6L810.0,1023.2" stroke="url(#bLr)" stroke-opacity="0.28" stroke-width="2.0"/><path d="M1140.0,488.2L1143.0,488.3L1146.0,488.5L1149.0,488.9L1152.0,489.5L1155.0,490.2L1158.0,491.1L1161.0,492.1L1164.0,493.3L1167.0,494.7L1170.0,496.2L1176.0,499.6L1182.0,503.6L1188.0,508.2L1194.0,513.4L1200.0,519.1L1206.0,525.3L1212.0,531.9L1218.0,539.0L1224.0,546.6L1230.0,554.6L1242.0,571.7L1254.0,590.2L1266.0,610.0L1278.0,630.8L1290.0,652.7L1302.0,675.4L1314.0,698.9L1326.0,723.0L1338.0,747.8L1350.0,773.1L1370.0,816.3" stroke="url(#bRr)" stroke-opacity="0.28" stroke-width="2.0"/><path d="M1140.0,494.8L1137.0,494.9L1134.0,495.1L1131.0,495.6L1128.0,496.2L1125.0,496.9L1122.0,497.9L1119.0,499.0L1116.0,500.2L1113.0,501.6L1110.0,503.2L1104.0,506.7L1098.0,510.8L1092.0,515.5L1086.0,520.7L1080.0,526.4L1074.0,532.6L1068.0,539.2L1062.0,546.2L1056.0,553.6L1050.0,561.4L1038.0,578.1L1026.0,595.9L1014.0,614.9L1002.0,634.9L990.0,655.7L978.0,677.2L966.0,699.5L954.0,722.3L942.0,745.7L930.0,769.5L910.0,810.2L890.0,851.8L870.0,894.4L850.0,937.6L830.0,981.5L810.0,1026.0" stroke="url(#bLb)" stroke-opacity="0.18" stroke-width="1.8"/><path d="M1140.0,494.8L1143.0,494.9L1146.0,495.1L1149.0,495.5L1152.0,496.1L1155.0,496.8L1158.0,497.6L1161.0,498.7L1164.0,499.8L1167.0,501.2L1170.0,502.6L1176.0,506.0L1182.0,510.0L1188.0,514.5L1194.0,519.6L1200.0,525.2L1206.0,531.3L1212.0,537.8L1218.0,544.9L1224.0,552.3L1230.0,560.2L1242.0,577.1L1254.0,595.4L1266.0,615.0L1278.0,635.6L1290.0,657.3L1302.0,679.8L1314.0,703.1L1326.0,727.1L1338.0,751.7L1350.0,776.9L1370.0,819.8" stroke="url(#bRb)" stroke-opacity="0.18" stroke-width="1.8"/><path d="M1140.0,500.4L1137.0,500.5L1134.0,500.7L1131.0,501.2L1128.0,501.8L1125.0,502.5L1122.0,503.4L1119.0,504.5L1116.0,505.7L1113.0,507.1L1110.0,508.6L1104.0,512.2L1098.0,516.2L1092.0,520.8L1086.0,526.0L1080.0,531.6L1074.0,537.7L1068.0,544.2L1062.0,551.2L1056.0,558.5L1050.0,566.2L1038.0,582.7L1026.0,600.4L1014.0,619.2L1002.0,639.0L990.0,659.6L978.0,681.1L966.0,703.1L954.0,725.8L942.0,749.1L930.0,772.8L910.0,813.3L890.0,854.8L870.0,897.1L850.0,940.2L830.0,984.0L810.0,1028.3" stroke="url(#bLr)" stroke-opacity="0.10" stroke-width="1.5"/><path d="M1140.0,500.4L1143.0,500.5L1146.0,500.7L1149.0,501.1L1152.0,501.6L1155.0,502.3L1158.0,503.2L1161.0,504.2L1164.0,505.4L1167.0,506.7L1170.0,508.1L1176.0,511.5L1182.0,515.4L1188.0,519.9L1194.0,524.9L1200.0,530.4L1206.0,536.4L1212.0,542.9L1218.0,549.8L1224.0,557.2L1230.0,565.0L1242.0,581.7L1254.0,599.9L1266.0,619.3L1278.0,639.8L1290.0,661.3L1302.0,683.6L1314.0,706.8L1326.0,730.6L1338.0,755.1L1350.0,780.1L1370.0,822.9" stroke="url(#bRr)" stroke-opacity="0.10" stroke-width="1.5"/><path d="M1140.0,505.4L1137.0,505.5L1134.0,505.7L1131.0,506.2L1128.0,506.7L1125.0,507.5L1122.0,508.4L1119.0,509.4L1116.0,510.7L1113.0,512.0L1110.0,513.5L1104.0,517.0L1098.0,521.0L1092.0,525.6L1086.0,530.7L1080.0,536.2L1074.0,542.3L1068.0,548.7L1062.0,555.6L1056.0,562.9L1050.0,570.5L1038.0,586.8L1026.0,604.4L1014.0,623.1L1002.0,642.7L990.0,663.2L978.0,684.5L966.0,706.5L954.0,729.0L942.0,752.2L930.0,775.8L910.0,816.1L890.0,857.4L870.0,899.6L850.0,942.6L830.0,986.3L810.0,1030.5" stroke="url(#bLb)" stroke-opacity="0.08" stroke-width="1.5"/><path d="M1140.0,505.4L1143.0,505.5L1146.0,505.7L1149.0,506.1L1152.0,506.6L1155.0,507.3L1158.0,508.2L1161.0,509.2L1164.0,510.3L1167.0,511.6L1170.0,513.0L1176.0,516.3L1182.0,520.2L1188.0,524.6L1194.0,529.6L1200.0,535.0L1206.0,541.0L1212.0,547.4L1218.0,554.3L1224.0,561.6L1230.0,569.3L1242.0,585.9L1254.0,603.9L1266.0,623.1L1278.0,643.5L1290.0,664.8L1302.0,687.1L1314.0,710.1L1326.0,733.8L1338.0,758.2L1350.0,783.1L1370.0,825.7" stroke="url(#bRb)" stroke-opacity="0.08" stroke-width="1.5"/><path d="M1140.0,510.2L1137.0,510.3L1134.0,510.5L1131.0,510.9L1128.0,511.5L1125.0,512.3L1122.0,513.2L1119.0,514.2L1116.0,515.4L1113.0,516.8L1110.0,518.3L1104.0,521.7L1098.0,525.7L1092.0,530.2L1086.0,535.2L1080.0,540.7L1074.0,546.7L1068.0,553.1L1062.0,559.9L1056.0,567.1L1050.0,574.7L1038.0,590.8L1026.0,608.3L1014.0,626.8L1002.0,646.3L990.0,666.7L978.0,687.8L966.0,709.7L954.0,732.1L942.0,755.1L930.0,778.6L910.0,818.8L890.0,860.0L870.0,902.1L850.0,944.9L830.0,988.5L810.0,1032.6" stroke="url(#bLr)" stroke-opacity="0.16" stroke-width="1.6"/><path d="M1140.0,510.2L1143.0,510.3L1146.0,510.5L1149.0,510.9L1152.0,511.4L1155.0,512.1L1158.0,512.9L1161.0,513.9L1164.0,515.0L1167.0,516.3L1170.0,517.7L1176.0,521.0L1182.0,524.8L1188.0,529.2L1194.0,534.1L1200.0,539.5L1206.0,545.4L1212.0,551.8L1218.0,558.6L1224.0,565.8L1230.0,573.5L1242.0,589.9L1254.0,607.7L1266.0,626.8L1278.0,647.1L1290.0,668.3L1302.0,690.4L1314.0,713.3L1326.0,736.9L1338.0,761.1L1350.0,785.9L1370.0,828.3" stroke="url(#bRr)" stroke-opacity="0.16" stroke-width="1.6"/><path d="M1140.0,516.2L1137.0,516.3L1134.0,516.5L1131.0,516.9L1128.0,517.5L1125.0,518.2L1122.0,519.1L1119.0,520.1L1116.0,521.3L1113.0,522.7L1110.0,524.1L1104.0,527.5L1098.0,531.4L1092.0,535.9L1086.0,540.8L1080.0,546.3L1074.0,552.2L1068.0,558.5L1062.0,565.2L1056.0,572.3L1050.0,579.8L1038.0,595.8L1026.0,613.1L1014.0,631.5L1002.0,650.8L990.0,671.0L978.0,692.0L966.0,713.7L954.0,736.0L942.0,758.9L930.0,782.3L910.0,822.2L890.0,863.2L870.0,905.1L850.0,947.8L830.0,991.2L810.0,1035.2" stroke="url(#bLb)" stroke-opacity="0.12" stroke-width="1.6"/><path d="M1140.0,516.2L1143.0,516.3L1146.0,516.5L1149.0,516.9L1152.0,517.4L1155.0,518.1L1158.0,518.9L1161.0,519.9L1164.0,521.0L1167.0,522.2L1170.0,523.6L1176.0,526.9L1182.0,530.6L1188.0,534.9L1194.0,539.8L1200.0,545.1L1206.0,550.9L1212.0,557.2L1218.0,563.9L1224.0,571.1L1230.0,578.7L1242.0,594.9L1254.0,612.6L1266.0,631.5L1278.0,651.6L1290.0,672.6L1302.0,694.5L1314.0,717.3L1326.0,740.7L1338.0,764.8L1350.0,789.5L1370.0,831.7" stroke="url(#bRb)" stroke-opacity="0.12" stroke-width="1.6"/><path d="M1140.0,521.4L1137.0,521.5L1134.0,521.7L1131.0,522.1L1128.0,522.7L1125.0,523.4L1122.0,524.3L1119.0,525.3L1116.0,526.5L1113.0,527.8L1110.0,529.2L1104.0,532.6L1098.0,536.5L1092.0,540.9L1086.0,545.8L1080.0,551.1L1074.0,557.0L1068.0,563.2L1062.0,569.9L1056.0,576.9L1050.0,584.3L1038.0,600.2L1026.0,617.3L1014.0,635.5L1002.0,654.7L990.0,674.8L978.0,695.7L966.0,717.2L954.0,739.4L942.0,762.2L930.0,785.4L910.0,825.2L890.0,866.0L870.0,907.8L850.0,950.4L830.0,993.6L810.0,1037.5" stroke="url(#bLr)" stroke-opacity="0.08" stroke-width="1.5"/><path d="M1140.0,521.4L1143.0,521.5L1146.0,521.7L1149.0,522.1L1152.0,522.6L1155.0,523.2L1158.0,524.1L1161.0,525.0L1164.0,526.1L1167.0,527.4L1170.0,528.7L1176.0,531.9L1182.0,535.7L1188.0,539.9L1194.0,544.7L1200.0,550.0L1206.0,555.7L1212.0,561.9L1218.0,568.6L1224.0,575.7L1230.0,583.2L1242.0,599.3L1254.0,616.8L1266.0,635.6L1278.0,655.5L1290.0,676.4L1302.0,698.2L1314.0,720.8L1326.0,744.1L1338.0,768.1L1350.0,792.6L1370.0,834.7" stroke="url(#bRr)" stroke-opacity="0.08" stroke-width="1.5"/><path d="M1140.0,527.4L1137.0,527.5L1134.0,527.7L1131.0,528.1L1128.0,528.7L1125.0,529.4L1122.0,530.2L1119.0,531.2L1116.0,532.4L1113.0,533.7L1110.0,535.1L1104.0,538.4L1098.0,542.3L1092.0,546.6L1086.0,551.4L1080.0,556.7L1074.0,562.5L1068.0,568.7L1062.0,575.3L1056.0,582.2L1050.0,589.6L1038.0,605.3L1026.0,622.2L1014.0,640.2L1002.0,659.3L990.0,679.2L978.0,699.9L966.0,721.3L954.0,743.4L942.0,766.0L930.0,789.1L910.0,828.7L890.0,869.3L870.0,910.9L850.0,953.4L830.0,996.5L810.0,1040.2" stroke="url(#bLb)" stroke-opacity="0.08" stroke-width="1.5"/><path d="M1140.0,527.4L1143.0,527.5L1146.0,527.7L1149.0,528.1L1152.0,528.6L1155.0,529.2L1158.0,530.0L1161.0,531.0L1164.0,532.0L1167.0,533.3L1170.0,534.6L1176.0,537.8L1182.0,541.5L1188.0,545.7L1194.0,550.4L1200.0,555.6L1206.0,561.3L1212.0,567.4L1218.0,574.0L1224.0,581.0L1230.0,588.4L1242.0,604.4L1254.0,621.7L1266.0,640.3L1278.0,660.0L1290.0,680.8L1302.0,702.4L1314.0,724.9L1326.0,748.0L1338.0,771.9L1350.0,796.3L1370.0,838.1" stroke="url(#bRb)" stroke-opacity="0.08" stroke-width="1.5"/><path d="M1140.0,533.4L1137.0,533.5L1134.0,533.7L1131.0,534.1L1128.0,534.7L1125.0,535.3L1122.0,536.2L1119.0,537.2L1116.0,538.3L1113.0,539.6L1110.0,541.0L1104.0,544.3L1098.0,548.0L1092.0,552.3L1086.0,557.1L1080.0,562.3L1074.0,568.0L1068.0,574.1L1062.0,580.7L1056.0,587.5L1050.0,594.8L1038.0,610.3L1026.0,627.1L1014.0,645.0L1002.0,663.9L990.0,683.6L978.0,704.2L966.0,725.4L954.0,747.4L942.0,769.8L930.0,792.8L910.0,832.2L890.0,872.7L870.0,914.1L850.0,956.4L830.0,999.3L810.0,1042.9" stroke="url(#bLr)" stroke-opacity="0.08" stroke-width="1.5"/><path d="M1140.0,533.4L1143.0,533.5L1146.0,533.7L1149.0,534.0L1152.0,534.6L1155.0,535.2L1158.0,536.0L1161.0,536.9L1164.0,538.0L1167.0,539.2L1170.0,540.5L1176.0,543.6L1182.0,547.3L1188.0,551.4L1194.0,556.1L1200.0,561.2L1206.0,566.8L1212.0,572.9L1218.0,579.4L1224.0,586.3L1230.0,593.7L1242.0,609.4L1254.0,626.6L1266.0,645.0L1278.0,664.6L1290.0,685.2L1302.0,706.7L1314.0,729.0L1326.0,752.0L1338.0,775.7L1350.0,800.0L1370.0,841.6" stroke="url(#bRr)" stroke-opacity="0.08" stroke-width="1.5"/><path d="M1140.0,538.4L1137.0,538.5L1134.0,538.7L1131.0,539.1L1128.0,539.6L1125.0,540.3L1122.0,541.2L1119.0,542.1L1116.0,543.3L1113.0,544.5L1110.0,545.9L1104.0,549.1L1098.0,552.9L1092.0,557.1L1086.0,561.8L1080.0,567.0L1074.0,572.7L1068.0,578.7L1062.0,585.2L1056.0,592.0L1050.0,599.2L1038.0,614.6L1026.0,631.2L1014.0,649.0L1002.0,667.7L990.0,687.3L978.0,707.8L966.0,728.9L954.0,750.7L942.0,773.1L930.0,796.0L910.0,835.2L890.0,875.5L870.0,916.8L850.0,958.9L830.0,1001.7L810.0,1045.2" stroke="url(#bLb)" stroke-opacity="0.07" stroke-width="1.5"/><path d="M1140.0,538.4L1143.0,538.5L1146.0,538.7L1149.0,539.0L1152.0,539.5L1155.0,540.2L1158.0,541.0L1161.0,541.9L1164.0,542.9L1167.0,544.1L1170.0,545.5L1176.0,548.5L1182.0,552.1L1188.0,556.2L1194.0,560.8L1200.0,565.9L1206.0,571.5L1212.0,577.5L1218.0,583.9L1224.0,590.8L1230.0,598.1L1242.0,613.7L1254.0,630.7L1266.0,649.0L1278.0,668.4L1290.0,688.9L1302.0,710.2L1314.0,732.4L1326.0,755.3L1338.0,778.9L1350.0,803.1L1370.0,844.5" stroke="url(#bRb)" stroke-opacity="0.07" stroke-width="1.5"/><path d="M1140.0,544.8L1137.0,544.9L1134.0,545.1L1131.0,545.5L1128.0,546.0L1125.0,546.7L1122.0,547.5L1119.0,548.5L1116.0,549.6L1113.0,550.8L1110.0,552.2L1104.0,555.4L1098.0,559.1L1092.0,563.3L1086.0,567.9L1080.0,573.0L1074.0,578.6L1068.0,584.6L1062.0,590.9L1056.0,597.7L1050.0,604.8L1038.0,620.0L1026.0,636.5L1014.0,654.1L1002.0,672.7L990.0,692.1L978.0,712.4L966.0,733.4L954.0,755.0L942.0,777.2L930.0,800.0L910.0,839.0L890.0,879.1L870.0,920.2L850.0,962.1L830.0,1004.8L810.0,1048.2" stroke="url(#bLr)" stroke-opacity="0.15" stroke-width="1.7"/><path d="M1140.0,544.8L1143.0,544.9L1146.0,545.1L1149.0,545.4L1152.0,545.9L1155.0,546.6L1158.0,547.3L1161.0,548.2L1164.0,549.3L1167.0,550.4L1170.0,551.8L1176.0,554.8L1182.0,558.3L1188.0,562.4L1194.0,566.9L1200.0,571.9L1206.0,577.4L1212.0,583.4L1218.0,589.7L1224.0,596.5L1230.0,603.7L1242.0,619.2L1254.0,636.0L1266.0,654.1L1278.0,673.4L1290.0,693.6L1302.0,714.8L1314.0,736.8L1326.0,759.6L1338.0,783.0L1350.0,807.1L1370.0,848.3" stroke="url(#bRr)" stroke-opacity="0.15" stroke-width="1.7"/><path d="M1140.0,551.2L1137.0,551.3L1134.0,551.5L1131.0,551.9L1128.0,552.4L1125.0,553.1L1122.0,553.9L1119.0,554.8L1116.0,555.9L1113.0,557.2L1110.0,558.5L1104.0,561.6L1098.0,565.3L1092.0,569.4L1086.0,574.0L1080.0,579.1L1074.0,584.5L1068.0,590.4L1062.0,596.7L1056.0,603.4L1050.0,610.4L1038.0,625.5L1026.0,641.8L1014.0,659.2L1002.0,677.6L990.0,696.9L978.0,717.0L966.0,737.9L954.0,759.4L942.0,781.4L930.0,804.1L910.0,842.8L890.0,882.7L870.0,923.7L850.0,965.4L830.0,1008.0L810.0,1051.2" stroke="url(#bLb)" stroke-opacity="0.10" stroke-width="1.7"/><path d="M1140.0,551.2L1143.0,551.3L1146.0,551.5L1149.0,551.8L1152.0,552.3L1155.0,552.9L1158.0,553.7L1161.0,554.6L1164.0,555.6L1167.0,556.8L1170.0,558.1L1176.0,561.0L1182.0,564.5L1188.0,568.5L1194.0,573.0L1200.0,578.0L1206.0,583.4L1212.0,589.3L1218.0,595.5L1224.0,602.2L1230.0,609.3L1242.0,624.6L1254.0,641.3L1266.0,659.3L1278.0,678.3L1290.0,698.4L1302.0,719.5L1314.0,741.3L1326.0,763.9L1338.0,787.2L1350.0,811.1L1370.0,852.1" stroke="url(#bRb)" stroke-opacity="0.10" stroke-width="1.7"/><path d="M1140.0,557.4L1137.0,557.5L1134.0,557.7L1131.0,558.1L1128.0,558.6L1125.0,559.2L1122.0,560.0L1119.0,561.0L1116.0,562.1L1113.0,563.3L1110.0,564.6L1104.0,567.7L1098.0,571.3L1092.0,575.4L1086.0,579.9L1080.0,584.9L1074.0,590.3L1068.0,596.2L1062.0,602.4L1056.0,609.0L1050.0,615.9L1038.0,630.8L1026.0,647.0L1014.0,664.2L1002.0,682.5L990.0,701.6L978.0,721.6L966.0,742.3L954.0,763.6L942.0,785.5L930.0,808.0L910.0,846.6L890.0,886.3L870.0,927.1L850.0,968.7L830.0,1011.1L810.0,1054.1" stroke="url(#bLr)" stroke-opacity="0.06" stroke-width="1.5"/><path d="M1140.0,557.4L1143.0,557.5L1146.0,557.7L1149.0,558.0L1152.0,558.5L1155.0,559.1L1158.0,559.8L1161.0,560.7L1164.0,561.7L1167.0,562.9L1170.0,564.2L1176.0,567.1L1182.0,570.6L1188.0,574.5L1194.0,578.9L1200.0,583.8L1206.0,589.2L1212.0,595.0L1218.0,601.2L1224.0,607.8L1230.0,614.8L1242.0,630.0L1254.0,646.5L1266.0,664.3L1278.0,683.2L1290.0,703.1L1302.0,724.0L1314.0,745.7L1326.0,768.1L1338.0,791.3L1350.0,815.0L1370.0,855.8" stroke="url(#bRr)" stroke-opacity="0.06" stroke-width="1.5"/><path d="M1140.0,563.4L1137.0,563.5L1134.0,563.7L1131.0,564.1L1128.0,564.6L1125.0,565.2L1122.0,566.0L1119.0,566.9L1116.0,568.0L1113.0,569.2L1110.0,570.5L1104.0,573.6L1098.0,577.1L1092.0,581.1L1086.0,585.6L1080.0,590.6L1074.0,595.9L1068.0,601.7L1062.0,607.8L1056.0,614.4L1050.0,621.2L1038.0,636.0L1026.0,652.0L1014.0,669.1L1002.0,687.2L990.0,706.2L978.0,726.0L966.0,746.5L954.0,767.7L942.0,789.5L930.0,811.9L910.0,850.3L890.0,889.8L870.0,930.4L850.0,971.8L830.0,1014.1L810.0,1057.0" stroke="url(#bLfr)" stroke-opacity="0.07" stroke-width="1.4"/><path d="M1140.0,563.4L1143.0,563.5L1146.0,563.7L1149.0,564.0L1152.0,564.5L1155.0,565.1L1158.0,565.8L1161.0,566.7L1164.0,567.7L1167.0,568.8L1170.0,570.1L1176.0,573.0L1182.0,576.4L1188.0,580.3L1194.0,584.7L1200.0,589.5L1206.0,594.8L1212.0,600.5L1218.0,606.7L1224.0,613.2L1230.0,620.2L1242.0,635.2L1254.0,651.5L1266.0,669.1L1278.0,687.9L1290.0,707.7L1302.0,728.4L1314.0,749.9L1326.0,772.2L1338.0,795.2L1350.0,818.9L1370.0,859.4" stroke="url(#bRfr)" stroke-opacity="0.07" stroke-width="1.4"/><path d="M1140.0,570.4L1137.0,570.5L1134.0,570.7L1131.0,571.1L1128.0,571.6L1125.0,572.2L1122.0,573.0L1119.0,573.9L1116.0,574.9L1113.0,576.1L1110.0,577.4L1104.0,580.4L1098.0,583.9L1092.0,587.9L1086.0,592.3L1080.0,597.2L1074.0,602.5L1068.0,608.2L1062.0,614.2L1056.0,620.7L1050.0,627.5L1038.0,642.1L1026.0,657.9L1014.0,674.8L1002.0,692.7L990.0,711.5L978.0,731.2L966.0,751.5L954.0,772.6L942.0,794.3L930.0,816.5L910.0,854.6L890.0,893.9L870.0,934.3L850.0,975.6L830.0,1017.6L810.0,1060.4" stroke="url(#bLfb)" stroke-opacity="0.07" stroke-width="1.4"/><path d="M1140.0,570.4L1143.0,570.5L1146.0,570.7L1149.0,571.0L1152.0,571.5L1155.0,572.1L1158.0,572.8L1161.0,573.6L1164.0,574.6L1167.0,575.7L1170.0,577.0L1176.0,579.8L1182.0,583.2L1188.0,587.0L1194.0,591.4L1200.0,596.1L1206.0,601.3L1212.0,607.0L1218.0,613.1L1224.0,619.5L1230.0,626.4L1242.0,641.2L1254.0,657.4L1266.0,674.8L1278.0,693.4L1290.0,713.0L1302.0,733.5L1314.0,754.9L1326.0,777.1L1338.0,799.9L1350.0,823.4L1370.0,863.7" stroke="url(#bRfb)" stroke-opacity="0.07" stroke-width="1.4"/><path d="M1140.0,577.4L1137.0,577.5L1134.0,577.7L1131.0,578.0L1128.0,578.5L1125.0,579.2L1122.0,579.9L1119.0,580.8L1116.0,581.9L1113.0,583.0L1110.0,584.3L1104.0,587.3L1098.0,590.7L1092.0,594.6L1086.0,599.0L1080.0,603.8L1074.0,609.0L1068.0,614.6L1062.0,620.6L1056.0,627.0L1050.0,633.7L1038.0,648.1L1026.0,663.8L1014.0,680.5L1002.0,698.3L990.0,716.9L978.0,736.4L966.0,756.6L954.0,777.5L942.0,799.0L930.0,821.1L910.0,858.9L890.0,898.1L870.0,938.2L850.0,979.3L830.0,1021.2L810.0,1063.8" stroke="url(#bLfr)" stroke-opacity="0.07" stroke-width="1.4"/><path d="M1140.0,577.4L1143.0,577.5L1146.0,577.7L1149.0,578.0L1152.0,578.4L1155.0,579.0L1158.0,579.7L1161.0,580.6L1164.0,581.6L1167.0,582.7L1170.0,583.9L1176.0,586.7L1182.0,590.0L1188.0,593.8L1194.0,598.1L1200.0,602.8L1206.0,607.9L1212.0,613.5L1218.0,619.5L1224.0,625.9L1230.0,632.7L1242.0,647.3L1254.0,663.3L1266.0,680.6L1278.0,699.0L1290.0,718.4L1302.0,738.7L1314.0,760.0L1326.0,781.9L1338.0,804.6L1350.0,827.9L1370.0,868.0" stroke="url(#bRfr)" stroke-opacity="0.07" stroke-width="1.4"/><path d="M1140.0,584.4L1137.0,584.5L1134.0,584.7L1131.0,585.0L1128.0,585.5L1125.0,586.1L1122.0,586.9L1119.0,587.8L1116.0,588.8L1113.0,590.0L1110.0,591.2L1104.0,594.1L1098.0,597.5L1092.0,601.4L1086.0,605.7L1080.0,610.4L1074.0,615.6L1068.0,621.1L1062.0,627.1L1056.0,633.3L1050.0,640.0L1038.0,654.2L1026.0,669.7L1014.0,686.3L1002.0,703.8L990.0,722.3L978.0,741.6L966.0,761.7L954.0,782.4L942.0,803.8L930.0,825.7L910.0,863.4L890.0,902.2L870.0,942.2L850.0,983.1L830.0,1024.8L810.0,1067.3" stroke="url(#bLfb)" stroke-opacity="0.07" stroke-width="1.4"/><path d="M1140.0,584.4L1143.0,584.5L1146.0,584.7L1149.0,585.0L1152.0,585.4L1155.0,586.0L1158.0,586.7L1161.0,587.5L1164.0,588.5L1167.0,589.6L1170.0,590.8L1176.0,593.6L1182.0,596.8L1188.0,600.6L1194.0,604.8L1200.0,609.4L1206.0,614.5L1212.0,620.0L1218.0,625.9L1224.0,632.2L1230.0,638.9L1242.0,653.4L1254.0,669.3L1266.0,686.3L1278.0,704.5L1290.0,723.8L1302.0,744.0L1314.0,765.0L1326.0,786.8L1338.0,809.4L1350.0,832.5L1370.0,872.4" stroke="url(#bRfb)" stroke-opacity="0.07" stroke-width="1.4"/><path d="M1140.0,591.4L1137.0,591.5L1134.0,591.7L1131.0,592.0L1128.0,592.5L1125.0,593.1L1122.0,593.9L1119.0,594.7L1116.0,595.7L1113.0,596.9L1110.0,598.1L1104.0,601.0L1098.0,604.3L1092.0,608.2L1086.0,612.4L1080.0,617.1L1074.0,622.2L1068.0,627.6L1062.0,633.5L1056.0,639.7L1050.0,646.3L1038.0,660.4L1026.0,675.7L1014.0,692.1L1002.0,709.5L990.0,727.8L978.0,746.9L966.0,766.8L954.0,787.4L942.0,808.6L930.0,830.4L910.0,867.8L890.0,906.5L870.0,946.2L850.0,987.0L830.0,1028.5L810.0,1070.8" stroke="url(#bLfr)" stroke-opacity="0.06" stroke-width="1.4"/><path d="M1140.0,591.4L1143.0,591.5L1146.0,591.7L1149.0,592.0L1152.0,592.4L1155.0,593.0L1158.0,593.7L1161.0,594.5L1164.0,595.4L1167.0,596.5L1170.0,597.7L1176.0,600.4L1182.0,603.7L1188.0,607.3L1194.0,611.5L1200.0,616.1L1206.0,621.1L1212.0,626.5L1218.0,632.4L1224.0,638.6L1230.0,645.2L1242.0,659.5L1254.0,675.2L1266.0,692.1L1278.0,710.2L1290.0,729.2L1302.0,749.2L1314.0,770.1L1326.0,791.8L1338.0,814.1L1350.0,837.1L1370.0,876.8" stroke="url(#bRfr)" stroke-opacity="0.06" stroke-width="1.4"/><path d="M1140.0,598.4L1137.0,598.5L1134.0,598.7L1131.0,599.0L1128.0,599.5L1125.0,600.1L1122.0,600.8L1119.0,601.7L1116.0,602.7L1113.0,603.8L1110.0,605.0L1104.0,607.9L1098.0,611.2L1092.0,614.9L1086.0,619.1L1080.0,623.7L1074.0,628.7L1068.0,634.2L1062.0,639.9L1056.0,646.1L1050.0,652.6L1038.0,666.5L1026.0,681.6L1014.0,697.9L1002.0,715.1L990.0,733.3L978.0,752.2L966.0,772.0L954.0,792.4L942.0,813.5L930.0,835.1L910.0,872.3L890.0,910.7L870.0,950.3L850.0,990.8L830.0,1032.2L810.0,1074.3" stroke="url(#bLfb)" stroke-opacity="0.06" stroke-width="1.4"/><path d="M1140.0,598.4L1143.0,598.5L1146.0,598.7L1149.0,599.0L1152.0,599.4L1155.0,600.0L1158.0,600.6L1161.0,601.5L1164.0,602.4L1167.0,603.4L1170.0,604.6L1176.0,607.3L1182.0,610.5L1188.0,614.1L1194.0,618.2L1200.0,622.7L1206.0,627.7L1212.0,633.1L1218.0,638.8L1224.0,645.0L1230.0,651.5L1242.0,665.7L1254.0,681.2L1266.0,697.9L1278.0,715.8L1290.0,734.7L1302.0,754.5L1314.0,775.3L1326.0,796.7L1338.0,819.0L1350.0,841.8L1370.0,881.2" stroke="url(#bRfb)" stroke-opacity="0.06" stroke-width="1.4"/><path d="M1140.0,605.4L1137.0,605.5L1134.0,605.7L1131.0,606.0L1128.0,606.5L1125.0,607.1L1122.0,607.8L1119.0,608.6L1116.0,609.6L1113.0,610.7L1110.0,611.9L1104.0,614.7L1098.0,618.0L1092.0,621.7L1086.0,625.8L1080.0,630.4L1074.0,635.3L1068.0,640.7L1062.0,646.4L1056.0,652.5L1050.0,658.9L1038.0,672.7L1026.0,687.6L1014.0,703.7L1002.0,720.8L990.0,738.8L978.0,757.6L966.0,777.2L954.0,797.4L942.0,818.3L930.0,839.8L910.0,876.8L890.0,915.0L870.0,954.4L850.0,994.7L830.0,1036.0L810.0,1077.9" stroke="url(#bLfr)" stroke-opacity="0.06" stroke-width="1.4"/><path d="M1140.0,605.4L1143.0,605.5L1146.0,605.6L1149.0,606.0L1152.0,606.4L1155.0,606.9L1158.0,607.6L1161.0,608.4L1164.0,609.3L1167.0,610.4L1170.0,611.5L1176.0,614.2L1182.0,617.3L1188.0,620.9L1194.0,624.9L1200.0,629.4L1206.0,634.3L1212.0,639.6L1218.0,645.3L1224.0,651.4L1230.0,657.9L1242.0,671.9L1254.0,687.2L1266.0,703.8L1278.0,721.5L1290.0,740.2L1302.0,759.9L1314.0,780.4L1326.0,801.8L1338.0,823.8L1350.0,846.5L1370.0,885.7" stroke="url(#bRfr)" stroke-opacity="0.06" stroke-width="1.4"/><path d="M1140.0,612.4L1137.0,612.5L1134.0,612.7L1131.0,613.0L1128.0,613.5L1125.0,614.0L1122.0,614.8L1119.0,615.6L1116.0,616.6L1113.0,617.6L1110.0,618.9L1104.0,621.6L1098.0,624.8L1092.0,628.5L1086.0,632.6L1080.0,637.1L1074.0,642.0L1068.0,647.2L1062.0,652.9L1056.0,658.9L1050.0,665.2L1038.0,678.8L1026.0,693.7L1014.0,709.6L1002.0,726.5L990.0,744.3L978.0,763.0L966.0,782.4L954.0,802.5L942.0,823.3L930.0,844.6L910.0,881.4L890.0,919.4L870.0,958.5L850.0,998.7L830.0,1039.7L810.0,1081.5" stroke="url(#bLfb)" stroke-opacity="0.06" stroke-width="1.4"/><path d="M1140.0,612.4L1143.0,612.5L1146.0,612.6L1149.0,612.9L1152.0,613.4L1155.0,613.9L1158.0,614.6L1161.0,615.4L1164.0,616.3L1167.0,617.3L1170.0,618.4L1176.0,621.1L1182.0,624.2L1188.0,627.7L1194.0,631.7L1200.0,636.1L1206.0,640.9L1212.0,646.2L1218.0,651.8L1224.0,657.8L1230.0,664.2L1242.0,678.1L1254.0,693.2L1266.0,709.6L1278.0,727.2L1290.0,745.7L1302.0,765.2L1314.0,785.6L1326.0,806.8L1338.0,828.7L1350.0,851.3L1370.0,890.2" stroke="url(#bRfb)" stroke-opacity="0.06" stroke-width="1.4"/><path d="M1140.0,619.4L1137.0,619.5L1134.0,619.7L1131.0,620.0L1128.0,620.4L1125.0,621.0L1122.0,621.7L1119.0,622.6L1116.0,623.5L1113.0,624.6L1110.0,625.8L1104.0,628.5L1098.0,631.7L1092.0,635.3L1086.0,639.3L1080.0,643.7L1074.0,648.6L1068.0,653.8L1062.0,659.4L1056.0,665.3L1050.0,671.6L1038.0,685.0L1026.0,699.7L1014.0,715.5L1002.0,732.2L990.0,749.9L978.0,768.4L966.0,787.7L954.0,807.6L942.0,828.2L930.0,849.4L910.0,885.9L890.0,923.8L870.0,962.7L850.0,1002.7L830.0,1043.6L810.0,1085.2" stroke="url(#bLfr)" stroke-opacity="0.06" stroke-width="1.4"/><path d="M1140.0,619.4L1143.0,619.5L1146.0,619.6L1149.0,619.9L1152.0,620.4L1155.0,620.9L1158.0,621.6L1161.0,622.3L1164.0,623.2L1167.0,624.2L1170.0,625.4L1176.0,628.0L1182.0,631.0L1188.0,634.5L1194.0,638.4L1200.0,642.8L1206.0,647.6L1212.0,652.7L1218.0,658.3L1224.0,664.3L1230.0,670.6L1242.0,684.3L1254.0,699.3L1266.0,715.5L1278.0,732.9L1290.0,751.3L1302.0,770.6L1314.0,790.9L1326.0,811.9L1338.0,833.6L1350.0,856.0L1370.0,894.7" stroke="url(#bRfr)" stroke-opacity="0.06" stroke-width="1.4"/><path d="M1140.0,626.4L1137.0,626.5L1134.0,626.7L1131.0,627.0L1128.0,627.4L1125.0,628.0L1122.0,628.7L1119.0,629.5L1116.0,630.5L1113.0,631.5L1110.0,632.7L1104.0,635.4L1098.0,638.5L1092.0,642.1L1086.0,646.0L1080.0,650.4L1074.0,655.2L1068.0,660.4L1062.0,665.9L1056.0,671.7L1050.0,677.9L1038.0,691.3L1026.0,705.8L1014.0,721.4L1002.0,738.0L990.0,755.5L978.0,773.8L966.0,792.9L954.0,812.8L942.0,833.2L930.0,854.3L910.0,890.6L890.0,928.2L870.0,966.9L850.0,1006.7L830.0,1047.4L810.0,1088.9" stroke="url(#bLfb)" stroke-opacity="0.06" stroke-width="1.4"/><path d="M1140.0,626.4L1143.0,626.5L1146.0,626.6L1149.0,626.9L1152.0,627.3L1155.0,627.9L1158.0,628.5L1161.0,629.3L1164.0,630.2L1167.0,631.2L1170.0,632.3L1176.0,634.8L1182.0,637.9L1188.0,641.3L1194.0,645.2L1200.0,649.5L1206.0,654.2L1212.0,659.3L1218.0,664.8L1224.0,670.7L1230.0,676.9L1242.0,690.5L1254.0,705.3L1266.0,721.4L1278.0,738.6L1290.0,756.9L1302.0,776.1L1314.0,796.1L1326.0,817.0L1338.0,838.6L1350.0,860.8L1370.0,899.3" stroke="url(#bRfb)" stroke-opacity="0.06" stroke-width="1.4"/><path d="M1140.0,633.4L1137.0,633.5L1134.0,633.7L1131.0,634.0L1128.0,634.4L1125.0,635.0L1122.0,635.7L1119.0,636.5L1116.0,637.4L1113.0,638.4L1110.0,639.6L1104.0,642.3L1098.0,645.3L1092.0,648.9L1086.0,652.8L1080.0,657.1L1074.0,661.8L1068.0,666.9L1062.0,672.4L1056.0,678.2L1050.0,684.3L1038.0,697.5L1026.0,711.9L1014.0,727.3L1002.0,743.7L990.0,761.1L978.0,779.3L966.0,798.3L954.0,817.9L942.0,838.3L930.0,859.2L910.0,895.2L890.0,932.6L870.0,971.2L850.0,1010.8L830.0,1051.3L810.0,1092.6" stroke="url(#bLfr)" stroke-opacity="0.06" stroke-width="1.4"/><path d="M1140.0,633.4L1143.0,633.5L1146.0,633.6L1149.0,633.9L1152.0,634.3L1155.0,634.9L1158.0,635.5L1161.0,636.3L1164.0,637.1L1167.0,638.1L1170.0,639.2L1176.0,641.7L1182.0,644.7L1188.0,648.1L1194.0,651.9L1200.0,656.2L1206.0,660.8L1212.0,665.9L1218.0,671.3L1224.0,677.2L1230.0,683.3L1242.0,696.7L1254.0,711.4L1266.0,727.3L1278.0,744.4L1290.0,762.5L1302.0,781.5L1314.0,801.4L1326.0,822.1L1338.0,843.6L1350.0,865.7L1370.0,903.9" stroke="url(#bRfr)" stroke-opacity="0.06" stroke-width="1.4"/><path d="M1140.0,640.4L1137.0,640.5L1134.0,640.7L1131.0,641.0L1128.0,641.4L1125.0,642.0L1122.0,642.6L1119.0,643.4L1116.0,644.3L1113.0,645.4L1110.0,646.5L1104.0,649.1L1098.0,652.2L1092.0,655.7L1086.0,659.5L1080.0,663.8L1074.0,668.5L1068.0,673.5L1062.0,678.9L1056.0,684.6L1050.0,690.7L1038.0,703.7L1026.0,718.0L1014.0,733.3L1002.0,749.5L990.0,766.8L978.0,784.8L966.0,803.6L954.0,823.1L942.0,843.3L930.0,864.1L910.0,899.9L890.0,937.1L870.0,975.5L850.0,1014.9L830.0,1055.2L810.0,1096.4" stroke="url(#bLfb)" stroke-opacity="0.05" stroke-width="1.4"/><path d="M1140.0,640.4L1143.0,640.5L1146.0,640.6L1149.0,640.9L1152.0,641.3L1155.0,641.8L1158.0,642.5L1161.0,643.2L1164.0,644.1L1167.0,645.0L1170.0,646.1L1176.0,648.6L1182.0,651.6L1188.0,654.9L1194.0,658.7L1200.0,662.9L1206.0,667.5L1212.0,672.5L1218.0,677.9L1224.0,683.6L1230.0,689.7L1242.0,703.0L1254.0,717.5L1266.0,733.3L1278.0,750.2L1290.0,768.1L1302.0,787.0L1314.0,806.7L1326.0,827.3L1338.0,848.6L1350.0,870.6L1370.0,908.5" stroke="url(#bRfb)" stroke-opacity="0.05" stroke-width="1.4"/><path d="M1140.0,647.4L1137.0,647.5L1134.0,647.6L1131.0,648.0L1128.0,648.4L1125.0,648.9L1122.0,649.6L1119.0,650.4L1116.0,651.3L1113.0,652.3L1110.0,653.4L1104.0,656.0L1098.0,659.0L1092.0,662.5L1086.0,666.3L1080.0,670.5L1074.0,675.1L1068.0,680.1L1062.0,685.4L1056.0,691.1L1050.0,697.1L1038.0,710.0L1026.0,724.1L1014.0,739.2L1002.0,755.4L990.0,772.4L978.0,790.3L966.0,809.0L954.0,828.4L942.0,848.4L930.0,869.0L910.0,904.7L890.0,941.6L870.0,979.8L850.0,1019.0L830.0,1059.2L810.0,1100.2" stroke="url(#bLfr)" stroke-opacity="0.05" stroke-width="1.4"/><path d="M1140.0,647.4L1143.0,647.5L1146.0,647.6L1149.0,647.9L1152.0,648.3L1155.0,648.8L1158.0,649.4L1161.0,650.2L1164.0,651.0L1167.0,652.0L1170.0,653.1L1176.0,655.5L1182.0,658.4L1188.0,661.7L1194.0,665.5L1200.0,669.6L1206.0,674.2L1212.0,679.1L1218.0,684.4L1224.0,690.1L1230.0,696.1L1242.0,709.3L1254.0,723.7L1266.0,739.3L1278.0,756.0L1290.0,773.8L1302.0,792.5L1314.0,812.1L1326.0,832.5L1338.0,853.6L1350.0,875.5L1370.0,913.2" stroke="url(#bRfr)" stroke-opacity="0.05" stroke-width="1.4"/><path d="M1140.0,654.4L1137.0,654.5L1134.0,654.6L1131.0,655.0L1128.0,655.4L1125.0,655.9L1122.0,656.6L1119.0,657.4L1116.0,658.2L1113.0,659.3L1110.0,660.4L1104.0,662.9L1098.0,665.9L1092.0,669.3L1086.0,673.1L1080.0,677.3L1074.0,681.8L1068.0,686.7L1062.0,692.0L1056.0,697.6L1050.0,703.5L1038.0,716.3L1026.0,730.2L1014.0,745.2L1002.0,761.2L990.0,778.1L978.0,795.9L966.0,814.4L954.0,833.6L942.0,853.5L930.0,874.0L910.0,909.4L890.0,946.2L870.0,984.2L850.0,1023.2L830.0,1063.2L810.0,1104.0" stroke="url(#bLfb)" stroke-opacity="0.05" stroke-width="1.4"/><path d="M1140.0,654.4L1143.0,654.5L1146.0,654.6L1149.0,654.9L1152.0,655.3L1155.0,655.8L1158.0,656.4L1161.0,657.1L1164.0,658.0L1167.0,658.9L1170.0,660.0L1176.0,662.4L1182.0,665.3L1188.0,668.6L1194.0,672.3L1200.0,676.4L1206.0,680.8L1212.0,685.7L1218.0,691.0L1224.0,696.6L1230.0,702.6L1242.0,715.5L1254.0,729.8L1266.0,745.3L1278.0,761.9L1290.0,779.5L1302.0,798.0L1314.0,817.5L1326.0,837.7L1338.0,858.7L1350.0,880.4L1370.0,917.9" stroke="url(#bRfb)" stroke-opacity="0.05" stroke-width="1.4"/><path d="M1140.0,661.4L1137.0,661.5L1134.0,661.6L1131.0,661.9L1128.0,662.4L1125.0,662.9L1122.0,663.6L1119.0,664.3L1116.0,665.2L1113.0,666.2L1110.0,667.3L1104.0,669.8L1098.0,672.8L1092.0,676.1L1086.0,679.8L1080.0,684.0L1074.0,688.5L1068.0,693.3L1062.0,698.5L1056.0,704.1L1050.0,709.9L1038.0,722.6L1026.0,736.4L1014.0,751.2L1002.0,767.1L990.0,783.9L978.0,801.5L966.0,819.8L954.0,838.9L942.0,858.7L930.0,879.0L910.0,914.2L890.0,950.8L870.0,988.5L850.0,1027.4L830.0,1067.2L810.0,1107.9" stroke="url(#bLfr)" stroke-opacity="0.05" stroke-width="1.4"/><path d="M1140.0,661.4L1143.0,661.5L1146.0,661.6L1149.0,661.9L1152.0,662.3L1155.0,662.8L1158.0,663.4L1161.0,664.1L1164.0,664.9L1167.0,665.9L1170.0,666.9L1176.0,669.3L1182.0,672.1L1188.0,675.4L1194.0,679.0L1200.0,683.1L1206.0,687.5L1212.0,692.4L1218.0,697.5L1224.0,703.1L1230.0,709.0L1242.0,721.9L1254.0,736.0L1266.0,751.3L1278.0,767.7L1290.0,785.2L1302.0,803.6L1314.0,822.9L1326.0,843.0L1338.0,863.8L1350.0,885.4L1370.0,922.7" stroke="url(#bRfr)" stroke-opacity="0.05" stroke-width="1.4"/><path d="M1140.0,668.4L1137.0,668.5L1134.0,668.6L1131.0,668.9L1128.0,669.4L1125.0,669.9L1122.0,670.5L1119.0,671.3L1116.0,672.2L1113.0,673.1L1110.0,674.2L1104.0,676.7L1098.0,679.6L1092.0,682.9L1086.0,686.6L1080.0,690.7L1074.0,695.2L1068.0,700.0L1062.0,705.1L1056.0,710.6L1050.0,716.4L1038.0,728.9L1026.0,742.6L1014.0,757.3L1002.0,773.0L990.0,789.6L978.0,807.1L966.0,825.3L954.0,844.2L942.0,863.9L930.0,884.1L910.0,919.0L890.0,955.4L870.0,993.0L850.0,1031.6L830.0,1071.3L810.0,1111.8" stroke="url(#bLfb)" stroke-opacity="0.05" stroke-width="1.4"/><path d="M1140.0,668.4L1143.0,668.5L1146.0,668.6L1149.0,668.9L1152.0,669.3L1155.0,669.8L1158.0,670.4L1161.0,671.1L1164.0,671.9L1167.0,672.8L1170.0,673.8L1176.0,676.2L1182.0,679.0L1188.0,682.2L1194.0,685.8L1200.0,689.8L1206.0,694.2L1212.0,699.0L1218.0,704.1L1224.0,709.6L1230.0,715.5L1242.0,728.2L1254.0,742.2L1266.0,757.3L1278.0,773.6L1290.0,790.9L1302.0,809.2L1314.0,828.3L1326.0,848.3L1338.0,869.0L1350.0,890.4L1370.0,927.4" stroke="url(#bRfb)" stroke-opacity="0.05" stroke-width="1.4"/><path d="M1140.0,675.4L1137.0,675.5L1134.0,675.6L1131.0,675.9L1128.0,676.3L1125.0,676.9L1122.0,677.5L1119.0,678.2L1116.0,679.1L1113.0,680.1L1110.0,681.1L1104.0,683.6L1098.0,686.5L1092.0,689.8L1086.0,693.4L1080.0,697.4L1074.0,701.8L1068.0,706.6L1062.0,711.7L1056.0,717.1L1050.0,722.8L1038.0,735.2L1026.0,748.8L1014.0,763.3L1002.0,778.9L990.0,795.4L978.0,812.7L966.0,830.8L954.0,849.6L942.0,869.1L930.0,889.2L910.0,923.9L890.0,960.0L870.0,997.4L850.0,1035.9L830.0,1075.4L810.0,1115.7" stroke="url(#bLfr)" stroke-opacity="0.05" stroke-width="1.4"/><path d="M1140.0,675.4L1143.0,675.5L1146.0,675.6L1149.0,675.9L1152.0,676.3L1155.0,676.8L1158.0,677.3L1161.0,678.0L1164.0,678.9L1167.0,679.8L1170.0,680.8L1176.0,683.1L1182.0,685.9L1188.0,689.1L1194.0,692.6L1200.0,696.6L1206.0,700.9L1212.0,705.6L1218.0,710.7L1224.0,716.2L1230.0,721.9L1242.0,734.5L1254.0,748.4L1266.0,763.4L1278.0,779.5L1290.0,796.7L1302.0,814.8L1314.0,833.8L1326.0,853.6L1338.0,874.2L1350.0,895.4L1370.0,932.3" stroke="url(#bRfr)" stroke-opacity="0.05" stroke-width="1.4"/><path d="M1140.0,682.4L1137.0,682.5L1134.0,682.6L1131.0,682.9L1128.0,683.3L1125.0,683.8L1122.0,684.5L1119.0,685.2L1116.0,686.1L1113.0,687.0L1110.0,688.1L1104.0,690.5L1098.0,693.3L1092.0,696.6L1086.0,700.2L1080.0,704.2L1074.0,708.5L1068.0,713.2L1062.0,718.3L1056.0,723.6L1050.0,729.3L1038.0,741.6L1026.0,755.0L1014.0,769.4L1002.0,784.8L990.0,801.2L978.0,818.3L966.0,836.3L954.0,855.0L942.0,874.3L930.0,894.3L910.0,928.8L890.0,964.7L870.0,1001.9L850.0,1040.2L830.0,1079.5L810.0,1119.7" stroke="url(#bLfb)" stroke-opacity="0.04" stroke-width="1.4"/><path d="M1140.0,682.4L1143.0,682.5L1146.0,682.6L1149.0,682.9L1152.0,683.3L1155.0,683.7L1158.0,684.3L1161.0,685.0L1164.0,685.8L1167.0,686.7L1170.0,687.7L1176.0,690.0L1182.0,692.8L1188.0,695.9L1194.0,699.4L1200.0,703.3L1206.0,707.6L1212.0,712.3L1218.0,717.3L1224.0,722.7L1230.0,728.4L1242.0,740.9L1254.0,754.6L1266.0,769.5L1278.0,785.4L1290.0,802.5L1302.0,820.4L1314.0,839.3L1326.0,859.0L1338.0,879.4L1350.0,900.5L1370.0,937.1" stroke="url(#bRfb)" stroke-opacity="0.04" stroke-width="1.4"/><path d="M1140.0,689.4L1137.0,689.5L1134.0,689.6L1131.0,689.9L1128.0,690.3L1125.0,690.8L1122.0,691.5L1119.0,692.2L1116.0,693.0L1113.0,694.0L1110.0,695.0L1104.0,697.4L1098.0,700.2L1092.0,703.4L1086.0,707.0L1080.0,710.9L1074.0,715.2L1068.0,719.9L1062.0,724.9L1056.0,730.2L1050.0,735.8L1038.0,747.9L1026.0,761.2L1014.0,775.5L1002.0,790.8L990.0,807.0L978.0,824.0L966.0,841.8L954.0,860.4L942.0,879.6L930.0,899.4L910.0,933.7L890.0,969.4L870.0,1006.4L850.0,1044.5L830.0,1083.7L810.0,1123.7" stroke="url(#bLfr)" stroke-opacity="0.04" stroke-width="1.4"/><path d="M1140.0,689.4L1143.0,689.5L1146.0,689.6L1149.0,689.9L1152.0,690.2L1155.0,690.7L1158.0,691.3L1161.0,692.0L1164.0,692.8L1167.0,693.7L1170.0,694.7L1176.0,696.9L1182.0,699.6L1188.0,702.7L1194.0,706.2L1200.0,710.1L1206.0,714.3L1212.0,718.9L1218.0,723.9L1224.0,729.2L1230.0,734.9L1242.0,747.2L1254.0,760.8L1266.0,775.5L1278.0,791.4L1290.0,808.3L1302.0,826.1L1314.0,844.8L1326.0,864.3L1338.0,884.6L1350.0,905.6L1370.0,942.0" stroke="url(#bRfr)" stroke-opacity="0.04" stroke-width="1.4"/><path d="M1140.0,696.4L1137.0,696.5L1134.0,696.6L1131.0,696.9L1128.0,697.3L1125.0,697.8L1122.0,698.4L1119.0,699.1L1116.0,700.0L1113.0,700.9L1110.0,701.9L1104.0,704.3L1098.0,707.1L1092.0,710.3L1086.0,713.8L1080.0,717.7L1074.0,721.9L1068.0,726.5L1062.0,731.5L1056.0,736.7L1050.0,742.3L1038.0,754.3L1026.0,767.4L1014.0,781.6L1002.0,796.8L990.0,812.8L978.0,829.7L966.0,847.4L954.0,865.8L942.0,884.9L930.0,904.6L910.0,938.7L890.0,974.2L870.0,1011.0L850.0,1048.9L830.0,1087.9L810.0,1127.7" stroke="url(#bLfb)" stroke-opacity="0.04" stroke-width="1.4"/><path d="M1140.0,696.4L1143.0,696.5L1146.0,696.6L1149.0,696.9L1152.0,697.2L1155.0,697.7L1158.0,698.3L1161.0,699.0L1164.0,699.7L1167.0,700.6L1170.0,701.6L1176.0,703.9L1182.0,706.5L1188.0,709.6L1194.0,713.0L1200.0,716.8L1206.0,721.0L1212.0,725.6L1218.0,730.5L1224.0,735.8L1230.0,741.4L1242.0,753.6L1254.0,767.0L1266.0,781.7L1278.0,797.4L1290.0,814.1L1302.0,831.8L1314.0,850.3L1326.0,869.7L1338.0,889.9L1350.0,910.7L1370.0,946.9" stroke="url(#bRfb)" stroke-opacity="0.04" stroke-width="1.4"/><path d="M1140.0,703.4L1137.0,703.5L1134.0,703.6L1131.0,703.9L1128.0,704.3L1125.0,704.8L1122.0,705.4L1119.0,706.1L1116.0,706.9L1113.0,707.9L1110.0,708.9L1104.0,711.2L1098.0,714.0L1092.0,717.1L1086.0,720.6L1080.0,724.4L1074.0,728.7L1068.0,733.2L1062.0,738.1L1056.0,743.3L1050.0,748.8L1038.0,760.7L1026.0,773.7L1014.0,787.7L1002.0,802.8L990.0,818.7L978.0,835.4L966.0,853.0L954.0,871.2L942.0,890.2L930.0,909.8L910.0,943.6L890.0,979.0L870.0,1015.6L850.0,1053.3L830.0,1092.1L810.0,1131.8" stroke="url(#bLfr)" stroke-opacity="0.04" stroke-width="1.4"/><path d="M1140.0,703.4L1143.0,703.5L1146.0,703.6L1149.0,703.9L1152.0,704.2L1155.0,704.7L1158.0,705.3L1161.0,705.9L1164.0,706.7L1167.0,707.6L1170.0,708.5L1176.0,710.8L1182.0,713.4L1188.0,716.4L1194.0,719.8L1200.0,723.6L1206.0,727.8L1212.0,732.3L1218.0,737.2L1224.0,742.4L1230.0,747.9L1242.0,760.0L1254.0,773.3L1266.0,787.8L1278.0,803.3L1290.0,819.9L1302.0,837.5L1314.0,855.9L1326.0,875.2L1338.0,895.2L1350.0,915.9L1370.0,951.8" stroke="url(#bRfr)" stroke-opacity="0.04" stroke-width="1.4"/><path d="M1140.0,712.4L1137.0,712.5L1134.0,712.6L1131.0,712.9L1128.0,713.3L1125.0,713.8L1122.0,714.4L1119.0,715.1L1116.0,715.9L1113.0,716.8L1110.0,717.8L1104.0,720.1L1098.0,722.8L1092.0,725.9L1086.0,729.3L1080.0,733.1L1074.0,737.3L1068.0,741.8L1062.0,746.6L1056.0,751.7L1050.0,757.2L1038.0,768.9L1026.0,781.7L1014.0,795.6L1002.0,810.5L990.0,826.2L978.0,842.8L966.0,860.2L954.0,878.3L942.0,897.1L930.0,916.5L910.0,950.1L890.0,985.2L870.0,1021.5L850.0,1059.0L830.0,1097.6L810.0,1137.0" stroke="url(#bLgr)" stroke-opacity="0.04" stroke-width="1.4"/><path d="M1140.0,712.4L1143.0,712.5L1146.0,712.6L1149.0,712.9L1152.0,713.2L1155.0,713.7L1158.0,714.2L1161.0,714.9L1164.0,715.6L1167.0,716.5L1170.0,717.5L1176.0,719.7L1182.0,722.3L1188.0,725.2L1194.0,728.6L1200.0,732.3L1206.0,736.4L1212.0,740.9L1218.0,745.7L1224.0,750.8L1230.0,756.3L1242.0,768.2L1254.0,781.4L1266.0,795.7L1278.0,811.1L1290.0,827.5L1302.0,844.9L1314.0,863.1L1326.0,882.2L1338.0,902.0L1350.0,922.5L1370.0,958.2" stroke="url(#bRgr)" stroke-opacity="0.04" stroke-width="1.4"/><path d="M1140.0,721.4L1137.0,721.5L1134.0,721.6L1131.0,721.9L1128.0,722.3L1125.0,722.8L1122.0,723.3L1119.0,724.0L1116.0,724.8L1113.0,725.7L1110.0,726.7L1104.0,729.0L1098.0,731.7L1092.0,734.7L1086.0,738.1L1080.0,741.9L1074.0,745.9L1068.0,750.4L1062.0,755.1L1056.0,760.2L1050.0,765.5L1038.0,777.1L1026.0,789.8L1014.0,803.6L1002.0,818.3L990.0,833.8L978.0,850.3L966.0,867.5L954.0,885.4L942.0,904.0L930.0,923.2L910.0,956.6L890.0,991.4L870.0,1027.5L850.0,1064.8L830.0,1103.1L810.0,1142.3" stroke="url(#bLgb)" stroke-opacity="0.04" stroke-width="1.4"/><path d="M1140.0,721.4L1143.0,721.5L1146.0,721.6L1149.0,721.9L1152.0,722.2L1155.0,722.7L1158.0,723.2L1161.0,723.8L1164.0,724.6L1167.0,725.4L1170.0,726.4L1176.0,728.6L1182.0,731.1L1188.0,734.1L1194.0,737.4L1200.0,741.0L1206.0,745.1L1212.0,749.5L1218.0,754.2L1224.0,759.3L1230.0,764.7L1242.0,776.5L1254.0,789.5L1266.0,803.6L1278.0,818.8L1290.0,835.1L1302.0,852.3L1314.0,870.3L1326.0,889.2L1338.0,908.9L1350.0,929.2L1370.0,964.6" stroke="url(#bRgb)" stroke-opacity="0.04" stroke-width="1.4"/><path d="M1140.0,730.4L1137.0,730.5L1134.0,730.6L1131.0,730.9L1128.0,731.3L1125.0,731.7L1122.0,732.3L1119.0,733.0L1116.0,733.8L1113.0,734.7L1110.0,735.6L1104.0,737.9L1098.0,740.5L1092.0,743.5L1086.0,746.9L1080.0,750.6L1074.0,754.6L1068.0,759.0L1062.0,763.7L1056.0,768.7L1050.0,774.0L1038.0,785.4L1026.0,797.9L1014.0,811.5L1002.0,826.0L990.0,841.5L978.0,857.7L966.0,874.8L954.0,892.5L942.0,911.0L930.0,930.0L910.0,963.1L890.0,997.7L870.0,1033.5L850.0,1070.6L830.0,1108.7L810.0,1147.7" stroke="url(#bLgr)" stroke-opacity="0.04" stroke-width="1.4"/><path d="M1140.0,730.4L1143.0,730.4L1146.0,730.6L1149.0,730.8L1152.0,731.2L1155.0,731.6L1158.0,732.2L1161.0,732.8L1164.0,733.5L1167.0,734.4L1170.0,735.3L1176.0,737.5L1182.0,740.0L1188.0,742.9L1194.0,746.1L1200.0,749.8L1206.0,753.8L1212.0,758.1L1218.0,762.8L1224.0,767.8L1230.0,773.1L1242.0,784.7L1254.0,797.6L1266.0,811.6L1278.0,826.6L1290.0,842.7L1302.0,859.7L1314.0,877.6L1326.0,896.3L1338.0,915.8L1350.0,936.0L1370.0,971.1" stroke="url(#bRgr)" stroke-opacity="0.04" stroke-width="1.4"/><path d="M1140.0,739.4L1137.0,739.5L1134.0,739.6L1131.0,739.9L1128.0,740.2L1125.0,740.7L1122.0,741.3L1119.0,742.0L1116.0,742.7L1113.0,743.6L1110.0,744.6L1104.0,746.8L1098.0,749.4L1092.0,752.3L1086.0,755.6L1080.0,759.3L1074.0,763.3L1068.0,767.6L1062.0,772.2L1056.0,777.1L1050.0,782.4L1038.0,793.7L1026.0,806.1L1014.0,819.5L1002.0,833.9L990.0,849.1L978.0,865.2L966.0,882.1L954.0,899.7L942.0,918.0L930.0,936.9L910.0,969.7L890.0,1004.0L870.0,1039.6L850.0,1076.4L830.0,1114.3L810.0,1153.1" stroke="url(#bLgb)" stroke-opacity="0.04" stroke-width="1.4"/><path d="M1140.0,739.4L1143.0,739.4L1146.0,739.6L1149.0,739.8L1152.0,740.2L1155.0,740.6L1158.0,741.1L1161.0,741.8L1164.0,742.5L1167.0,743.3L1170.0,744.2L1176.0,746.4L1182.0,748.8L1188.0,751.7L1194.0,754.9L1200.0,758.5L1206.0,762.4L1212.0,766.7L1218.0,771.3L1224.0,776.3L1230.0,781.5L1242.0,793.0L1254.0,805.7L1266.0,819.5L1278.0,834.4L1290.0,850.3L1302.0,867.2L1314.0,884.9L1326.0,903.4L1338.0,922.8L1350.0,942.8L1370.0,977.6" stroke="url(#bRgb)" stroke-opacity="0.04" stroke-width="1.4"/><path d="M1140.0,748.4L1137.0,748.5L1134.0,748.6L1131.0,748.9L1128.0,749.2L1125.0,749.7L1122.0,750.3L1119.0,750.9L1116.0,751.7L1113.0,752.5L1110.0,753.5L1104.0,755.7L1098.0,758.2L1092.0,761.2L1086.0,764.4L1080.0,768.0L1074.0,772.0L1068.0,776.2L1062.0,780.8L1056.0,785.6L1050.0,790.8L1038.0,802.0L1026.0,814.2L1014.0,827.5L1002.0,841.7L990.0,856.8L978.0,872.7L966.0,889.4L954.0,906.9L942.0,925.0L930.0,943.8L910.0,976.3L890.0,1010.4L870.0,1045.8L850.0,1082.3L830.0,1120.0L810.0,1158.6" stroke="url(#bLgr)" stroke-opacity="0.04" stroke-width="1.4"/><path d="M1140.0,748.4L1143.0,748.4L1146.0,748.6L1149.0,748.8L1152.0,749.2L1155.0,749.6L1158.0,750.1L1161.0,750.7L1164.0,751.5L1167.0,752.3L1170.0,753.2L1176.0,755.3L1182.0,757.7L1188.0,760.5L1194.0,763.7L1200.0,767.2L1206.0,771.1L1212.0,775.3L1218.0,779.9L1224.0,784.8L1230.0,790.0L1242.0,801.3L1254.0,813.9L1266.0,827.5L1278.0,842.3L1290.0,858.0L1302.0,874.7L1314.0,892.2L1326.0,910.6L1338.0,929.8L1350.0,949.6L1370.0,984.2" stroke="url(#bRgr)" stroke-opacity="0.04" stroke-width="1.4"/><path d="M1140.0,757.4L1137.0,757.5L1134.0,757.6L1131.0,757.9L1128.0,758.2L1125.0,758.7L1122.0,759.2L1119.0,759.9L1116.0,760.6L1113.0,761.5L1110.0,762.4L1104.0,764.6L1098.0,767.1L1092.0,770.0L1086.0,773.2L1080.0,776.8L1074.0,780.6L1068.0,784.8L1062.0,789.3L1056.0,794.2L1050.0,799.3L1038.0,810.3L1026.0,822.4L1014.0,835.5L1002.0,849.6L990.0,864.5L978.0,880.3L966.0,896.8L954.0,914.1L942.0,932.1L930.0,950.7L910.0,983.0L890.0,1016.8L870.0,1051.9L850.0,1088.3L830.0,1125.7L810.0,1164.1" stroke="url(#bLgb)" stroke-opacity="0.04" stroke-width="1.4"/><path d="M1140.0,757.4L1143.0,757.4L1146.0,757.6L1149.0,757.8L1152.0,758.2L1155.0,758.6L1158.0,759.1L1161.0,759.7L1164.0,760.4L1167.0,761.2L1170.0,762.1L1176.0,764.2L1182.0,766.6L1188.0,769.4L1194.0,772.5L1200.0,776.0L1206.0,779.8L1212.0,784.0L1218.0,788.5L1224.0,793.3L1230.0,798.5L1242.0,809.7L1254.0,822.1L1266.0,835.6L1278.0,850.1L1290.0,865.7L1302.0,882.2L1314.0,899.6L1326.0,917.8L1338.0,936.8L1350.0,956.5L1370.0,990.8" stroke="url(#bRgb)" stroke-opacity="0.04" stroke-width="1.4"/><path d="M1140.0,766.4L1137.0,766.5L1134.0,766.6L1131.0,766.9L1128.0,767.2L1125.0,767.7L1122.0,768.2L1119.0,768.9L1116.0,769.6L1113.0,770.4L1110.0,771.4L1104.0,773.5L1098.0,776.0L1092.0,778.8L1086.0,782.0L1080.0,785.5L1074.0,789.3L1068.0,793.5L1062.0,797.9L1056.0,802.7L1050.0,807.7L1038.0,818.6L1026.0,830.6L1014.0,843.6L1002.0,857.5L990.0,872.3L978.0,887.9L966.0,904.3L954.0,921.4L942.0,939.2L930.0,957.6L910.0,989.7L890.0,1023.2L870.0,1058.2L850.0,1094.3L830.0,1131.5L810.0,1169.7" stroke="url(#bLgr)" stroke-opacity="0.04" stroke-width="1.4"/><path d="M1140.0,766.4L1143.0,766.4L1146.0,766.6L1149.0,766.8L1152.0,767.1L1155.0,767.6L1158.0,768.1L1161.0,768.7L1164.0,769.4L1167.0,770.2L1170.0,771.0L1176.0,773.1L1182.0,775.5L1188.0,778.2L1194.0,781.3L1200.0,784.7L1206.0,788.5L1212.0,792.6L1218.0,797.1L1224.0,801.8L1230.0,806.9L1242.0,818.0L1254.0,830.2L1266.0,843.6L1278.0,858.0L1290.0,873.4L1302.0,889.8L1314.0,907.0L1326.0,925.1L1338.0,943.9L1350.0,963.4L1370.0,997.4" stroke="url(#bRgr)" stroke-opacity="0.04" stroke-width="1.4"/><path d="M1140.0,775.4L1137.0,775.5L1134.0,775.6L1131.0,775.9L1128.0,776.2L1125.0,776.6L1122.0,777.2L1119.0,777.8L1116.0,778.6L1113.0,779.4L1110.0,780.3L1104.0,782.4L1098.0,784.9L1092.0,787.7L1086.0,790.8L1080.0,794.3L1074.0,798.0L1068.0,802.1L1062.0,806.5L1056.0,811.2L1050.0,816.2L1038.0,827.0L1026.0,838.8L1014.0,851.6L1002.0,865.4L990.0,880.0L978.0,895.5L966.0,911.7L954.0,928.7L942.0,946.3L930.0,964.6L910.0,996.4L890.0,1029.7L870.0,1064.4L850.0,1100.3L830.0,1137.3L810.0,1175.3" stroke="url(#bLgb)" stroke-opacity="0.04" stroke-width="1.4"/><path d="M1140.0,775.4L1143.0,775.4L1146.0,775.6L1149.0,775.8L1152.0,776.1L1155.0,776.5L1158.0,777.1L1161.0,777.7L1164.0,778.3L1167.0,779.1L1170.0,780.0L1176.0,782.0L1182.0,784.3L1188.0,787.1L1194.0,790.1L1200.0,793.5L1206.0,797.2L1212.0,801.3L1218.0,805.7L1224.0,810.4L1230.0,815.4L1242.0,826.4L1254.0,838.5L1266.0,851.7L1278.0,865.9L1290.0,881.2L1302.0,897.4L1314.0,914.4L1326.0,932.3L1338.0,951.0L1350.0,970.4L1370.0,1004.1" stroke="url(#bRgb)" stroke-opacity="0.04" stroke-width="1.4"/><path d="M1140.0,784.4L1137.0,784.4L1134.0,784.6L1131.0,784.8L1128.0,785.2L1125.0,785.6L1122.0,786.2L1119.0,786.8L1116.0,787.5L1113.0,788.3L1110.0,789.2L1104.0,791.3L1098.0,793.7L1092.0,796.5L1086.0,799.6L1080.0,803.0L1074.0,806.7L1068.0,810.8L1062.0,815.1L1056.0,819.8L1050.0,824.7L1038.0,835.3L1026.0,847.0L1014.0,859.7L1002.0,873.3L990.0,887.8L978.0,903.1L966.0,919.2L954.0,936.0L942.0,953.5L930.0,971.7L910.0,1003.2L890.0,1036.3L870.0,1070.7L850.0,1106.4L830.0,1143.2L810.0,1181.0" stroke="url(#bLgr)" stroke-opacity="0.03" stroke-width="1.4"/><path d="M1140.0,784.4L1143.0,784.4L1146.0,784.6L1149.0,784.8L1152.0,785.1L1155.0,785.5L1158.0,786.0L1161.0,786.6L1164.0,787.3L1167.0,788.1L1170.0,788.9L1176.0,790.9L1182.0,793.2L1188.0,795.9L1194.0,798.9L1200.0,802.3L1206.0,806.0L1212.0,810.0L1218.0,814.3L1224.0,819.0L1230.0,823.9L1242.0,834.7L1254.0,846.7L1266.0,859.8L1278.0,873.9L1290.0,889.0L1302.0,905.0L1314.0,921.9L1326.0,939.6L1338.0,958.1L1350.0,977.3L1370.0,1010.8" stroke="url(#bRgr)" stroke-opacity="0.03" stroke-width="1.4"/><path d="M1140.0,793.4L1137.0,793.4L1134.0,793.6L1131.0,793.8L1128.0,794.2L1125.0,794.6L1122.0,795.1L1119.0,795.8L1116.0,796.5L1113.0,797.3L1110.0,798.2L1104.0,800.2L1098.0,802.6L1092.0,805.3L1086.0,808.4L1080.0,811.8L1074.0,815.5L1068.0,819.5L1062.0,823.7L1056.0,828.3L1050.0,833.2L1038.0,843.7L1026.0,855.3L1014.0,867.8L1002.0,881.3L990.0,895.7L978.0,910.8L966.0,926.8L954.0,943.4L942.0,960.8L930.0,978.7L910.0,1010.1L890.0,1042.9L870.0,1077.1L850.0,1112.5L830.0,1149.1L810.0,1186.7" stroke="url(#bLgb)" stroke-opacity="0.03" stroke-width="1.4"/><path d="M1140.0,793.4L1143.0,793.4L1146.0,793.6L1149.0,793.8L1152.0,794.1L1155.0,794.5L1158.0,795.0L1161.0,795.6L1164.0,796.3L1167.0,797.0L1170.0,797.9L1176.0,799.8L1182.0,802.1L1188.0,804.8L1194.0,807.7L1200.0,811.0L1206.0,814.7L1212.0,818.6L1218.0,822.9L1224.0,827.5L1230.0,832.4L1242.0,843.1L1254.0,855.0L1266.0,867.9L1278.0,881.8L1290.0,896.8L1302.0,912.7L1314.0,929.4L1326.0,947.0L1338.0,965.3L1350.0,984.4L1370.0,1017.6" stroke="url(#bRgb)" stroke-opacity="0.03" stroke-width="1.4"/><path d="M1140.0,802.4L1137.0,802.4L1134.0,802.6L1131.0,802.8L1128.0,803.2L1125.0,803.6L1122.0,804.1L1119.0,804.7L1116.0,805.4L1113.0,806.2L1110.0,807.1L1104.0,809.1L1098.0,811.5L1092.0,814.2L1086.0,817.2L1080.0,820.5L1074.0,824.2L1068.0,828.1L1062.0,832.4L1056.0,836.9L1050.0,841.7L1038.0,852.1L1026.0,863.6L1014.0,876.0L1002.0,889.3L990.0,903.5L978.0,918.5L966.0,934.3L954.0,950.8L942.0,968.0L930.0,985.9L910.0,1016.9L890.0,1049.5L870.0,1083.5L850.0,1118.7L830.0,1155.0" stroke="url(#bLgr)" stroke-opacity="0.03" stroke-width="1.4"/><path d="M1140.0,802.4L1143.0,802.4L1146.0,802.6L1149.0,802.8L1152.0,803.1L1155.0,803.5L1158.0,804.0L1161.0,804.6L1164.0,805.2L1167.0,806.0L1170.0,806.8L1176.0,808.7L1182.0,811.0L1188.0,813.6L1194.0,816.5L1200.0,819.8L1206.0,823.4L1212.0,827.3L1218.0,831.6L1224.0,836.1L1230.0,840.9L1242.0,851.5L1254.0,863.2L1266.0,876.0L1278.0,889.8L1290.0,904.6L1302.0,920.4L1314.0,936.9L1326.0,954.4L1338.0,972.5L1350.0,991.4L1370.0,1024.4" stroke="url(#bRgr)" stroke-opacity="0.03" stroke-width="1.4"/><path d="M1140.0,811.4L1137.0,811.4L1134.0,811.6L1131.0,811.8L1128.0,812.2L1125.0,812.6L1122.0,813.1L1119.0,813.7L1116.0,814.4L1113.0,815.2L1110.0,816.0L1104.0,818.0L1098.0,820.4L1092.0,823.0L1086.0,826.0L1080.0,829.3L1074.0,832.9L1068.0,836.8L1062.0,841.0L1056.0,845.5L1050.0,850.2L1038.0,860.5L1026.0,871.8L1014.0,884.1L1002.0,897.3L990.0,911.4L978.0,926.2L966.0,941.9L954.0,958.3L942.0,975.3L930.0,993.0L910.0,1023.8L890.0,1056.2L870.0,1089.9L850.0,1124.9L830.0,1161.0" stroke="url(#bLgb)" stroke-opacity="0.03" stroke-width="1.4"/><path d="M1140.0,811.4L1143.0,811.4L1146.0,811.6L1149.0,811.8L1152.0,812.1L1155.0,812.5L1158.0,813.0L1161.0,813.5L1164.0,814.2L1167.0,814.9L1170.0,815.7L1176.0,817.7L1182.0,819.9L1188.0,822.5L1194.0,825.4L1200.0,828.6L1206.0,832.2L1212.0,836.0L1218.0,840.2L1224.0,844.7L1230.0,849.5L1242.0,859.9L1254.0,871.5L1266.0,884.2L1278.0,897.8L1290.0,912.5L1302.0,928.1L1314.0,944.5L1326.0,961.8L1338.0,979.8L1350.0,998.5L1370.0,1031.3" stroke="url(#bRgb)" stroke-opacity="0.03" stroke-width="1.4"/><path d="M1140.0,820.4L1137.0,820.4L1134.0,820.6L1131.0,820.8L1128.0,821.2L1125.0,821.6L1122.0,822.1L1119.0,822.7L1116.0,823.4L1113.0,824.1L1110.0,825.0L1104.0,827.0L1098.0,829.3L1092.0,831.9L1086.0,834.8L1080.0,838.1L1074.0,841.7L1068.0,845.5L1062.0,849.6L1056.0,854.1L1050.0,858.8L1038.0,868.9L1026.0,880.1L1014.0,892.3L1002.0,905.4L990.0,919.3L978.0,934.0L966.0,949.5L954.0,965.7L942.0,982.6L930.0,1000.2L910.0,1030.8L890.0,1062.9L870.0,1096.4L850.0,1131.2L830.0,1167.1" stroke="url(#bLgr)" stroke-opacity="0.03" stroke-width="1.4"/><path d="M1140.0,820.4L1143.0,820.4L1146.0,820.6L1149.0,820.8L1152.0,821.1L1155.0,821.5L1158.0,822.0L1161.0,822.5L1164.0,823.2L1167.0,823.9L1170.0,824.7L1176.0,826.6L1182.0,828.8L1188.0,831.3L1194.0,834.2L1200.0,837.4L1206.0,840.9L1212.0,844.7L1218.0,848.9L1224.0,853.3L1230.0,858.0L1242.0,868.4L1254.0,879.8L1266.0,892.3L1278.0,905.9L1290.0,920.4L1302.0,935.8L1314.0,952.1L1326.0,969.2L1338.0,987.1L1350.0,1005.7L1370.0,1038.1" stroke="url(#bRgr)" stroke-opacity="0.03" stroke-width="1.4"/><path d="M1140.0,829.4L1137.0,829.4L1134.0,829.6L1131.0,829.8L1128.0,830.1L1125.0,830.6L1122.0,831.1L1119.0,831.6L1116.0,832.3L1113.0,833.1L1110.0,833.9L1104.0,835.9L1098.0,838.2L1092.0,840.8L1086.0,843.7L1080.0,846.9L1074.0,850.4L1068.0,854.2L1062.0,858.3L1056.0,862.7L1050.0,867.3L1038.0,877.4L1026.0,888.5L1014.0,900.5L1002.0,913.4L990.0,927.2L978.0,941.8L966.0,957.1L954.0,973.2L942.0,990.0L930.0,1007.4L910.0,1037.7L890.0,1069.6L870.0,1102.9L850.0,1137.4L830.0,1173.2" stroke="url(#bLgb)" stroke-opacity="0.03" stroke-width="1.4"/><path d="M1140.0,829.4L1143.0,829.4L1146.0,829.6L1149.0,829.8L1152.0,830.1L1155.0,830.5L1158.0,830.9L1161.0,831.5L1164.0,832.1L1167.0,832.8L1170.0,833.6L1176.0,835.5L1182.0,837.7L1188.0,840.2L1194.0,843.0L1200.0,846.2L1206.0,849.7L1212.0,853.4L1218.0,857.5L1224.0,861.9L1230.0,866.6L1242.0,876.8L1254.0,888.1L1266.0,900.5L1278.0,913.9L1290.0,928.3L1302.0,943.6L1314.0,959.7L1326.0,976.7L1338.0,994.4L1350.0,1012.8L1370.0,1045.1" stroke="url(#bRgb)" stroke-opacity="0.03" stroke-width="1.4"/><path d="M1140.0,838.4L1137.0,838.4L1134.0,838.6L1131.0,838.8L1128.0,839.1L1125.0,839.5L1122.0,840.0L1119.0,840.6L1116.0,841.3L1113.0,842.0L1110.0,842.9L1104.0,844.8L1098.0,847.0L1092.0,849.6L1086.0,852.5L1080.0,855.7L1074.0,859.1L1068.0,862.9L1062.0,867.0L1056.0,871.3L1050.0,875.9L1038.0,885.8L1026.0,896.8L1014.0,908.7L1002.0,921.5L990.0,935.1L978.0,949.6L966.0,964.8L954.0,980.7L942.0,997.4L930.0,1014.6L910.0,1044.7L890.0,1076.4L870.0,1109.4L850.0,1143.8L830.0,1179.3" stroke="url(#bLgr)" stroke-opacity="0.03" stroke-width="1.4"/><path d="M1140.0,838.4L1143.0,838.4L1146.0,838.6L1149.0,838.8L1152.0,839.1L1155.0,839.5L1158.0,839.9L1161.0,840.5L1164.0,841.1L1167.0,841.8L1170.0,842.6L1176.0,844.4L1182.0,846.6L1188.0,849.1L1194.0,851.9L1200.0,855.0L1206.0,858.4L1212.0,862.1L1218.0,866.2L1224.0,870.5L1230.0,875.1L1242.0,885.3L1254.0,896.5L1266.0,908.7L1278.0,922.0L1290.0,936.2L1302.0,951.3L1314.0,967.3L1326.0,984.1L1338.0,1001.7L1350.0,1020.0L1370.0,1052.0" stroke="url(#bRgr)" stroke-opacity="0.03" stroke-width="1.4"/><path d="M1140.0,847.4L1137.0,847.4L1134.0,847.6L1131.0,847.8L1128.0,848.1L1125.0,848.5L1122.0,849.0L1119.0,849.6L1116.0,850.3L1113.0,851.0L1110.0,851.8L1104.0,853.7L1098.0,855.9L1092.0,858.5L1086.0,861.3L1080.0,864.5L1074.0,867.9L1068.0,871.6L1062.0,875.6L1056.0,879.9L1050.0,884.4L1038.0,894.3L1026.0,905.1L1014.0,916.9L1002.0,929.6L990.0,943.1L978.0,957.4L966.0,972.5L954.0,988.3L942.0,1004.8L930.0,1021.9L910.0,1051.8L890.0,1083.2L870.0,1116.0L850.0,1150.2L830.0,1185.4" stroke="url(#bLgb)" stroke-opacity="0.03" stroke-width="1.4"/><path d="M1140.0,847.4L1143.0,847.4L1146.0,847.6L1149.0,847.8L1152.0,848.1L1155.0,848.4L1158.0,848.9L1161.0,849.4L1164.0,850.1L1167.0,850.8L1170.0,851.5L1176.0,853.4L1182.0,855.5L1188.0,857.9L1194.0,860.7L1200.0,863.8L1206.0,867.2L1212.0,870.9L1218.0,874.9L1224.0,879.1L1230.0,883.7L1242.0,893.7L1254.0,904.8L1266.0,916.9L1278.0,930.1L1290.0,944.2L1302.0,959.2L1314.0,975.0L1326.0,991.7L1338.0,1009.1L1350.0,1027.3L1370.0,1059.0" stroke="url(#bRgb)" stroke-opacity="0.03" stroke-width="1.4"/><path d="M1140.0,856.4L1137.0,856.4L1134.0,856.6L1131.0,856.8L1128.0,857.1L1125.0,857.5L1122.0,858.0L1119.0,858.6L1116.0,859.2L1113.0,860.0L1110.0,860.8L1104.0,862.6L1098.0,864.8L1092.0,867.4L1086.0,870.2L1080.0,873.3L1074.0,876.7L1068.0,880.3L1062.0,884.3L1056.0,888.5L1050.0,893.0L1038.0,902.8L1026.0,913.5L1014.0,925.1L1002.0,937.7L990.0,951.1L978.0,965.3L966.0,980.2L954.0,995.9L942.0,1012.2L930.0,1029.2L910.0,1058.8L890.0,1090.0L870.0,1122.7L850.0,1156.6" stroke="url(#bLgr)" stroke-opacity="0.03" stroke-width="1.4"/><path d="M1140.0,856.4L1143.0,856.4L1146.0,856.6L1149.0,856.8L1152.0,857.1L1155.0,857.4L1158.0,857.9L1161.0,858.4L1164.0,859.0L1167.0,859.7L1170.0,860.5L1176.0,862.3L1182.0,864.4L1188.0,866.8L1194.0,869.6L1200.0,872.6L1206.0,875.9L1212.0,879.6L1218.0,883.5L1224.0,887.8L1230.0,892.3L1242.0,902.2L1254.0,913.2L1266.0,925.2L1278.0,938.2L1290.0,952.1L1302.0,967.0L1314.0,982.7L1326.0,999.2L1338.0,1016.5L1350.0,1034.5L1370.0,1066.0" stroke="url(#bRgr)" stroke-opacity="0.03" stroke-width="1.4"/><path d="M1140.0,865.4L1137.0,865.4L1134.0,865.6L1131.0,865.8L1128.0,866.1L1125.0,866.5L1122.0,867.0L1119.0,867.5L1116.0,868.2L1113.0,868.9L1110.0,869.7L1104.0,871.6L1098.0,873.7L1092.0,876.2L1086.0,879.0L1080.0,882.1L1074.0,885.4L1068.0,889.1L1062.0,893.0L1056.0,897.2L1050.0,901.6L1038.0,911.2L1026.0,921.9L1014.0,933.4L1002.0,945.8L990.0,959.1L978.0,973.1L966.0,987.9L954.0,1003.5L942.0,1019.7L930.0,1036.5L910.0,1065.9L890.0,1096.9L870.0,1129.3L850.0,1163.0" stroke="url(#bLgb)" stroke-opacity="0.03" stroke-width="1.4"/><path d="M1140.0,865.4L1143.0,865.4L1146.0,865.6L1149.0,865.8L1152.0,866.0L1155.0,866.4L1158.0,866.9L1161.0,867.4L1164.0,868.0L1167.0,868.7L1170.0,869.4L1176.0,871.2L1182.0,873.3L1188.0,875.7L1194.0,878.4L1200.0,881.4L1206.0,884.7L1212.0,888.3L1218.0,892.2L1224.0,896.4L1230.0,900.9L1242.0,910.7L1254.0,921.5L1266.0,933.4L1278.0,946.3L1290.0,960.1L1302.0,974.8L1314.0,990.4L1326.0,1006.8L1338.0,1023.9L1350.0,1041.8L1370.0,1073.1" stroke="url(#bRgb)" stroke-opacity="0.03" stroke-width="1.4"/><path d="M1140.0,874.4L1137.0,874.4L1134.0,874.6L1131.0,874.8L1128.0,875.1L1125.0,875.5L1122.0,876.0L1119.0,876.5L1116.0,877.2L1113.0,877.9L1110.0,878.7L1104.0,880.5L1098.0,882.6L1092.0,885.1L1086.0,887.8L1080.0,890.9L1074.0,894.2L1068.0,897.8L1062.0,901.7L1056.0,905.8L1050.0,910.2L1038.0,919.7L1026.0,930.2L1014.0,941.7L1002.0,954.0L990.0,967.1L978.0,981.0L966.0,995.7L954.0,1011.1L942.0,1027.2L930.0,1043.9L910.0,1073.1L890.0,1103.8L870.0,1136.0L850.0,1169.5" stroke="url(#bLgr)" stroke-opacity="0.03" stroke-width="1.4"/><path d="M1140.0,874.4L1143.0,874.4L1146.0,874.6L1149.0,874.8L1152.0,875.0L1155.0,875.4L1158.0,875.8L1161.0,876.4L1164.0,877.0L1167.0,877.6L1170.0,878.4L1176.0,880.1L1182.0,882.2L1188.0,884.6L1194.0,887.2L1200.0,890.2L1206.0,893.5L1212.0,897.1L1218.0,900.9L1224.0,905.1L1230.0,909.5L1242.0,919.2L1254.0,929.9L1266.0,941.7L1278.0,954.5L1290.0,968.1L1302.0,982.7L1314.0,998.2L1326.0,1014.4L1338.0,1031.4L1350.0,1049.1L1370.0,1080.2" stroke="url(#bRgr)" stroke-opacity="0.03" stroke-width="1.4"/><path d="M1140.0,883.4L1137.0,883.4L1134.0,883.6L1131.0,883.8L1128.0,884.1L1125.0,884.5L1122.0,884.9L1119.0,885.5L1116.0,886.1L1113.0,886.8L1110.0,887.6L1104.0,889.4L1098.0,891.6L1092.0,894.0L1086.0,896.7L1080.0,899.7L1074.0,903.0L1068.0,906.5L1062.0,910.4L1056.0,914.5L1050.0,918.8L1038.0,928.2L1026.0,938.6L1014.0,949.9L1002.0,962.1L990.0,975.1L978.0,988.9L966.0,1003.5L954.0,1018.7L942.0,1034.7L930.0,1051.3L910.0,1080.3L890.0,1110.8L870.0,1142.8L850.0,1176.0" stroke="url(#bLgb)" stroke-opacity="0.03" stroke-width="1.4"/><path d="M1140.0,883.4L1143.0,883.4L1146.0,883.6L1149.0,883.8L1152.0,884.0L1155.0,884.4L1158.0,884.8L1161.0,885.3L1164.0,885.9L1167.0,886.6L1170.0,887.3L1176.0,889.1L1182.0,891.1L1188.0,893.5L1194.0,896.1L1200.0,899.0L1206.0,902.3L1212.0,905.8L1218.0,909.6L1224.0,913.7L1230.0,918.1L1242.0,927.7L1254.0,938.3L1266.0,950.0L1278.0,962.6L1290.0,976.2L1302.0,990.6L1314.0,1005.9L1326.0,1022.0L1338.0,1038.9L1350.0,1056.5L1370.0,1087.3" stroke="url(#bRgb)" stroke-opacity="0.03" stroke-width="1.4"/><path d="M1140.0,892.4L1137.0,892.4L1134.0,892.6L1131.0,892.8L1128.0,893.1L1125.0,893.5L1122.0,893.9L1119.0,894.5L1116.0,895.1L1113.0,895.8L1110.0,896.6L1104.0,898.4L1098.0,900.5L1092.0,902.9L1086.0,905.5L1080.0,908.5L1074.0,911.8L1068.0,915.3L1062.0,919.1L1056.0,923.1L1050.0,927.4L1038.0,936.8L1026.0,947.0L1014.0,958.2L1002.0,970.3L990.0,983.2L978.0,996.9L966.0,1011.3L954.0,1026.4L942.0,1042.2L930.0,1058.7L910.0,1087.4L890.0,1117.8L870.0,1149.5L850.0,1182.6" stroke="url(#bLgr)" stroke-opacity="0.03" stroke-width="1.4"/><path d="M1140.0,892.4L1143.0,892.4L1146.0,892.6L1149.0,892.8L1152.0,893.0L1155.0,893.4L1158.0,893.8L1161.0,894.3L1164.0,894.9L1167.0,895.6L1170.0,896.3L1176.0,898.0L1182.0,900.0L1188.0,902.3L1194.0,905.0L1200.0,907.9L1206.0,911.1L1212.0,914.6L1218.0,918.3L1224.0,922.4L1230.0,926.7L1242.0,936.2L1254.0,946.7L1266.0,958.3L1278.0,970.8L1290.0,984.2L1302.0,998.5L1314.0,1013.7L1326.0,1029.7L1338.0,1046.4L1350.0,1063.8L1370.0,1094.4" stroke="url(#bRgr)" stroke-opacity="0.03" stroke-width="1.4"/><path d="M1140.0,901.4L1137.0,901.4L1134.0,901.6L1131.0,901.8L1128.0,902.1L1125.0,902.4L1122.0,902.9L1119.0,903.4L1116.0,904.1L1113.0,904.8L1110.0,905.5L1104.0,907.3L1098.0,909.4L1092.0,911.7L1086.0,914.4L1080.0,917.3L1074.0,920.5L1068.0,924.0L1062.0,927.8L1056.0,931.8L1050.0,936.0L1038.0,945.3L1026.0,955.5L1014.0,966.6L1002.0,978.5L990.0,991.3L978.0,1004.8L966.0,1019.1L954.0,1034.1L942.0,1049.8L930.0,1066.1L910.0,1094.7L890.0,1124.8L870.0,1156.3" stroke="url(#bLgb)" stroke-opacity="0.03" stroke-width="1.4"/><path d="M1140.0,901.4L1143.0,901.4L1146.0,901.6L1149.0,901.7L1152.0,902.0L1155.0,902.4L1158.0,902.8L1161.0,903.3L1164.0,903.9L1167.0,904.5L1170.0,905.3L1176.0,907.0L1182.0,908.9L1188.0,911.2L1194.0,913.8L1200.0,916.7L1206.0,919.9L1212.0,923.3L1218.0,927.1L1224.0,931.1L1230.0,935.4L1242.0,944.7L1254.0,955.2L1266.0,966.6L1278.0,979.0L1290.0,992.3L1302.0,1006.5L1314.0,1021.5L1326.0,1037.3L1338.0,1053.9L1350.0,1071.2L1370.0,1101.6" stroke="url(#bRgb)" stroke-opacity="0.03" stroke-width="1.4"/><path d="M1140.0,910.4L1137.0,910.4L1134.0,910.6L1131.0,910.8L1128.0,911.1L1125.0,911.4L1122.0,911.9L1119.0,912.4L1116.0,913.0L1113.0,913.7L1110.0,914.5L1104.0,916.2L1098.0,918.3L1092.0,920.6L1086.0,923.3L1080.0,926.2L1074.0,929.3L1068.0,932.8L1062.0,936.5L1056.0,940.4L1050.0,944.7L1038.0,953.8L1026.0,963.9L1014.0,974.9L1002.0,986.7L990.0,999.4L978.0,1012.8L966.0,1027.0L954.0,1041.9L942.0,1057.4L930.0,1073.6L910.0,1101.9L890.0,1131.8L870.0,1163.2" stroke="url(#bLgr)" stroke-opacity="0.03" stroke-width="1.4"/><path d="M1140.0,910.4L1143.0,910.4L1146.0,910.6L1149.0,910.7L1152.0,911.0L1155.0,911.4L1158.0,911.8L1161.0,912.3L1164.0,912.8L1167.0,913.5L1170.0,914.2L1176.0,915.9L1182.0,917.9L1188.0,920.1L1194.0,922.7L1200.0,925.5L1206.0,928.7L1212.0,932.1L1218.0,935.8L1224.0,939.8L1230.0,944.0L1242.0,953.3L1254.0,963.6L1266.0,974.9L1278.0,987.2L1290.0,1000.4L1302.0,1014.4L1314.0,1029.3L1326.0,1045.0L1338.0,1061.5L1350.0,1078.7L1370.0,1108.8" stroke="url(#bRgr)" stroke-opacity="0.03" stroke-width="1.4"/><path d="M1140.0,919.4L1137.0,919.4L1134.0,919.6L1131.0,919.8L1128.0,920.1L1125.0,920.4L1122.0,920.9L1119.0,921.4L1116.0,922.0L1113.0,922.7L1110.0,923.4L1104.0,925.2L1098.0,927.2L1092.0,929.5L1086.0,932.1L1080.0,935.0L1074.0,938.1L1068.0,941.5L1062.0,945.2L1056.0,949.1L1050.0,953.3L1038.0,962.4L1026.0,972.3L1014.0,983.2L1002.0,994.9L990.0,1007.5L978.0,1020.8L966.0,1034.8L954.0,1049.6L942.0,1065.0L930.0,1081.1L910.0,1109.2L890.0,1138.9L870.0,1170.0" stroke="url(#bLgb)" stroke-opacity="0.03" stroke-width="1.4"/><path d="M1140.0,919.4L1143.0,919.4L1146.0,919.6L1149.0,919.7L1152.0,920.0L1155.0,920.3L1158.0,920.8L1161.0,921.3L1164.0,921.8L1167.0,922.5L1170.0,923.2L1176.0,924.8L1182.0,926.8L1188.0,929.0L1194.0,931.5L1200.0,934.4L1206.0,937.5L1212.0,940.8L1218.0,944.5L1224.0,948.4L1230.0,952.6L1242.0,961.8L1254.0,972.0L1266.0,983.3L1278.0,995.4L1290.0,1008.5L1302.0,1022.4L1314.0,1037.2L1326.0,1052.8L1338.0,1069.1L1350.0,1086.1L1370.0,1116.0" stroke="url(#bRgb)" stroke-opacity="0.03" stroke-width="1.4"/></g><rect x="832.5" y="105.4" width="522.1" height="1043.7" fill="none" stroke="#000" stroke-width="2.8"/><path d="M832.5,105.4V90.4M890.5,105.4V90.4M948.5,105.4V90.4M1006.5,105.4V90.4M1064.5,105.4V90.4M1122.6,105.4V90.4M1180.6,105.4V90.4M1238.6,105.4V90.4M1296.6,105.4V90.4M1354.6,105.4V90.4M832.5,105.4H817.4M832.5,314.1H817.4M832.5,522.9H817.4M832.5,731.6H817.4M832.5,940.4H817.4M832.5,1149.1H817.4" stroke="#000" stroke-width="2.7" fill="none"/><text transform="translate(820.96,81.80) scale(1.0132,1)" font-size="41.50" fill="#000">0</text><text transform="translate(879.35,81.80) scale(1.0314,1)" font-size="41.50" fill="#000">2</text><text transform="translate(938.03,81.80) scale(1.0233,1)" font-size="41.50" fill="#000">4</text><text transform="translate(996.04,81.80) scale(1.0705,1)" font-size="41.50" fill="#000">6</text><text transform="translate(1054.84,81.80) scale(1.0322,1)" font-size="41.50" fill="#000">8</text><text transform="translate(1101.71,81.80) scale(0.9474,1)" font-size="41.50" fill="#000">10</text><text transform="translate(1159.07,81.80) scale(0.9581,1)" font-size="41.50" fill="#000">12</text><text transform="translate(1216.47,81.80) scale(0.9597,1)" font-size="41.50" fill="#000">14</text><text transform="translate(1274.68,81.80) scale(0.9884,1)" font-size="41.50" fill="#000">16</text><text transform="translate(1332.76,81.80) scale(0.9613,1)" font-size="41.50" fill="#000">18</text><text transform="translate(792.45,117.80) scale(0.9694,1)" font-size="41.00" fill="#000">0</text><text transform="translate(794.61,326.54) scale(0.6053,1)" font-size="41.00" fill="#000">1</text><text transform="translate(792.14,535.28) scale(1.0012,1)" font-size="41.00" fill="#000">2</text><text transform="translate(792.75,744.02) scale(0.9260,1)" font-size="41.00" fill="#000">3</text><text transform="translate(791.84,952.76) scale(1.0213,1)" font-size="41.00" fill="#000">4</text><text transform="translate(792.40,1161.50) scale(0.9774,1)" font-size="41.00" fill="#000">5</text><text transform="translate(969.19,31.20) scale(0.9327,1)" font-size="43.20" fill="#000">Distance (km)</text><text transform="translate(764.10,702.57) rotate(-90) scale(0.8939,1)" font-size="43.20" fill="#000">Time (s)</text><rect x="1371.6" y="105.4" width="26.1" height="1043.7" fill="url(#cbb)" stroke="#000" stroke-width="2.7"/><path d="M1397.7,105.4H1405.5M1397.7,627.2H1405.5M1397.7,1149.1H1405.5" stroke="#000" stroke-width="2.7"/><text transform="translate(1415.36,121.20) scale(1.0219,1)" font-size="41.50" fill="#000">8</text><text transform="translate(1415.59,643.40) scale(0.9930,1)" font-size="41.50" fill="#000">0</text><text transform="translate(1415.48,1164.80) scale(0.9864,1)" font-size="41.50" fill="#000">-8</text><text transform="translate(1397.55,1218.00) scale(0.9688,1)" font-size="41.50" fill="#000">x10</text><text transform="translate(1461.02,1202.30) scale(0.9666,1)" font-size="41.50" fill="#000">-5</text><text transform="translate(1077.96,1205.50) scale(0.9562,1)" font-size="58.00" fill="#000">(b)</text><text transform="translate(1080.09,336.20) scale(0.8709,1)" font-size="36.20" fill="#000">Top of Fm.  B</text><text transform="translate(838.08,412.50) scale(0.9149,1)" font-size="36.20" fill="#000">Bottom of Fm.  B</text><path d="M1094.0,354.0L1137.4,459.2" stroke="#120b0a" stroke-width="4.0" fill="none"/><polygon points="1146.9,482.3 1122.6,458.8 1137.0,458.3 1147.6,448.5" fill="#120b0a"/><path d="M1003.8,421.7L1100.5,482.2" stroke="#120b0a" stroke-width="4.0" fill="none"/><polygon points="1121.7,495.5 1088.3,490.5 1099.7,481.7 1102.6,467.6" fill="#120b0a"/><rect x="114.8" y="1317.5" width="541.7" height="839.4" fill="none" stroke="#231f20" stroke-width="2.5"/><path d="M114.8,1317.5H124.4M656.5,1317.5H646.8M114.8,1457.4H124.4M656.5,1457.4H646.8M114.8,1597.3H124.4M656.5,1597.3H646.8M114.8,1737.2H124.4M656.5,1737.2H646.8M114.8,1877.1H124.4M656.5,1877.1H646.8M114.8,2017.0H124.4M656.5,2017.0H646.8M114.8,2156.9H124.4M656.5,2156.9H646.8" stroke="#231f20" stroke-width="2.5" fill="none"/><text transform="translate(55.61,1327.70) scale(0.9287,1)" font-size="41.20" fill="#454243">0.0</text><text transform="translate(55.66,1467.60) scale(0.8918,1)" font-size="41.20" fill="#454243">0.5</text><text transform="translate(56.73,1607.50) scale(0.9157,1)" font-size="41.20" fill="#454243">1.0</text><text transform="translate(53.12,1747.40) scale(0.8854,1)" font-size="41.20" fill="#454243">1.5</text><text transform="translate(55.26,1887.30) scale(0.9348,1)" font-size="41.20" fill="#454243">2.0</text><text transform="translate(55.31,2027.20) scale(0.9108,1)" font-size="41.20" fill="#454243">2.5</text><text transform="translate(56.16,2167.10) scale(0.9188,1)" font-size="41.20" fill="#454243">3.0</text><text transform="translate(42.70,1786.48) rotate(-90) scale(0.9068,1)" font-size="43.20" fill="#454243">Time (s)</text><text transform="translate(308.75,2211.80) scale(0.9803,1)" font-size="41.00" fill="#454243">x= 11.5 km</text><text transform="translate(309.90,2268.00) scale(0.9058,1)" font-size="57.00" fill="#000">(c)</text><rect x="866.6" y="1315.2" width="541.7" height="839.4" fill="none" stroke="#231f20" stroke-width="2.5"/><path d="M866.6,1315.2H876.2M1408.3,1315.2H1398.6M866.6,1455.1H876.2M1408.3,1455.1H1398.6M866.6,1595.0H876.2M1408.3,1595.0H1398.6M866.6,1734.9H876.2M1408.3,1734.9H1398.6M866.6,1874.8H876.2M1408.3,1874.8H1398.6M866.6,2014.7H876.2M1408.3,2014.7H1398.6M866.6,2154.6H876.2M1408.3,2154.6H1398.6" stroke="#231f20" stroke-width="2.5" fill="none"/><text transform="translate(807.61,1325.70) scale(0.9287,1)" font-size="41.20" fill="#454243">0.0</text><text transform="translate(807.66,1465.60) scale(0.8918,1)" font-size="41.20" fill="#454243">0.5</text><text transform="translate(808.73,1605.50) scale(0.9157,1)" font-size="41.20" fill="#454243">1.0</text><text transform="translate(805.12,1745.40) scale(0.8854,1)" font-size="41.20" fill="#454243">1.5</text><text transform="translate(807.26,1885.30) scale(0.9348,1)" font-size="41.20" fill="#454243">2.0</text><text transform="translate(807.31,2025.20) scale(0.9108,1)" font-size="41.20" fill="#454243">2.5</text><text transform="translate(808.16,2165.10) scale(0.9188,1)" font-size="41.20" fill="#454243">3.0</text><text transform="translate(798.50,1784.58) rotate(-90) scale(0.9061,1)" font-size="43.20" fill="#454243">Time (s)</text><text transform="translate(1062.65,2207.20) scale(0.9763,1)" font-size="41.00" fill="#454243">x= 11.5 km</text><text transform="translate(1077.87,2267.90) scale(0.9546,1)" font-size="58.00" fill="#000">(d)</text><path d="M174.4,1240.4H227.1" stroke="#e41e20" stroke-width="2.8"/><path d="M174.4,1274.8H227.1" stroke="#1c49a0" stroke-width="3.1" stroke-dasharray="14.6 5.4 3.9 5.3"/><text transform="translate(230.65,1249.80) scale(0.9245,1)" font-size="35.00" fill="#231815" stroke="#231815" stroke-width="0.45">Baseline seismic data</text><text transform="translate(230.58,1283.20) scale(0.9481,1)" font-size="35.00" fill="#231815" stroke="#231815" stroke-width="0.45">Monitor seismic data (Fm. A)</text><path d="M927.4,1238.0H980.1" stroke="#e41e20" stroke-width="2.8"/><path d="M927.4,1272.4H980.1" stroke="#000" stroke-width="3.1" stroke-dasharray="14.6 5.4 3.9 5.3"/><text transform="translate(983.65,1247.40) scale(0.9245,1)" font-size="35.00" fill="#231815" stroke="#231815" stroke-width="0.45">Baseline seismic data</text><text transform="translate(983.59,1280.80) scale(0.9429,1)" font-size="35.00" fill="#231815" stroke="#231815" stroke-width="0.45">Monitor seismic data (Fm. B)</text><path d="M331.5,1317.5C331.5,1333.7 331.5,1349.8 331.5,1366.0C331.5,1368.2 331.4,1370.3 331.2,1372.5C331.0,1375.2 174.0,1378.0 174.0,1380.7C174.0,1382.7 633.2,1384.7 633.2,1386.7C633.2,1388.6 242.0,1390.5 242.0,1392.4C242.0,1395.0 323.9,1397.5 323.9,1400.1C323.9,1402.6 209.2,1405.0 209.2,1407.5C209.2,1409.6 538.6,1411.7 538.6,1413.8C538.6,1415.6 282.1,1417.4 282.1,1419.2C282.1,1423.7 351.3,1428.1 351.3,1432.6C351.3,1434.4 292.8,1436.1 292.8,1437.9C292.8,1440.4 336.3,1442.8 336.3,1445.3C336.3,1447.9 328.3,1450.4 328.3,1453.0C328.3,1456.0 330.6,1459.0 331.0,1462.0C331.7,1467.0 332.3,1472.0 332.3,1477.0C332.3,1479.9 287.5,1482.9 287.5,1485.8C287.5,1487.7 409.2,1489.7 409.2,1491.6C409.2,1493.3 308.2,1495.1 308.2,1496.8C308.2,1498.5 334.3,1500.2 334.3,1501.9C334.3,1503.2 330.3,1504.6 330.3,1505.9C330.3,1508.3 332.5,1510.6 332.5,1513.0C332.5,1515.7 331.0,1518.3 331.0,1521.0C331.0,1523.5 351.0,1526.1 351.0,1528.6C351.0,1530.4 297.5,1532.2 297.5,1534.0C297.5,1535.9 341.6,1537.8 341.6,1539.7C341.6,1541.4 327.6,1543.0 327.6,1544.7C327.6,1546.2 336.3,1547.6 336.3,1549.1C336.3,1551.1 328.3,1553.0 328.3,1555.0C328.3,1557.6 331.6,1560.1 331.6,1562.7C331.6,1564.5 330.3,1566.2 330.3,1568.0C330.3,1569.8 332.3,1571.6 332.3,1573.4C332.3,1576.3 274.7,1579.2 274.7,1582.1C274.7,1584.1 427.3,1586.2 427.3,1588.2C427.3,1590.3 300.2,1592.5 300.2,1594.6C300.2,1597.1 346.3,1599.7 346.3,1602.2C346.3,1604.2 322.9,1606.2 322.9,1608.2C322.9,1610.7 341.0,1613.1 341.0,1615.6C341.0,1617.6 317.6,1619.6 317.6,1621.6C317.6,1624.1 335.6,1626.5 335.6,1629.0C335.6,1631.4 327.6,1633.9 327.6,1636.3C327.6,1637.4 329.5,1638.4 329.5,1639.5C329.5,1641.5 288.8,1643.4 288.8,1645.4C288.8,1647.5 397.2,1649.6 397.2,1651.7C397.2,1655.3 270.7,1658.8 270.7,1662.4C270.7,1664.5 372.4,1666.6 372.4,1668.7C372.4,1671.6 297.5,1674.6 297.5,1677.5C297.5,1680.2 341.6,1682.9 341.6,1685.6C341.6,1687.2 316.9,1688.9 316.9,1690.5C316.9,1691.7 330.0,1692.8 330.0,1694.0C330.0,1695.1 309.5,1696.1 309.5,1697.2C309.5,1699.0 364.4,1700.8 364.4,1702.6C364.4,1704.1 340.2,1705.7 335.6,1707.2C322.9,1711.5 313.5,1715.7 313.5,1720.0C313.5,1722.2 343.0,1724.4 343.0,1726.6C343.0,1729.1 326.3,1731.5 326.3,1734.0C326.3,1736.2 334.5,1738.5 334.5,1740.7C334.5,1743.9 288.8,1747.1 288.8,1750.3C288.8,1752.6 401.8,1754.9 401.8,1757.2C401.8,1759.1 308.9,1760.9 308.9,1762.8C308.9,1763.8 320.2,1764.9 320.2,1765.9C320.2,1767.3 302.8,1768.7 302.8,1770.1C302.8,1772.0 415.9,1774.0 415.9,1775.9C415.9,1777.9 275.4,1779.9 275.4,1781.9C275.4,1786.9 339.6,1791.9 339.6,1796.9C339.6,1800.0 314.9,1803.2 314.9,1806.3C314.9,1809.0 359.0,1811.8 359.0,1814.5C359.0,1816.1 317.5,1817.6 317.5,1819.2C317.5,1820.9 333.2,1822.7 333.2,1824.4C333.2,1825.8 317.5,1827.3 317.5,1828.7C317.5,1830.2 333.8,1831.6 333.8,1833.1C333.8,1835.0 318.1,1836.8 318.1,1838.7C318.1,1840.8 350.6,1843.0 350.6,1845.1C350.6,1848.7 315.1,1852.2 315.1,1855.8C315.1,1858.0 353.6,1860.3 353.6,1862.5C353.6,1864.3 323.5,1866.0 323.5,1867.8C323.5,1869.7 341.2,1871.6 341.2,1873.5C341.2,1875.6 318.5,1877.8 318.5,1879.9C318.5,1882.6 338.5,1885.2 338.5,1887.9C338.5,1890.4 324.5,1892.8 324.5,1895.3C324.5,1896.9 331.2,1898.4 331.2,1900.0C331.2,1901.3 319.5,1902.7 319.5,1904.0C319.5,1905.8 356.1,1907.5 356.1,1909.3C356.1,1911.7 316.5,1914.0 316.5,1916.4C316.5,1919.0 344.2,1921.5 344.2,1924.1C344.2,1926.5 317.5,1929.0 317.5,1931.4C317.5,1934.3 340.9,1937.2 340.9,1940.1C340.9,1941.6 333.8,1943.0 333.8,1944.5C333.8,1946.3 341.7,1948.0 342.5,1949.8C343.3,1951.6 343.9,1953.4 343.9,1955.2C343.9,1957.2 322.5,1959.2 320.1,1961.2C316.7,1964.1 314.4,1967.0 314.4,1969.9C314.4,1972.2 326.8,1974.6 326.8,1976.9C326.8,1978.6 321.8,1980.2 321.8,1981.9C321.8,1984.1 330.5,1986.4 330.5,1988.6C330.5,1989.7 329.5,1990.9 329.5,1992.0C329.5,1993.3 332.8,1994.7 332.8,1996.0C332.8,1998.3 332.2,2000.7 332.2,2003.0C332.2,2005.9 338.6,2008.7 338.6,2011.6C338.6,2013.1 334.0,2014.7 334.0,2016.2C334.0,2019.9 338.6,2023.7 338.6,2027.4C338.6,2031.9 332.2,2036.3 332.2,2040.8C332.2,2042.6 335.0,2044.3 335.0,2046.1C335.0,2048.2 327.3,2050.3 327.3,2052.4C327.3,2056.5 334.0,2060.6 334.0,2064.7C334.0,2067.3 329.8,2069.9 329.8,2072.5C329.8,2074.8 334.0,2077.2 334.0,2079.5C334.0,2082.3 330.1,2085.2 330.1,2088.0C330.1,2091.0 330.8,2094.1 330.8,2097.1C330.8,2099.5 329.1,2101.8 329.1,2104.2C329.1,2107.9 333.6,2111.7 333.6,2115.4C333.6,2117.3 327.3,2119.1 327.3,2121.0C327.3,2125.0 332.6,2129.0 332.6,2133.0C332.6,2134.6 329.4,2136.3 329.4,2137.9C329.4,2140.5 335.0,2143.1 335.0,2145.7C335.0,2149.5 331.5,2153.2 329.8,2157.0" fill="none" stroke="#e41e20" stroke-width="3.5"/><path d="M331.5,1317.5C331.5,1333.7 331.5,1349.8 331.5,1366.0C331.5,1368.2 331.4,1370.3 331.2,1372.5C331.0,1375.2 174.0,1378.0 174.0,1380.7C174.0,1382.7 633.2,1384.7 633.2,1386.7C633.2,1388.6 242.0,1390.5 242.0,1392.4C242.0,1395.0 323.9,1397.5 323.9,1400.1C323.9,1402.6 209.2,1405.0 209.2,1407.5C209.2,1409.6 538.6,1411.7 538.6,1413.8C538.6,1415.6 282.1,1417.4 282.1,1419.2C282.1,1423.7 351.3,1428.1 351.3,1432.6C351.3,1434.4 292.8,1436.1 292.8,1437.9C292.8,1440.4 336.3,1442.8 336.3,1445.3C336.3,1447.9 328.3,1450.4 328.3,1453.0C328.3,1456.0 330.6,1459.0 331.0,1462.0C331.7,1467.0 332.3,1472.0 332.3,1477.0C332.3,1479.9 287.5,1482.9 287.5,1485.8C287.5,1487.7 409.2,1489.7 409.2,1491.6C409.2,1493.3 308.2,1495.1 308.2,1496.8C308.2,1498.5 334.3,1500.2 334.3,1501.9C334.3,1503.2 330.3,1504.6 330.3,1505.9C330.3,1508.3 332.5,1510.6 332.5,1513.0C332.5,1515.7 331.0,1518.3 331.0,1521.0C331.0,1523.5 351.0,1526.1 351.0,1528.6C351.0,1530.4 297.5,1532.2 297.5,1534.0C297.5,1535.9 341.6,1537.8 341.6,1539.7C341.6,1541.4 327.6,1543.0 327.6,1544.7C327.6,1546.2 336.3,1547.6 336.3,1549.1C336.3,1551.1 328.3,1553.0 328.3,1555.0C328.3,1557.6 331.6,1560.1 331.6,1562.7C331.6,1564.5 330.3,1566.2 330.3,1568.0C330.3,1569.8 332.3,1571.6 332.3,1573.4C332.3,1576.3 274.7,1579.2 274.7,1582.1C274.7,1584.1 427.3,1586.2 427.3,1588.2C427.3,1590.3 300.2,1592.5 300.2,1594.6C300.2,1597.1 346.3,1599.7 346.3,1602.2C346.3,1604.2 322.9,1606.2 322.9,1608.2C322.9,1610.7 341.0,1613.1 341.0,1615.6C341.0,1617.6 317.6,1619.6 317.6,1621.6C317.6,1624.1 335.6,1626.5 335.6,1629.0C335.6,1631.4 327.6,1633.9 327.6,1636.3C327.6,1637.4 329.5,1638.4 329.5,1639.5C329.5,1641.6 302.8,1643.6 302.8,1645.7C302.8,1647.5 383.8,1649.2 383.8,1651.0C383.8,1654.6 280.8,1658.2 280.8,1661.8C280.8,1663.8 357.0,1665.8 357.0,1667.8C357.0,1671.6 311.5,1675.3 311.5,1679.1C311.5,1681.6 337.0,1684.0 337.0,1686.5C337.0,1689.0 322.2,1691.4 322.2,1693.9C322.2,1697.2 353.7,1700.6 353.7,1703.9C353.7,1709.3 319.6,1714.6 319.6,1720.0C319.6,1722.9 335.6,1725.7 335.6,1728.6C335.6,1730.4 326.3,1732.2 326.3,1734.0C326.3,1736.2 334.5,1738.5 334.5,1740.7C334.5,1744.3 299.5,1747.8 299.5,1751.4C299.5,1753.6 375.1,1755.9 375.1,1758.1C375.1,1762.1 310.2,1766.1 310.2,1770.1C310.2,1772.3 387.8,1774.6 387.8,1776.8C387.8,1779.3 296.2,1781.7 296.2,1784.2C296.2,1788.7 337.6,1793.1 337.6,1797.6C337.6,1800.5 318.2,1803.4 318.2,1806.3C318.2,1809.4 353.0,1812.5 353.0,1815.6C353.0,1820.2 317.5,1824.8 317.5,1829.4C317.5,1830.4 327.5,1831.4 327.5,1832.4C327.5,1834.6 323.5,1836.8 323.5,1839.0C323.5,1842.1 340.9,1845.3 340.9,1848.4C340.9,1851.1 319.5,1853.8 319.5,1856.5C319.5,1858.9 345.2,1861.4 345.2,1863.8C345.2,1865.4 329.5,1866.9 329.5,1868.5C329.5,1869.8 335.5,1871.2 335.5,1872.5C335.5,1874.7 324.1,1877.0 324.1,1879.2C324.1,1881.7 332.8,1884.1 332.8,1886.6C332.8,1892.6 325.5,1898.6 325.5,1904.6C325.5,1906.4 345.9,1908.2 345.9,1910.0C345.9,1912.1 325.5,1914.3 325.5,1916.4C325.5,1919.5 338.9,1922.6 338.9,1925.7C338.9,1927.3 328.2,1928.8 328.2,1930.4C328.2,1934.0 336.2,1937.5 336.2,1941.1C336.2,1943.6 334.8,1946.0 334.8,1948.5C334.8,1951.2 339.5,1953.8 339.5,1956.5C339.5,1960.7 328.8,1965.0 326.8,1969.2C324.8,1973.4 322.8,1977.7 322.8,1981.9C322.8,1984.8 327.6,1987.7 328.2,1990.6C329.0,1994.4 328.9,1998.2 329.5,2002.0C329.9,2004.9 331.3,2007.7 331.5,2010.6C331.7,2013.2 331.7,2015.7 331.9,2018.3C332.1,2021.1 332.8,2023.9 333.3,2026.7C334.0,2030.5 335.4,2034.2 335.4,2038.0C335.4,2040.6 334.6,2043.1 334.0,2045.7C333.4,2048.1 331.5,2050.4 331.5,2052.8C331.5,2056.5 334.3,2060.3 334.3,2064.0C334.3,2067.7 331.0,2071.3 331.0,2075.0C331.0,2078.3 333.0,2081.7 333.0,2085.0C333.0,2088.3 330.0,2091.7 330.0,2095.0C330.0,2100.0 332.5,2105.0 332.5,2110.0C332.5,2114.0 330.0,2118.0 330.0,2122.0C330.0,2126.3 332.0,2130.7 332.0,2135.0C332.0,2138.3 330.5,2141.7 330.5,2145.0C330.5,2149.0 330.8,2153.0 331.0,2157.0" fill="none" stroke="#1c49a0" stroke-width="3.5" stroke-dasharray="14.5 5.1 4.0 5.3"/><path d="M1083.0,1315.0C1083.0,1331.2 1083.0,1347.3 1083.0,1363.5C1083.0,1365.7 1082.9,1367.8 1082.7,1370.0C1082.5,1372.7 925.5,1375.5 925.5,1378.2C925.5,1380.2 1384.7,1382.2 1384.7,1384.2C1384.7,1386.1 993.5,1388.0 993.5,1389.9C993.5,1392.5 1075.4,1395.0 1075.4,1397.6C1075.4,1400.1 960.7,1402.5 960.7,1405.0C960.7,1407.1 1290.1,1409.2 1290.1,1411.3C1290.1,1413.1 1033.6,1414.9 1033.6,1416.7C1033.6,1421.2 1102.8,1425.6 1102.8,1430.1C1102.8,1431.9 1044.3,1433.6 1044.3,1435.4C1044.3,1437.9 1087.8,1440.3 1087.8,1442.8C1087.8,1445.4 1079.8,1447.9 1079.8,1450.5C1079.8,1453.5 1082.1,1456.5 1082.5,1459.5C1083.2,1464.5 1083.8,1469.5 1083.8,1474.5C1083.8,1477.4 1039.0,1480.4 1039.0,1483.3C1039.0,1485.2 1160.7,1487.2 1160.7,1489.1C1160.7,1490.8 1059.7,1492.6 1059.7,1494.3C1059.7,1496.0 1085.8,1497.7 1085.8,1499.4C1085.8,1500.7 1081.8,1502.1 1081.8,1503.4C1081.8,1505.8 1084.0,1508.1 1084.0,1510.5C1084.0,1513.2 1082.5,1515.8 1082.5,1518.5C1082.5,1521.0 1102.5,1523.6 1102.5,1526.1C1102.5,1527.9 1049.0,1529.7 1049.0,1531.5C1049.0,1533.4 1093.1,1535.3 1093.1,1537.2C1093.1,1538.9 1079.1,1540.5 1079.1,1542.2C1079.1,1543.7 1087.8,1545.1 1087.8,1546.6C1087.8,1548.6 1079.8,1550.5 1079.8,1552.5C1079.8,1555.1 1083.1,1557.6 1083.1,1560.2C1083.1,1562.0 1081.8,1563.7 1081.8,1565.5C1081.8,1567.3 1083.8,1569.1 1083.8,1570.9C1083.8,1573.8 1026.2,1576.7 1026.2,1579.6C1026.2,1581.6 1178.8,1583.7 1178.8,1585.7C1178.8,1587.8 1051.7,1590.0 1051.7,1592.1C1051.7,1594.6 1097.8,1597.2 1097.8,1599.7C1097.8,1601.7 1074.4,1603.7 1074.4,1605.7C1074.4,1608.2 1092.5,1610.6 1092.5,1613.1C1092.5,1615.1 1069.1,1617.1 1069.1,1619.1C1069.1,1621.6 1087.1,1624.0 1087.1,1626.5C1087.1,1628.9 1079.1,1631.4 1079.1,1633.8C1079.1,1634.9 1081.0,1635.9 1081.0,1637.0C1081.0,1639.0 1040.3,1640.9 1040.3,1642.9C1040.3,1645.0 1148.7,1647.1 1148.7,1649.2C1148.7,1652.8 1022.2,1656.3 1022.2,1659.9C1022.2,1662.0 1123.9,1664.1 1123.9,1666.2C1123.9,1669.1 1049.0,1672.1 1049.0,1675.0C1049.0,1677.7 1093.1,1680.4 1093.1,1683.1C1093.1,1684.7 1068.4,1686.4 1068.4,1688.0C1068.4,1689.2 1081.5,1690.3 1081.5,1691.5C1081.5,1692.6 1061.0,1693.6 1061.0,1694.7C1061.0,1696.5 1115.9,1698.3 1115.9,1700.1C1115.9,1701.6 1091.7,1703.2 1087.1,1704.7C1074.4,1709.0 1065.0,1713.2 1065.0,1717.5C1065.0,1719.7 1094.5,1721.9 1094.5,1724.1C1094.5,1726.6 1077.8,1729.0 1077.8,1731.5C1077.8,1733.7 1086.0,1736.0 1086.0,1738.2C1086.0,1741.4 1040.3,1744.6 1040.3,1747.8C1040.3,1750.1 1153.3,1752.4 1153.3,1754.7C1153.3,1756.6 1060.4,1758.4 1060.4,1760.3C1060.4,1761.3 1071.7,1762.4 1071.7,1763.4C1071.7,1764.8 1054.3,1766.2 1054.3,1767.6C1054.3,1769.5 1167.4,1771.5 1167.4,1773.4C1167.4,1775.4 1026.9,1777.4 1026.9,1779.4C1026.9,1784.4 1091.1,1789.4 1091.1,1794.4C1091.1,1797.5 1066.4,1800.7 1066.4,1803.8C1066.4,1806.5 1110.5,1809.3 1110.5,1812.0C1110.5,1813.6 1069.0,1815.1 1069.0,1816.7C1069.0,1818.4 1084.7,1820.2 1084.7,1821.9C1084.7,1823.3 1069.0,1824.8 1069.0,1826.2C1069.0,1827.7 1085.3,1829.1 1085.3,1830.6C1085.3,1832.5 1069.6,1834.3 1069.6,1836.2C1069.6,1838.3 1102.1,1840.5 1102.1,1842.6C1102.1,1846.2 1066.6,1849.7 1066.6,1853.3C1066.6,1855.5 1105.1,1857.8 1105.1,1860.0C1105.1,1861.8 1075.0,1863.5 1075.0,1865.3C1075.0,1867.2 1092.7,1869.1 1092.7,1871.0C1092.7,1873.1 1070.0,1875.3 1070.0,1877.4C1070.0,1880.1 1090.0,1882.7 1090.0,1885.4C1090.0,1887.9 1076.0,1890.3 1076.0,1892.8C1076.0,1894.4 1082.7,1895.9 1082.7,1897.5C1082.7,1898.8 1071.0,1900.2 1071.0,1901.5C1071.0,1903.3 1107.6,1905.0 1107.6,1906.8C1107.6,1909.2 1068.0,1911.5 1068.0,1913.9C1068.0,1916.5 1095.7,1919.0 1095.7,1921.6C1095.7,1924.0 1069.0,1926.5 1069.0,1928.9C1069.0,1931.8 1092.4,1934.7 1092.4,1937.6C1092.4,1939.1 1085.3,1940.5 1085.3,1942.0C1085.3,1943.8 1093.2,1945.5 1094.0,1947.3C1094.8,1949.1 1095.4,1950.9 1095.4,1952.7C1095.4,1954.7 1074.0,1956.7 1071.6,1958.7C1068.2,1961.6 1065.9,1964.5 1065.9,1967.4C1065.9,1969.7 1078.3,1972.1 1078.3,1974.4C1078.3,1976.1 1073.3,1977.7 1073.3,1979.4C1073.3,1981.6 1082.0,1983.9 1082.0,1986.1C1082.0,1987.2 1081.0,1988.4 1081.0,1989.5C1081.0,1990.8 1084.3,1992.2 1084.3,1993.5C1084.3,1995.8 1083.7,1998.2 1083.7,2000.5C1083.7,2003.4 1090.1,2006.2 1090.1,2009.1C1090.1,2010.6 1085.5,2012.2 1085.5,2013.7C1085.5,2017.4 1090.1,2021.2 1090.1,2024.9C1090.1,2029.4 1083.7,2033.8 1083.7,2038.3C1083.7,2040.1 1086.5,2041.8 1086.5,2043.6C1086.5,2045.7 1078.8,2047.8 1078.8,2049.9C1078.8,2054.0 1085.5,2058.1 1085.5,2062.2C1085.5,2064.8 1081.3,2067.4 1081.3,2070.0C1081.3,2072.3 1085.5,2074.7 1085.5,2077.0C1085.5,2079.8 1081.6,2082.7 1081.6,2085.5C1081.6,2088.5 1082.3,2091.6 1082.3,2094.6C1082.3,2097.0 1080.6,2099.3 1080.6,2101.7C1080.6,2105.4 1085.1,2109.2 1085.1,2112.9C1085.1,2114.8 1078.8,2116.6 1078.8,2118.5C1078.8,2122.5 1084.1,2126.5 1084.1,2130.5C1084.1,2132.1 1080.9,2133.8 1080.9,2135.4C1080.9,2138.0 1086.5,2140.6 1086.5,2143.2C1086.5,2147.0 1083.0,2150.7 1081.3,2154.5" fill="none" stroke="#e41e20" stroke-width="3.5"/><path d="M1083.0,1315.0C1083.0,1331.2 1083.0,1347.3 1083.0,1363.5C1083.0,1365.7 1082.9,1367.8 1082.7,1370.0C1082.5,1372.7 925.5,1375.5 925.5,1378.2C925.5,1380.2 1384.7,1382.2 1384.7,1384.2C1384.7,1386.1 993.5,1388.0 993.5,1389.9C993.5,1392.5 1075.4,1395.0 1075.4,1397.6C1075.4,1400.1 960.7,1402.5 960.7,1405.0C960.7,1407.1 1290.1,1409.2 1290.1,1411.3C1290.1,1413.1 1033.6,1414.9 1033.6,1416.7C1033.6,1421.2 1102.8,1425.6 1102.8,1430.1C1102.8,1431.9 1044.3,1433.6 1044.3,1435.4C1044.3,1437.9 1087.8,1440.3 1087.8,1442.8C1087.8,1445.4 1079.8,1447.9 1079.8,1450.5C1079.8,1453.5 1082.1,1456.5 1082.5,1459.5C1083.2,1464.5 1083.8,1469.5 1083.8,1474.5C1083.8,1477.4 1039.0,1480.4 1039.0,1483.3C1039.0,1485.2 1160.7,1487.2 1160.7,1489.1C1160.7,1490.8 1059.7,1492.6 1059.7,1494.3C1059.7,1496.0 1085.8,1497.7 1085.8,1499.4C1085.8,1500.7 1081.8,1502.1 1081.8,1503.4C1081.8,1505.8 1084.0,1508.1 1084.0,1510.5C1084.0,1513.2 1082.5,1515.8 1082.5,1518.5C1082.5,1521.0 1102.5,1523.6 1102.5,1526.1C1102.5,1527.9 1049.0,1529.7 1049.0,1531.5C1049.0,1533.4 1093.1,1535.3 1093.1,1537.2C1093.1,1538.9 1079.1,1540.5 1079.1,1542.2C1079.1,1543.7 1087.8,1545.1 1087.8,1546.6C1087.8,1548.6 1079.8,1550.5 1079.8,1552.5C1079.8,1555.1 1083.1,1557.6 1083.1,1560.2C1083.1,1562.0 1081.8,1563.7 1081.8,1565.5C1081.8,1567.3 1083.8,1569.1 1083.8,1570.9C1083.8,1573.8 1026.2,1576.7 1026.2,1579.6C1026.2,1581.6 1178.8,1583.7 1178.8,1585.7C1178.8,1587.8 1051.7,1590.0 1051.7,1592.1C1051.7,1594.6 1097.8,1597.2 1097.8,1599.7C1097.8,1601.7 1074.4,1603.7 1074.4,1605.7C1074.4,1608.2 1092.5,1610.6 1092.5,1613.1C1092.5,1615.1 1069.1,1617.1 1069.1,1619.1C1069.1,1621.6 1087.1,1624.0 1087.1,1626.5C1087.1,1628.9 1079.1,1631.4 1079.1,1633.8C1079.1,1634.9 1081.0,1635.9 1081.0,1637.0C1081.0,1639.0 1040.3,1640.9 1040.3,1642.9C1040.3,1645.0 1148.7,1647.1 1148.7,1649.2C1148.7,1652.8 1022.2,1656.3 1022.2,1659.9C1022.2,1662.0 1123.9,1664.1 1123.9,1666.2C1123.9,1669.1 1049.0,1672.1 1049.0,1675.0C1049.0,1677.7 1093.1,1680.4 1093.1,1683.1C1093.1,1684.7 1068.4,1686.4 1068.4,1688.0C1068.4,1689.2 1081.5,1690.3 1081.5,1691.5C1081.5,1692.6 1061.0,1693.6 1061.0,1694.7C1061.0,1696.5 1115.9,1698.3 1115.9,1700.1C1115.9,1701.6 1091.7,1703.2 1087.1,1704.7C1074.4,1709.0 1065.0,1713.2 1065.0,1717.5C1065.0,1719.7 1094.5,1721.9 1094.5,1724.1C1094.5,1726.6 1077.8,1729.0 1077.8,1731.5C1077.8,1733.7 1086.0,1736.0 1086.0,1738.2C1086.0,1741.4 1040.3,1744.6 1040.3,1747.8C1040.3,1750.1 1153.3,1752.4 1153.3,1754.7C1153.3,1756.6 1060.4,1758.4 1060.4,1760.3C1060.4,1761.3 1071.7,1762.4 1071.7,1763.4C1071.7,1764.8 1054.3,1766.2 1054.3,1767.6C1054.3,1769.5 1167.4,1771.5 1167.4,1773.4C1167.4,1775.4 1026.9,1777.4 1026.9,1779.4C1026.9,1784.4 1091.1,1789.4 1091.1,1794.4C1091.1,1797.5 1066.4,1800.7 1066.4,1803.8C1066.4,1806.4 1111.6,1809.1 1111.6,1811.7C1111.6,1816.6 1060.8,1821.5 1060.8,1826.4C1060.8,1827.8 1061.3,1829.3 1062.0,1830.7C1062.7,1832.2 1065.0,1833.6 1068.1,1835.1C1073.2,1837.5 1105.6,1840.0 1105.6,1842.4C1105.6,1846.8 1070.1,1851.1 1070.1,1855.5C1070.1,1857.3 1091.5,1859.0 1091.5,1860.8C1091.5,1862.4 1082.2,1863.9 1082.2,1865.5C1082.2,1867.1 1085.5,1868.6 1085.5,1870.2C1085.5,1872.7 1076.2,1875.1 1076.2,1877.6C1076.2,1880.3 1088.2,1882.9 1088.2,1885.6C1088.2,1888.3 1077.2,1890.9 1076.8,1893.6C1076.4,1896.3 1076.2,1898.9 1076.2,1901.6C1076.2,1903.6 1099.8,1905.5 1099.8,1907.5C1099.8,1909.7 1071.0,1911.9 1071.0,1914.1C1071.0,1916.7 1091.7,1919.2 1091.7,1921.8C1091.7,1924.4 1071.7,1927.0 1071.7,1929.6C1071.7,1932.2 1090.0,1934.7 1090.0,1937.3C1090.0,1939.4 1081.9,1941.5 1081.9,1943.6C1081.9,1946.2 1082.2,1948.8 1082.2,1951.4C1082.2,1954.2 1079.1,1957.0 1079.1,1959.8C1079.1,1964.0 1085.7,1968.3 1085.7,1972.5C1085.7,1974.6 1079.8,1976.7 1079.8,1978.8C1079.8,1981.4 1084.0,1984.0 1084.0,1986.6C1084.0,1989.9 1083.7,1993.1 1083.3,1996.4C1083.0,1998.7 1080.8,2001.1 1080.8,2003.4C1080.8,2005.1 1085.7,2006.7 1085.7,2008.4C1085.7,2009.8 1080.8,2011.2 1080.8,2012.6C1080.8,2014.9 1081.5,2017.3 1081.5,2019.6C1081.5,2023.1 1080.5,2026.7 1080.5,2030.2C1080.5,2032.3 1084.0,2034.4 1084.0,2036.5C1084.0,2041.0 1079.4,2045.4 1079.4,2049.9C1079.4,2053.2 1084.3,2056.4 1084.3,2059.7C1084.3,2063.1 1081.0,2066.6 1081.0,2070.0C1081.0,2074.0 1084.0,2078.0 1084.0,2082.0C1084.0,2086.3 1080.5,2090.7 1080.5,2095.0C1080.5,2099.3 1083.5,2103.7 1083.5,2108.0C1083.5,2112.0 1080.0,2116.0 1080.0,2120.0C1080.0,2124.0 1083.0,2128.0 1083.0,2132.0C1083.0,2135.7 1080.5,2139.3 1080.5,2143.0C1080.5,2146.7 1081.5,2150.5 1082.0,2154.2" fill="none" stroke="#050505" stroke-width="3.5" stroke-dasharray="14.5 5.1 4.0 5.3"/><rect x="137.4" y="1840.6" width="136.2" height="309.5" fill="none" stroke="#231f20" stroke-width="2.5"/><rect x="299.2" y="1821.5" width="64.9" height="195.6" fill="none" stroke="#000" stroke-width="2.5"/><path d="M299.2,1951.3L285.5,1951.3" stroke="#120b0a" stroke-width="2.2" fill="none"/><polygon points="274.0,1951.3 289.0,1944.1 286.5,1951.3 289.0,1958.5" fill="#120b0a"/><rect x="886.3" y="1830.2" width="136.5" height="315.4" fill="none" stroke="#231f20" stroke-width="2.5"/><rect x="1050.4" y="1818.7" width="64.9" height="195.7" fill="none" stroke="#000" stroke-width="2.5"/><path d="M1050.4,1951.0L1034.5,1951.0" stroke="#120b0a" stroke-width="2.2" fill="none"/><polygon points="1023.0,1951.0 1038.0,1943.8 1035.5,1951.0 1038.0,1958.2" fill="#120b0a"/><path d="M182.2,1840.6C190.6,1842.1 207.3,1843.5 207.3,1845.0C207.3,1847.5 176.2,1850.1 176.2,1852.6C176.2,1854.8 209.3,1856.9 209.3,1859.1C209.3,1862.1 178.7,1865.1 178.7,1868.1C178.7,1871.5 244.4,1874.8 244.4,1878.2C244.4,1883.9 172.1,1889.5 172.1,1895.2C172.1,1898.9 250.4,1902.6 250.4,1906.3C250.4,1909.1 189.7,1912.0 189.7,1914.8C189.7,1917.6 223.8,1920.5 223.8,1923.3C223.8,1926.6 179.2,1930.0 179.2,1933.3C179.2,1937.5 218.3,1941.7 218.3,1945.9C218.3,1949.9 191.7,1953.9 191.7,1957.9C191.7,1959.9 202.7,1961.9 202.7,1963.9C202.7,1966.3 180.7,1968.6 180.7,1971.0C180.7,1974.1 255.4,1977.1 255.4,1980.2C255.4,1983.8 175.1,1987.4 175.1,1991.0C175.1,1995.2 230.3,1999.4 230.3,2003.6C230.3,2007.3 177.2,2010.9 177.2,2014.6C177.2,2019.1 223.3,2023.7 223.3,2028.2C223.3,2030.2 211.8,2032.2 211.8,2034.2C211.8,2037.5 225.3,2040.9 225.3,2044.2C225.3,2045.5 224.8,2046.9 224.8,2048.2C224.8,2049.7 229.8,2051.2 229.8,2052.7C229.8,2055.9 192.5,2059.1 186.2,2062.3C177.7,2066.6 170.6,2071.0 170.6,2075.3C170.6,2079.0 195.2,2082.7 195.2,2086.4C195.2,2088.7 186.2,2091.1 186.2,2093.4C186.2,2096.9 201.7,2100.4 201.7,2103.9C201.7,2106.1 199.2,2108.2 199.2,2110.4C199.2,2112.6 206.3,2114.8 206.3,2117.0C206.3,2121.2 204.7,2125.3 204.7,2129.5C204.7,2133.5 218.8,2137.5 218.8,2141.5C218.8,2144.4 213.8,2147.2 211.3,2150.1" fill="none" stroke="#e41e20" stroke-width="3.2"/><path d="M192.2,1840.6C197.2,1842.3 207.3,1843.9 207.3,1845.6C207.3,1848.1 176.2,1850.6 176.2,1853.1C176.2,1855.6 203.7,1858.1 203.7,1860.6C203.7,1863.3 189.7,1865.9 189.7,1868.6C189.7,1872.6 228.8,1876.7 228.8,1880.7C228.8,1886.0 180.2,1891.4 180.2,1896.7C180.2,1900.4 233.3,1904.1 233.3,1907.8C233.3,1910.6 202.2,1913.5 202.2,1916.3C202.2,1917.6 211.3,1919.0 211.3,1920.3C211.3,1924.6 192.2,1929.0 192.2,1933.3C192.2,1936.7 206.8,1940.0 206.8,1943.4C206.8,1946.3 200.2,1949.1 199.0,1952.0C197.8,1954.8 197.6,1957.6 196.7,1960.4C195.4,1964.3 191.7,1968.1 191.7,1972.0C191.7,1974.8 229.3,1977.7 229.3,1980.5C229.3,1984.8 190.2,1989.2 190.2,1993.5C190.2,1997.5 219.3,2001.6 219.3,2005.6C219.3,2009.6 188.7,2013.6 188.7,2017.6C188.7,2021.8 214.8,2026.0 214.8,2030.2C214.8,2034.4 213.3,2038.5 213.3,2042.7C213.3,2046.7 223.3,2050.7 223.3,2054.7C223.3,2060.6 211.6,2066.4 201.2,2072.3C197.4,2074.5 184.7,2076.6 184.7,2078.8C184.7,2081.8 192.7,2084.9 192.7,2087.9C192.7,2091.4 186.7,2094.9 186.7,2098.4C186.7,2102.1 194.8,2105.7 197.2,2109.4C199.4,2112.8 202.2,2116.1 202.2,2119.5C202.2,2122.5 199.7,2125.5 199.7,2128.5C199.7,2130.8 200.7,2133.2 201.2,2135.5C202.3,2140.4 203.5,2145.2 204.7,2150.1" fill="none" stroke="#1c49a0" stroke-width="3.2" stroke-dasharray="16 8"/><path d="M931.8,1830.2C940.2,1831.7 956.9,1833.2 956.9,1834.7C956.9,1837.3 925.8,1839.8 925.8,1842.4C925.8,1844.6 958.9,1846.8 958.9,1849.1C958.9,1852.1 928.3,1855.2 928.3,1858.2C928.3,1861.7 994.0,1865.1 994.0,1868.5C994.0,1874.3 921.7,1880.1 921.7,1885.8C921.7,1889.6 1000.0,1893.4 1000.0,1897.2C1000.0,1900.0 939.3,1902.9 939.3,1905.8C939.3,1908.7 973.4,1911.6 973.4,1914.5C973.4,1917.9 928.8,1921.3 928.8,1924.7C928.8,1928.9 967.9,1933.2 967.9,1937.5C967.9,1941.6 941.3,1945.7 941.3,1949.7C941.3,1951.8 952.3,1953.8 952.3,1955.9C952.3,1958.3 930.3,1960.7 930.3,1963.1C930.3,1966.2 1005.0,1969.3 1005.0,1972.5C1005.0,1976.1 924.7,1979.8 924.7,1983.5C924.7,1987.7 979.9,1992.0 979.9,1996.3C979.9,2000.0 926.8,2003.8 926.8,2007.5C926.8,2012.1 972.9,2016.8 972.9,2021.4C972.9,2023.4 961.4,2025.5 961.4,2027.5C961.4,2030.9 974.9,2034.3 974.9,2037.7C974.9,2039.0 974.4,2040.4 974.4,2041.8C974.4,2043.3 979.4,2044.8 979.4,2046.3C979.4,2049.6 942.1,2052.9 935.8,2056.1C927.3,2060.5 920.2,2065.0 920.2,2069.4C920.2,2073.1 944.8,2076.9 944.8,2080.7C944.8,2083.1 935.8,2085.4 935.8,2087.8C935.8,2091.4 951.3,2095.0 951.3,2098.5C951.3,2100.7 948.8,2102.9 948.8,2105.1C948.8,2107.4 955.9,2109.6 955.9,2111.9C955.9,2116.1 954.3,2120.4 954.3,2124.6C954.3,2128.7 968.4,2132.8 968.4,2136.8C968.4,2139.8 963.4,2142.7 960.9,2145.6" fill="none" stroke="#e41e20" stroke-width="3.2"/><path d="M938.2,1830.2C944.2,1830.6 953.0,1831.1 956.3,1831.5C966.7,1832.9 975.3,1834.2 975.3,1835.6C975.3,1836.4 967.6,1837.3 962.3,1838.1C948.5,1840.3 903.1,1842.4 903.1,1844.6C903.1,1846.8 917.3,1848.9 922.1,1851.1C928.0,1853.8 928.6,1856.4 936.2,1859.1C944.4,1862.0 1002.4,1864.8 1002.4,1867.7C1002.4,1874.2 926.2,1880.7 926.2,1887.2C926.2,1890.7 981.3,1894.3 981.3,1897.8C981.3,1900.5 952.2,1903.1 952.2,1905.8C952.2,1907.6 960.3,1909.5 960.3,1911.3C960.3,1916.5 939.2,1921.7 939.2,1926.9C939.2,1930.9 965.8,1934.9 965.8,1938.9C965.8,1942.7 943.2,1946.6 943.2,1950.4C943.2,1953.1 951.2,1955.8 951.2,1958.5C951.2,1960.2 939.2,1961.8 939.2,1963.5C939.2,1966.3 985.3,1969.2 985.3,1972.0C985.3,1975.7 934.2,1979.3 934.2,1983.0C934.2,1987.5 972.3,1992.1 972.3,1996.6C972.3,2000.3 934.2,2003.9 934.2,2007.6C934.2,2012.3 967.8,2017.0 967.8,2021.7C967.8,2024.2 956.2,2026.7 954.2,2029.2C951.2,2032.9 948.7,2036.5 948.7,2040.2C948.7,2043.4 961.8,2046.5 961.8,2049.7C961.8,2052.6 947.2,2055.4 947.2,2058.3C947.2,2061.3 952.2,2064.3 954.2,2067.3C956.7,2071.0 960.8,2074.6 960.8,2078.3C960.8,2081.7 949.2,2085.0 949.2,2088.4C949.2,2092.4 955.1,2096.4 956.8,2100.4C958.3,2103.9 960.3,2107.5 960.3,2111.0C960.3,2115.5 950.2,2120.0 950.2,2124.5C950.2,2129.5 959.3,2134.5 959.3,2139.5C959.3,2141.5 953.2,2143.6 950.2,2145.6" fill="none" stroke="#050505" stroke-width="3.2" stroke-dasharray="12 5 2.5 5"/><path d="M372.0,1967.5L403.8,1950.4" stroke="#cf3a1d" stroke-width="5.2"/><polygon points="343.5,1983.5 371.5,1947.9 374.5,1966.5 388.7,1978.6" fill="#cf3a1d"/><path d="M1129.2,1971.8L1161.0,1954.7" stroke="#cf3a1d" stroke-width="5.2"/><polygon points="1100.7,1987.8 1128.7,1952.2 1131.7,1970.8 1145.9,1982.9" fill="#cf3a1d"/></svg></body></html>
